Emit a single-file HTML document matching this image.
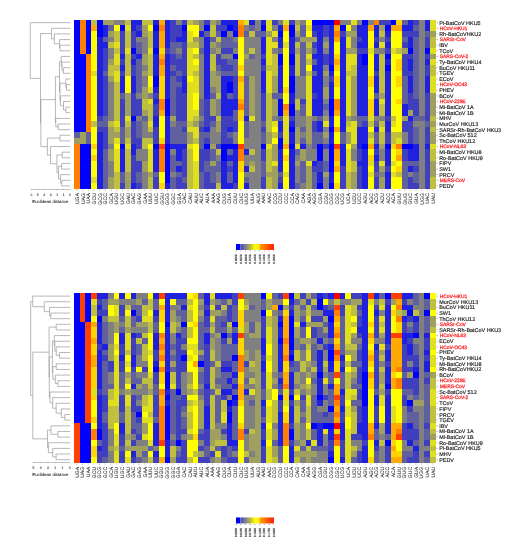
<!DOCTYPE html>
<html><head><meta charset="utf-8">
<style>
html,body{margin:0;padding:0;background:#fff;}
body{width:516px;height:550px;overflow:hidden;}
svg{display:block;will-change:transform;}
text{font-family:"Liberation Sans",sans-serif;text-rendering:geometricPrecision;}
.lb{fill:#222;stroke:#222;stroke-width:0.16px;}
.lr{fill:#ff2a2a;stroke:#ff2a2a;stroke-width:0.263px;}
.cl{fill:#333;stroke:#333;stroke-width:0.087px;}
.lgl{fill:#333;stroke:#333;stroke-width:0.132px;}
.axl{fill:#222;stroke:#222;stroke-width:0.051px;}
.axt{fill:#222;stroke:#222;stroke-width:0.063px;}
.tk{stroke:#777;stroke-width:0.5;fill:none;}
.tk2{stroke:#444;stroke-width:0.6;fill:none;}
.ax{stroke:#888;stroke-width:0.5;fill:none;}
.dg{stroke:#999;stroke-width:0.7;fill:none;}
</style></head><body>
<svg width="516" height="550" viewBox="0 0 516 550">
<defs><filter id="bl" x="-2%" y="-2%" width="104%" height="104%"><feGaussianBlur stdDeviation="0.6"/></filter><filter id="tb" x="-5%" y="-5%" width="110%" height="110%"><feGaussianBlur stdDeviation="0.25"/></filter><linearGradient id="lg1" x1="0" x2="1" y1="0" y2="0">
<stop offset="0" stop-color="#4646b9"/><stop offset="0.27" stop-color="#80808c"/>
<stop offset="0.51" stop-color="#b4b446"/><stop offset="0.77" stop-color="#ffff00"/><stop offset="1" stop-color="#fff000"/>
</linearGradient><linearGradient id="lg2" x1="0" x2="1" y1="0" y2="0">
<stop offset="0" stop-color="#ffa000"/><stop offset="0.35" stop-color="#ff7800"/><stop offset="0.68" stop-color="#ff4600"/><stop offset="1" stop-color="#ff1400"/>
</linearGradient></defs>
<g shape-rendering="crispEdges"><path fill="#0000ff" d="M74.30 19.85h5.65v5.63h-5.65zM85.60 19.85h5.65v5.63h-5.65zM96.90 19.85h5.65v5.63h-5.65zM311.60 19.85h22.60v5.63h-22.60zM362.45 19.85h5.65v5.63h-5.65zM390.70 19.85h5.65v5.63h-5.65zM74.30 25.48h5.65v5.63h-5.65zM85.60 25.48h5.65v5.63h-5.65zM96.90 25.48h5.65v5.63h-5.65zM119.50 25.48h5.65v5.63h-5.65zM153.40 25.48h5.65v5.63h-5.65zM181.65 25.48h5.65v5.63h-5.65zM204.25 25.48h5.65v5.63h-5.65zM226.85 25.48h5.65v5.63h-5.65zM260.75 25.48h5.65v5.63h-5.65zM289.00 25.48h5.65v5.63h-5.65zM339.85 25.48h5.65v5.63h-5.65zM385.05 25.48h5.65v5.63h-5.65zM74.30 31.11h5.65v5.63h-5.65zM85.60 31.11h5.65v5.63h-5.65zM96.90 31.11h5.65v5.63h-5.65zM221.20 31.11h5.65v5.63h-5.65zM232.50 31.11h5.65v5.63h-5.65zM277.70 31.11h5.65v5.63h-5.65zM289.00 31.11h5.65v5.63h-5.65zM74.30 36.74h5.65v5.63h-5.65zM85.60 36.74h5.65v5.63h-5.65zM74.30 42.37h5.65v5.63h-5.65zM85.60 42.37h5.65v5.63h-5.65zM74.30 48.00h5.65v5.63h-5.65zM85.60 48.00h5.65v5.63h-5.65zM130.80 48.00h5.65v5.63h-5.65zM153.40 48.00h5.65v5.63h-5.65zM407.65 48.00h5.65v5.63h-5.65zM424.60 48.00h5.65v5.63h-5.65zM74.30 53.63h11.30v5.63h-11.30zM232.50 53.63h5.65v5.63h-5.65zM277.70 53.63h5.65v5.63h-5.65zM289.00 53.63h5.65v5.63h-5.65zM362.45 53.63h5.65v5.63h-5.65zM385.05 53.63h5.65v5.63h-5.65zM74.30 59.26h11.30v5.63h-11.30zM277.70 59.26h5.65v5.63h-5.65zM289.00 59.26h5.65v5.63h-5.65zM362.45 59.26h5.65v5.63h-5.65zM74.30 64.89h11.30v5.63h-11.30zM328.55 64.89h5.65v5.63h-5.65zM385.05 64.89h5.65v5.63h-5.65zM74.30 70.52h11.30v5.63h-11.30zM74.30 76.15h11.30v5.63h-11.30zM153.40 76.15h5.65v5.63h-5.65zM289.00 76.15h5.65v5.63h-5.65zM74.30 81.78h11.30v5.63h-11.30zM153.40 81.78h5.65v5.63h-5.65zM226.85 81.78h5.65v5.63h-5.65zM289.00 81.78h5.65v5.63h-5.65zM74.30 87.41h11.30v5.63h-11.30zM226.85 87.41h5.65v5.63h-5.65zM289.00 87.41h5.65v5.63h-5.65zM74.30 93.04h11.30v5.63h-11.30zM74.30 98.67h11.30v5.63h-11.30zM164.70 98.67h5.65v5.63h-5.65zM277.70 98.67h5.65v5.63h-5.65zM328.55 98.67h5.65v5.63h-5.65zM74.30 104.30h11.30v5.63h-11.30zM164.70 104.30h5.65v5.63h-5.65zM277.70 104.30h5.65v5.63h-5.65zM289.00 104.30h5.65v5.63h-5.65zM328.55 104.30h5.65v5.63h-5.65zM74.30 109.93h11.30v5.63h-11.30zM164.70 109.93h5.65v5.63h-5.65zM277.70 109.93h5.65v5.63h-5.65zM289.00 109.93h5.65v5.63h-5.65zM328.55 109.93h5.65v5.63h-5.65zM74.30 115.56h11.30v5.63h-11.30zM130.80 115.56h5.65v5.63h-5.65zM74.30 121.19h11.30v5.63h-11.30zM74.30 126.82h11.30v5.63h-11.30zM289.00 126.82h5.65v5.63h-5.65zM328.55 126.82h5.65v5.63h-5.65zM277.70 138.08h5.65v5.63h-5.65zM79.95 143.71h11.30v5.63h-11.30zM119.50 143.71h5.65v5.63h-5.65zM153.40 143.71h5.65v5.63h-5.65zM164.70 143.71h5.65v5.63h-5.65zM204.25 143.71h5.65v5.63h-5.65zM221.20 143.71h16.95v5.63h-16.95zM260.75 143.71h5.65v5.63h-5.65zM277.70 143.71h5.65v5.63h-5.65zM289.00 143.71h5.65v5.63h-5.65zM317.25 143.71h5.65v5.63h-5.65zM328.55 143.71h5.65v5.63h-5.65zM362.45 143.71h5.65v5.63h-5.65zM385.05 143.71h5.65v5.63h-5.65zM402.00 143.71h11.30v5.63h-11.30zM79.95 149.34h11.30v5.63h-11.30zM164.70 149.34h5.65v5.63h-5.65zM221.20 149.34h5.65v5.63h-5.65zM317.25 149.34h5.65v5.63h-5.65zM328.55 149.34h5.65v5.63h-5.65zM79.95 154.97h11.30v5.63h-11.30zM164.70 154.97h5.65v5.63h-5.65zM221.20 154.97h5.65v5.63h-5.65zM317.25 154.97h5.65v5.63h-5.65zM328.55 154.97h5.65v5.63h-5.65zM79.95 160.60h11.30v5.63h-11.30zM164.70 160.60h5.65v5.63h-5.65zM328.55 160.60h5.65v5.63h-5.65zM79.95 166.23h11.30v5.63h-11.30zM164.70 166.23h5.65v5.63h-5.65zM328.55 166.23h5.65v5.63h-5.65zM79.95 171.86h11.30v5.63h-11.30zM164.70 171.86h5.65v5.63h-5.65zM79.95 177.49h11.30v5.63h-11.30zM164.70 177.49h5.65v5.63h-5.65zM79.95 183.12h11.30v5.63h-11.30zM317.25 183.12h5.65v5.63h-5.65zM328.55 183.12h5.65v5.63h-5.65z"/><path fill="#ff8000" d="M79.95 19.85h5.65v5.63h-5.65zM373.75 19.85h5.65v5.63h-5.65zM79.95 25.48h5.65v5.63h-5.65zM159.05 25.48h5.65v5.63h-5.65zM238.15 25.48h5.65v5.63h-5.65zM79.95 31.11h5.65v5.63h-5.65zM238.15 31.11h5.65v5.63h-5.65zM334.20 31.11h5.65v5.63h-5.65zM79.95 36.74h5.65v5.63h-5.65zM79.95 42.37h5.65v5.63h-5.65zM79.95 48.00h5.65v5.63h-5.65zM85.60 53.63h5.65v5.63h-5.65zM85.60 59.26h5.65v5.63h-5.65zM159.05 59.26h5.65v5.63h-5.65zM85.60 64.89h5.65v5.63h-5.65zM85.60 70.52h5.65v5.63h-5.65zM85.60 76.15h5.65v5.63h-5.65zM85.60 81.78h5.65v5.63h-5.65zM85.60 87.41h5.65v5.63h-5.65zM85.60 93.04h5.65v5.63h-5.65zM85.60 98.67h5.65v5.63h-5.65zM159.05 98.67h5.65v5.63h-5.65zM334.20 98.67h5.65v5.63h-5.65zM85.60 104.30h5.65v5.63h-5.65zM159.05 104.30h5.65v5.63h-5.65zM238.15 104.30h5.65v5.63h-5.65zM283.35 104.30h5.65v5.63h-5.65zM334.20 104.30h5.65v5.63h-5.65zM85.60 109.93h5.65v5.63h-5.65zM85.60 115.56h5.65v5.63h-5.65zM85.60 121.19h5.65v5.63h-5.65zM85.60 126.82h5.65v5.63h-5.65zM74.30 143.71h5.65v5.63h-5.65zM396.35 143.71h5.65v5.63h-5.65zM74.30 149.34h5.65v5.63h-5.65zM159.05 149.34h5.65v5.63h-5.65zM238.15 149.34h5.65v5.63h-5.65zM74.30 154.97h5.65v5.63h-5.65zM159.05 154.97h5.65v5.63h-5.65zM238.15 154.97h5.65v5.63h-5.65zM74.30 160.60h5.65v5.63h-5.65zM159.05 160.60h5.65v5.63h-5.65zM74.30 166.23h5.65v5.63h-5.65zM159.05 166.23h5.65v5.63h-5.65zM74.30 171.86h5.65v5.63h-5.65zM74.30 177.49h5.65v5.63h-5.65zM74.30 183.12h5.65v5.63h-5.65z"/><path fill="#bfbf40" d="M91.25 19.85h5.65v5.63h-5.65zM125.15 19.85h5.65v5.63h-5.65zM142.10 19.85h11.30v5.63h-11.30zM187.30 19.85h5.65v5.63h-5.65zM209.90 25.48h5.65v5.63h-5.65zM294.65 25.48h5.65v5.63h-5.65zM113.85 31.11h5.65v5.63h-5.65zM125.15 31.11h5.65v5.63h-5.65zM147.75 31.11h5.65v5.63h-5.65zM209.90 31.11h5.65v5.63h-5.65zM249.45 31.11h5.65v5.63h-5.65zM379.40 31.11h5.65v5.63h-5.65zM113.85 36.74h5.65v5.63h-5.65zM125.15 36.74h5.65v5.63h-5.65zM147.75 36.74h5.65v5.63h-5.65zM215.55 36.74h5.65v5.63h-5.65zM430.25 36.74h5.65v5.63h-5.65zM108.20 42.37h5.65v5.63h-5.65zM125.15 42.37h5.65v5.63h-5.65zM147.75 42.37h5.65v5.63h-5.65zM187.30 42.37h11.30v5.63h-11.30zM294.65 42.37h5.65v5.63h-5.65zM305.95 42.37h5.65v5.63h-5.65zM430.25 42.37h5.65v5.63h-5.65zM113.85 48.00h5.65v5.63h-5.65zM249.45 48.00h5.65v5.63h-5.65zM396.35 48.00h5.65v5.63h-5.65zM125.15 53.63h5.65v5.63h-5.65zM147.75 53.63h5.65v5.63h-5.65zM192.95 53.63h5.65v5.63h-5.65zM209.90 53.63h5.65v5.63h-5.65zM272.05 53.63h5.65v5.63h-5.65zM294.65 53.63h5.65v5.63h-5.65zM379.40 53.63h5.65v5.63h-5.65zM125.15 59.26h5.65v5.63h-5.65zM147.75 59.26h5.65v5.63h-5.65zM209.90 59.26h5.65v5.63h-5.65zM272.05 59.26h5.65v5.63h-5.65zM294.65 59.26h5.65v5.63h-5.65zM305.95 59.26h5.65v5.63h-5.65zM379.40 59.26h5.65v5.63h-5.65zM108.20 64.89h11.30v5.63h-11.30zM125.15 64.89h5.65v5.63h-5.65zM147.75 64.89h5.65v5.63h-5.65zM209.90 64.89h5.65v5.63h-5.65zM266.40 64.89h11.30v5.63h-11.30zM294.65 64.89h5.65v5.63h-5.65zM351.15 64.89h5.65v5.63h-5.65zM379.40 64.89h5.65v5.63h-5.65zM430.25 64.89h5.65v5.63h-5.65zM108.20 70.52h5.65v5.63h-5.65zM125.15 70.52h5.65v5.63h-5.65zM147.75 70.52h5.65v5.63h-5.65zM192.95 70.52h5.65v5.63h-5.65zM272.05 70.52h5.65v5.63h-5.65zM294.65 70.52h5.65v5.63h-5.65zM305.95 70.52h5.65v5.63h-5.65zM345.50 70.52h11.30v5.63h-11.30zM379.40 70.52h5.65v5.63h-5.65zM430.25 70.52h5.65v5.63h-5.65zM379.40 76.15h5.65v5.63h-5.65zM113.85 81.78h5.65v5.63h-5.65zM379.40 81.78h5.65v5.63h-5.65zM113.85 87.41h5.65v5.63h-5.65zM379.40 87.41h5.65v5.63h-5.65zM113.85 93.04h5.65v5.63h-5.65zM215.55 93.04h5.65v5.63h-5.65zM266.40 93.04h5.65v5.63h-5.65zM113.85 98.67h5.65v5.63h-5.65zM142.10 98.67h5.65v5.63h-5.65zM266.40 98.67h5.65v5.63h-5.65zM294.65 98.67h5.65v5.63h-5.65zM113.85 104.30h5.65v5.63h-5.65zM142.10 104.30h11.30v5.63h-11.30zM266.40 104.30h5.65v5.63h-5.65zM294.65 104.30h5.65v5.63h-5.65zM379.40 104.30h5.65v5.63h-5.65zM113.85 109.93h5.65v5.63h-5.65zM147.75 109.93h5.65v5.63h-5.65zM266.40 109.93h5.65v5.63h-5.65zM379.40 109.93h5.65v5.63h-5.65zM113.85 115.56h5.65v5.63h-5.65zM147.75 115.56h5.65v5.63h-5.65zM192.95 115.56h5.65v5.63h-5.65zM215.55 115.56h5.65v5.63h-5.65zM266.40 115.56h5.65v5.63h-5.65zM390.70 115.56h5.65v5.63h-5.65zM430.25 115.56h5.65v5.63h-5.65zM91.25 121.19h5.65v5.63h-5.65zM108.20 121.19h5.65v5.63h-5.65zM125.15 121.19h5.65v5.63h-5.65zM187.30 121.19h5.65v5.63h-5.65zM266.40 121.19h5.65v5.63h-5.65zM345.50 121.19h5.65v5.63h-5.65zM368.10 121.19h5.65v5.63h-5.65zM379.40 121.19h5.65v5.63h-5.65zM113.85 126.82h5.65v5.63h-5.65zM147.75 126.82h5.65v5.63h-5.65zM266.40 126.82h5.65v5.63h-5.65zM430.25 126.82h5.65v5.63h-5.65zM272.05 132.45h5.65v5.63h-5.65zM368.10 132.45h5.65v5.63h-5.65zM379.40 132.45h5.65v5.63h-5.65zM390.70 132.45h11.30v5.63h-11.30zM125.15 138.08h5.65v5.63h-5.65zM142.10 138.08h11.30v5.63h-11.30zM192.95 138.08h5.65v5.63h-5.65zM379.40 138.08h5.65v5.63h-5.65zM390.70 138.08h5.65v5.63h-5.65zM142.10 143.71h5.65v5.63h-5.65zM125.15 149.34h5.65v5.63h-5.65zM187.30 149.34h5.65v5.63h-5.65zM215.55 149.34h5.65v5.63h-5.65zM249.45 149.34h5.65v5.63h-5.65zM266.40 149.34h5.65v5.63h-5.65zM430.25 149.34h5.65v5.63h-5.65zM125.15 154.97h5.65v5.63h-5.65zM187.30 154.97h5.65v5.63h-5.65zM266.40 154.97h5.65v5.63h-5.65zM430.25 154.97h5.65v5.63h-5.65zM125.15 160.60h5.65v5.63h-5.65zM187.30 160.60h5.65v5.63h-5.65zM266.40 160.60h5.65v5.63h-5.65zM351.15 160.60h5.65v5.63h-5.65zM125.15 166.23h5.65v5.63h-5.65zM187.30 166.23h5.65v5.63h-5.65zM249.45 166.23h5.65v5.63h-5.65zM266.40 166.23h5.65v5.63h-5.65zM351.15 166.23h5.65v5.63h-5.65zM113.85 171.86h5.65v5.63h-5.65zM187.30 171.86h5.65v5.63h-5.65zM345.50 171.86h5.65v5.63h-5.65zM396.35 171.86h5.65v5.63h-5.65zM113.85 177.49h5.65v5.63h-5.65zM147.75 177.49h5.65v5.63h-5.65zM187.30 177.49h5.65v5.63h-5.65zM266.40 177.49h5.65v5.63h-5.65zM345.50 177.49h5.65v5.63h-5.65zM430.25 177.49h5.65v5.63h-5.65zM113.85 183.12h5.65v5.63h-5.65zM147.75 183.12h5.65v5.63h-5.65zM187.30 183.12h5.65v5.63h-5.65zM215.55 183.12h5.65v5.63h-5.65zM266.40 183.12h5.65v5.63h-5.65zM345.50 183.12h5.65v5.63h-5.65zM430.25 183.12h5.65v5.63h-5.65z"/><path fill="#9f9f60" d="M102.55 19.85h11.30v5.63h-11.30zM192.95 19.85h5.65v5.63h-5.65zM209.90 19.85h5.65v5.63h-5.65zM294.65 19.85h5.65v5.63h-5.65zM142.10 25.48h5.65v5.63h-5.65zM379.40 25.48h5.65v5.63h-5.65zM108.20 31.11h5.65v5.63h-5.65zM142.10 31.11h5.65v5.63h-5.65zM266.40 31.11h5.65v5.63h-5.65zM294.65 31.11h5.65v5.63h-5.65zM345.50 31.11h11.30v5.63h-11.30zM430.25 31.11h5.65v5.63h-5.65zM192.95 36.74h5.65v5.63h-5.65zM300.30 36.74h16.95v5.63h-16.95zM209.90 42.37h5.65v5.63h-5.65zM322.90 42.37h5.65v5.63h-5.65zM215.55 48.00h5.65v5.63h-5.65zM294.65 48.00h5.65v5.63h-5.65zM305.95 48.00h5.65v5.63h-5.65zM345.50 48.00h11.30v5.63h-11.30zM402.00 48.00h5.65v5.63h-5.65zM142.10 53.63h5.65v5.63h-5.65zM243.80 53.63h5.65v5.63h-5.65zM430.25 53.63h5.65v5.63h-5.65zM108.20 59.26h5.65v5.63h-5.65zM142.10 59.26h5.65v5.63h-5.65zM142.10 70.52h5.65v5.63h-5.65zM209.90 70.52h5.65v5.63h-5.65zM322.90 70.52h5.65v5.63h-5.65zM108.20 76.15h5.65v5.63h-5.65zM209.90 76.15h11.30v5.63h-11.30zM249.45 76.15h5.65v5.63h-5.65zM272.05 76.15h5.65v5.63h-5.65zM351.15 76.15h5.65v5.63h-5.65zM209.90 81.78h11.30v5.63h-11.30zM249.45 81.78h5.65v5.63h-5.65zM272.05 81.78h5.65v5.63h-5.65zM351.15 81.78h5.65v5.63h-5.65zM142.10 87.41h5.65v5.63h-5.65zM215.55 87.41h5.65v5.63h-5.65zM249.45 87.41h5.65v5.63h-5.65zM272.05 87.41h5.65v5.63h-5.65zM322.90 87.41h5.65v5.63h-5.65zM351.15 87.41h5.65v5.63h-5.65zM125.15 93.04h5.65v5.63h-5.65zM142.10 93.04h5.65v5.63h-5.65zM249.45 93.04h5.65v5.63h-5.65zM322.90 93.04h5.65v5.63h-5.65zM351.15 93.04h5.65v5.63h-5.65zM379.40 93.04h5.65v5.63h-5.65zM430.25 93.04h5.65v5.63h-5.65zM125.15 98.67h5.65v5.63h-5.65zM209.90 98.67h5.65v5.63h-5.65zM249.45 98.67h5.65v5.63h-5.65zM272.05 98.67h5.65v5.63h-5.65zM351.15 98.67h5.65v5.63h-5.65zM430.25 98.67h5.65v5.63h-5.65zM125.15 104.30h5.65v5.63h-5.65zM209.90 104.30h5.65v5.63h-5.65zM249.45 104.30h5.65v5.63h-5.65zM272.05 104.30h5.65v5.63h-5.65zM351.15 104.30h5.65v5.63h-5.65zM430.25 104.30h5.65v5.63h-5.65zM125.15 109.93h5.65v5.63h-5.65zM142.10 109.93h5.65v5.63h-5.65zM209.90 109.93h5.65v5.63h-5.65zM249.45 109.93h5.65v5.63h-5.65zM272.05 109.93h5.65v5.63h-5.65zM351.15 109.93h5.65v5.63h-5.65zM407.65 109.93h5.65v5.63h-5.65zM430.25 109.93h5.65v5.63h-5.65zM170.35 115.56h5.65v5.63h-5.65zM305.95 115.56h5.65v5.63h-5.65zM322.90 115.56h5.65v5.63h-5.65zM345.50 115.56h5.65v5.63h-5.65zM402.00 115.56h5.65v5.63h-5.65zM192.95 121.19h5.65v5.63h-5.65zM215.55 121.19h5.65v5.63h-5.65zM305.95 121.19h5.65v5.63h-5.65zM430.25 121.19h5.65v5.63h-5.65zM108.20 126.82h5.65v5.63h-5.65zM125.15 126.82h5.65v5.63h-5.65zM215.55 126.82h5.65v5.63h-5.65zM294.65 126.82h5.65v5.63h-5.65zM305.95 126.82h5.65v5.63h-5.65zM79.95 132.45h5.65v5.63h-5.65zM108.20 132.45h11.30v5.63h-11.30zM125.15 132.45h5.65v5.63h-5.65zM187.30 132.45h5.65v5.63h-5.65zM266.40 132.45h5.65v5.63h-5.65zM294.65 132.45h5.65v5.63h-5.65zM305.95 132.45h5.65v5.63h-5.65zM322.90 132.45h5.65v5.63h-5.65zM345.50 132.45h5.65v5.63h-5.65zM430.25 132.45h5.65v5.63h-5.65zM74.30 138.08h11.30v5.63h-11.30zM108.20 138.08h5.65v5.63h-5.65zM187.30 138.08h5.65v5.63h-5.65zM266.40 138.08h5.65v5.63h-5.65zM294.65 138.08h5.65v5.63h-5.65zM305.95 138.08h5.65v5.63h-5.65zM345.50 138.08h5.65v5.63h-5.65zM430.25 138.08h5.65v5.63h-5.65zM209.90 143.71h5.65v5.63h-5.65zM272.05 143.71h5.65v5.63h-5.65zM351.15 143.71h5.65v5.63h-5.65zM379.40 143.71h5.65v5.63h-5.65zM108.20 149.34h5.65v5.63h-5.65zM272.05 149.34h5.65v5.63h-5.65zM300.30 149.34h5.65v5.63h-5.65zM108.20 154.97h5.65v5.63h-5.65zM272.05 154.97h5.65v5.63h-5.65zM300.30 154.97h5.65v5.63h-5.65zM142.10 160.60h5.65v5.63h-5.65zM209.90 160.60h5.65v5.63h-5.65zM249.45 160.60h5.65v5.63h-5.65zM294.65 160.60h5.65v5.63h-5.65zM430.25 160.60h5.65v5.63h-5.65zM142.10 166.23h5.65v5.63h-5.65zM272.05 166.23h5.65v5.63h-5.65zM305.95 166.23h5.65v5.63h-5.65zM379.40 166.23h5.65v5.63h-5.65zM430.25 166.23h5.65v5.63h-5.65zM125.15 171.86h5.65v5.63h-5.65zM147.75 171.86h5.65v5.63h-5.65zM266.40 171.86h11.30v5.63h-11.30zM305.95 171.86h5.65v5.63h-5.65zM322.90 171.86h5.65v5.63h-5.65zM351.15 171.86h5.65v5.63h-5.65zM430.25 171.86h5.65v5.63h-5.65zM108.20 177.49h5.65v5.63h-5.65zM125.15 177.49h5.65v5.63h-5.65zM272.05 177.49h5.65v5.63h-5.65zM305.95 177.49h5.65v5.63h-5.65zM351.15 177.49h5.65v5.63h-5.65zM379.40 177.49h5.65v5.63h-5.65zM108.20 183.12h5.65v5.63h-5.65zM125.15 183.12h5.65v5.63h-5.65zM272.05 183.12h5.65v5.63h-5.65zM305.95 183.12h5.65v5.63h-5.65zM351.15 183.12h5.65v5.63h-5.65zM379.40 183.12h5.65v5.63h-5.65z"/><path fill="#808080" d="M113.85 19.85h11.30v5.63h-11.30zM176.00 19.85h5.65v5.63h-5.65zM198.60 19.85h5.65v5.63h-5.65zM215.55 19.85h5.65v5.63h-5.65zM255.10 19.85h5.65v5.63h-5.65zM277.70 19.85h5.65v5.63h-5.65zM300.30 19.85h5.65v5.63h-5.65zM339.85 19.85h11.30v5.63h-11.30zM356.80 19.85h5.65v5.63h-5.65zM368.10 19.85h5.65v5.63h-5.65zM418.95 19.85h5.65v5.63h-5.65zM198.60 25.48h5.65v5.63h-5.65zM243.80 25.48h5.65v5.63h-5.65zM255.10 25.48h5.65v5.63h-5.65zM272.05 25.48h5.65v5.63h-5.65zM351.15 25.48h5.65v5.63h-5.65zM418.95 25.48h5.65v5.63h-5.65zM226.85 31.11h5.65v5.63h-5.65zM418.95 31.11h5.65v5.63h-5.65zM108.20 36.74h5.65v5.63h-5.65zM136.45 36.74h11.30v5.63h-11.30zM198.60 36.74h5.65v5.63h-5.65zM232.50 36.74h5.65v5.63h-5.65zM243.80 36.74h16.95v5.63h-16.95zM272.05 36.74h5.65v5.63h-5.65zM322.90 36.74h5.65v5.63h-5.65zM351.15 36.74h5.65v5.63h-5.65zM379.40 36.74h5.65v5.63h-5.65zM418.95 36.74h5.65v5.63h-5.65zM142.10 42.37h5.65v5.63h-5.65zM198.60 42.37h5.65v5.63h-5.65zM215.55 42.37h5.65v5.63h-5.65zM243.80 42.37h16.95v5.63h-16.95zM351.15 42.37h5.65v5.63h-5.65zM418.95 42.37h5.65v5.63h-5.65zM108.20 48.00h5.65v5.63h-5.65zM142.10 48.00h5.65v5.63h-5.65zM176.00 48.00h5.65v5.63h-5.65zM209.90 48.00h5.65v5.63h-5.65zM232.50 48.00h5.65v5.63h-5.65zM243.80 48.00h5.65v5.63h-5.65zM255.10 48.00h5.65v5.63h-5.65zM272.05 48.00h5.65v5.63h-5.65zM322.90 48.00h5.65v5.63h-5.65zM373.75 48.00h11.30v5.63h-11.30zM418.95 48.00h5.65v5.63h-5.65zM108.20 53.63h5.65v5.63h-5.65zM198.60 53.63h5.65v5.63h-5.65zM221.20 53.63h11.30v5.63h-11.30zM255.10 53.63h5.65v5.63h-5.65zM418.95 53.63h5.65v5.63h-5.65zM198.60 59.26h5.65v5.63h-5.65zM243.80 59.26h16.95v5.63h-16.95zM418.95 59.26h5.65v5.63h-5.65zM142.10 64.89h5.65v5.63h-5.65zM198.60 64.89h5.65v5.63h-5.65zM243.80 64.89h16.95v5.63h-16.95zM322.90 64.89h5.65v5.63h-5.65zM418.95 64.89h5.65v5.63h-5.65zM198.60 70.52h5.65v5.63h-5.65zM215.55 70.52h5.65v5.63h-5.65zM243.80 70.52h16.95v5.63h-16.95zM418.95 70.52h5.65v5.63h-5.65zM142.10 76.15h5.65v5.63h-5.65zM198.60 76.15h5.65v5.63h-5.65zM255.10 76.15h5.65v5.63h-5.65zM294.65 76.15h11.30v5.63h-11.30zM322.90 76.15h5.65v5.63h-5.65zM418.95 76.15h5.65v5.63h-5.65zM108.20 81.78h5.65v5.63h-5.65zM142.10 81.78h5.65v5.63h-5.65zM198.60 81.78h5.65v5.63h-5.65zM255.10 81.78h5.65v5.63h-5.65zM294.65 81.78h11.30v5.63h-11.30zM322.90 81.78h5.65v5.63h-5.65zM418.95 81.78h5.65v5.63h-5.65zM108.20 87.41h5.65v5.63h-5.65zM198.60 87.41h5.65v5.63h-5.65zM209.90 87.41h5.65v5.63h-5.65zM255.10 87.41h5.65v5.63h-5.65zM294.65 87.41h11.30v5.63h-11.30zM418.95 87.41h5.65v5.63h-5.65zM108.20 93.04h5.65v5.63h-5.65zM136.45 93.04h5.65v5.63h-5.65zM147.75 93.04h5.65v5.63h-5.65zM198.60 93.04h5.65v5.63h-5.65zM255.10 93.04h5.65v5.63h-5.65zM294.65 93.04h11.30v5.63h-11.30zM418.95 93.04h5.65v5.63h-5.65zM108.20 98.67h5.65v5.63h-5.65zM215.55 98.67h5.65v5.63h-5.65zM255.10 98.67h5.65v5.63h-5.65zM322.90 98.67h5.65v5.63h-5.65zM418.95 98.67h5.65v5.63h-5.65zM108.20 104.30h5.65v5.63h-5.65zM215.55 104.30h5.65v5.63h-5.65zM255.10 104.30h5.65v5.63h-5.65zM418.95 104.30h5.65v5.63h-5.65zM108.20 109.93h5.65v5.63h-5.65zM215.55 109.93h5.65v5.63h-5.65zM255.10 109.93h5.65v5.63h-5.65zM294.65 109.93h5.65v5.63h-5.65zM322.90 109.93h5.65v5.63h-5.65zM418.95 109.93h5.65v5.63h-5.65zM108.20 115.56h5.65v5.63h-5.65zM136.45 115.56h5.65v5.63h-5.65zM198.60 115.56h5.65v5.63h-5.65zM255.10 115.56h5.65v5.63h-5.65zM272.05 115.56h5.65v5.63h-5.65zM294.65 115.56h11.30v5.63h-11.30zM311.60 115.56h5.65v5.63h-5.65zM351.15 115.56h5.65v5.63h-5.65zM373.75 115.56h11.30v5.63h-11.30zM142.10 121.19h5.65v5.63h-5.65zM170.35 121.19h5.65v5.63h-5.65zM249.45 121.19h11.30v5.63h-11.30zM294.65 121.19h11.30v5.63h-11.30zM413.30 121.19h11.30v5.63h-11.30zM142.10 126.82h5.65v5.63h-5.65zM209.90 126.82h5.65v5.63h-5.65zM249.45 126.82h11.30v5.63h-11.30zM322.90 126.82h5.65v5.63h-5.65zM418.95 126.82h5.65v5.63h-5.65zM142.10 132.45h11.30v5.63h-11.30zM209.90 132.45h11.30v5.63h-11.30zM232.50 132.45h5.65v5.63h-5.65zM249.45 132.45h11.30v5.63h-11.30zM300.30 132.45h5.65v5.63h-5.65zM402.00 132.45h5.65v5.63h-5.65zM418.95 132.45h5.65v5.63h-5.65zM209.90 138.08h11.30v5.63h-11.30zM232.50 138.08h5.65v5.63h-5.65zM243.80 138.08h16.95v5.63h-16.95zM322.90 138.08h5.65v5.63h-5.65zM402.00 138.08h5.65v5.63h-5.65zM418.95 138.08h5.65v5.63h-5.65zM108.20 143.71h5.65v5.63h-5.65zM243.80 143.71h16.95v5.63h-16.95zM305.95 143.71h5.65v5.63h-5.65zM418.95 143.71h5.65v5.63h-5.65zM136.45 149.34h11.30v5.63h-11.30zM170.35 149.34h5.65v5.63h-5.65zM255.10 149.34h5.65v5.63h-5.65zM305.95 149.34h11.30v5.63h-11.30zM322.90 149.34h5.65v5.63h-5.65zM351.15 149.34h5.65v5.63h-5.65zM379.40 149.34h5.65v5.63h-5.65zM418.95 149.34h5.65v5.63h-5.65zM136.45 154.97h11.30v5.63h-11.30zM215.55 154.97h5.65v5.63h-5.65zM243.80 154.97h16.95v5.63h-16.95zM294.65 154.97h5.65v5.63h-5.65zM305.95 154.97h11.30v5.63h-11.30zM322.90 154.97h5.65v5.63h-5.65zM351.15 154.97h5.65v5.63h-5.65zM379.40 154.97h5.65v5.63h-5.65zM418.95 154.97h5.65v5.63h-5.65zM108.20 160.60h5.65v5.63h-5.65zM243.80 160.60h5.65v5.63h-5.65zM255.10 160.60h5.65v5.63h-5.65zM418.95 160.60h5.65v5.63h-5.65zM108.20 166.23h5.65v5.63h-5.65zM255.10 166.23h5.65v5.63h-5.65zM294.65 166.23h5.65v5.63h-5.65zM418.95 166.23h5.65v5.63h-5.65zM108.20 171.86h5.65v5.63h-5.65zM142.10 171.86h5.65v5.63h-5.65zM170.35 171.86h5.65v5.63h-5.65zM215.55 171.86h5.65v5.63h-5.65zM243.80 171.86h16.95v5.63h-16.95zM294.65 171.86h5.65v5.63h-5.65zM379.40 171.86h5.65v5.63h-5.65zM407.65 171.86h5.65v5.63h-5.65zM418.95 171.86h5.65v5.63h-5.65zM142.10 177.49h5.65v5.63h-5.65zM215.55 177.49h5.65v5.63h-5.65zM249.45 177.49h11.30v5.63h-11.30zM294.65 177.49h5.65v5.63h-5.65zM322.90 177.49h5.65v5.63h-5.65zM418.95 177.49h5.65v5.63h-5.65zM142.10 183.12h5.65v5.63h-5.65zM249.45 183.12h11.30v5.63h-11.30zM300.30 183.12h5.65v5.63h-5.65zM322.90 183.12h5.65v5.63h-5.65zM418.95 183.12h5.65v5.63h-5.65z"/><path fill="#2020df" d="M130.80 19.85h11.30v5.63h-11.30zM153.40 19.85h5.65v5.63h-5.65zM164.70 19.85h5.65v5.63h-5.65zM221.20 19.85h16.95v5.63h-16.95zM249.45 19.85h5.65v5.63h-5.65zM260.75 19.85h5.65v5.63h-5.65zM407.65 19.85h5.65v5.63h-5.65zM424.60 19.85h5.65v5.63h-5.65zM102.55 25.48h5.65v5.63h-5.65zM130.80 25.48h5.65v5.63h-5.65zM164.70 25.48h5.65v5.63h-5.65zM232.50 25.48h5.65v5.63h-5.65zM277.70 25.48h5.65v5.63h-5.65zM311.60 25.48h11.30v5.63h-11.30zM328.55 25.48h5.65v5.63h-5.65zM356.80 25.48h11.30v5.63h-11.30zM373.75 25.48h5.65v5.63h-5.65zM402.00 25.48h11.30v5.63h-11.30zM424.60 25.48h5.65v5.63h-5.65zM102.55 31.11h5.65v5.63h-5.65zM136.45 31.11h5.65v5.63h-5.65zM153.40 31.11h5.65v5.63h-5.65zM164.70 31.11h5.65v5.63h-5.65zM181.65 31.11h5.65v5.63h-5.65zM198.60 31.11h5.65v5.63h-5.65zM317.25 31.11h5.65v5.63h-5.65zM328.55 31.11h5.65v5.63h-5.65zM356.80 31.11h11.30v5.63h-11.30zM373.75 31.11h5.65v5.63h-5.65zM385.05 31.11h5.65v5.63h-5.65zM96.90 36.74h5.65v5.63h-5.65zM153.40 36.74h5.65v5.63h-5.65zM164.70 36.74h5.65v5.63h-5.65zM176.00 36.74h11.30v5.63h-11.30zM204.25 36.74h5.65v5.63h-5.65zM260.75 36.74h5.65v5.63h-5.65zM277.70 36.74h5.65v5.63h-5.65zM289.00 36.74h5.65v5.63h-5.65zM317.25 36.74h5.65v5.63h-5.65zM328.55 36.74h5.65v5.63h-5.65zM339.85 36.74h5.65v5.63h-5.65zM362.45 36.74h5.65v5.63h-5.65zM407.65 36.74h5.65v5.63h-5.65zM96.90 42.37h11.30v5.63h-11.30zM153.40 42.37h5.65v5.63h-5.65zM164.70 42.37h5.65v5.63h-5.65zM204.25 42.37h5.65v5.63h-5.65zM260.75 42.37h5.65v5.63h-5.65zM277.70 42.37h5.65v5.63h-5.65zM289.00 42.37h5.65v5.63h-5.65zM317.25 42.37h5.65v5.63h-5.65zM328.55 42.37h5.65v5.63h-5.65zM339.85 42.37h5.65v5.63h-5.65zM356.80 42.37h11.30v5.63h-11.30zM373.75 42.37h5.65v5.63h-5.65zM385.05 42.37h5.65v5.63h-5.65zM407.65 42.37h5.65v5.63h-5.65zM96.90 48.00h5.65v5.63h-5.65zM204.25 48.00h5.65v5.63h-5.65zM260.75 48.00h5.65v5.63h-5.65zM289.00 48.00h5.65v5.63h-5.65zM317.25 48.00h5.65v5.63h-5.65zM328.55 48.00h5.65v5.63h-5.65zM339.85 48.00h5.65v5.63h-5.65zM96.90 53.63h5.65v5.63h-5.65zM119.50 53.63h5.65v5.63h-5.65zM136.45 53.63h5.65v5.63h-5.65zM153.40 53.63h5.65v5.63h-5.65zM164.70 53.63h5.65v5.63h-5.65zM204.25 53.63h5.65v5.63h-5.65zM311.60 53.63h11.30v5.63h-11.30zM328.55 53.63h5.65v5.63h-5.65zM339.85 53.63h5.65v5.63h-5.65zM356.80 53.63h5.65v5.63h-5.65zM373.75 53.63h5.65v5.63h-5.65zM96.90 59.26h5.65v5.63h-5.65zM130.80 59.26h5.65v5.63h-5.65zM153.40 59.26h5.65v5.63h-5.65zM164.70 59.26h5.65v5.63h-5.65zM204.25 59.26h5.65v5.63h-5.65zM260.75 59.26h5.65v5.63h-5.65zM317.25 59.26h5.65v5.63h-5.65zM328.55 59.26h5.65v5.63h-5.65zM339.85 59.26h5.65v5.63h-5.65zM356.80 59.26h5.65v5.63h-5.65zM373.75 59.26h5.65v5.63h-5.65zM385.05 59.26h5.65v5.63h-5.65zM407.65 59.26h5.65v5.63h-5.65zM424.60 59.26h5.65v5.63h-5.65zM96.90 64.89h5.65v5.63h-5.65zM119.50 64.89h5.65v5.63h-5.65zM153.40 64.89h5.65v5.63h-5.65zM164.70 64.89h5.65v5.63h-5.65zM204.25 64.89h5.65v5.63h-5.65zM277.70 64.89h5.65v5.63h-5.65zM289.00 64.89h5.65v5.63h-5.65zM311.60 64.89h11.30v5.63h-11.30zM339.85 64.89h5.65v5.63h-5.65zM356.80 64.89h11.30v5.63h-11.30zM373.75 64.89h5.65v5.63h-5.65zM407.65 64.89h5.65v5.63h-5.65zM96.90 70.52h5.65v5.63h-5.65zM153.40 70.52h5.65v5.63h-5.65zM164.70 70.52h5.65v5.63h-5.65zM204.25 70.52h5.65v5.63h-5.65zM260.75 70.52h5.65v5.63h-5.65zM277.70 70.52h5.65v5.63h-5.65zM289.00 70.52h5.65v5.63h-5.65zM317.25 70.52h5.65v5.63h-5.65zM328.55 70.52h5.65v5.63h-5.65zM339.85 70.52h5.65v5.63h-5.65zM356.80 70.52h11.30v5.63h-11.30zM385.05 70.52h5.65v5.63h-5.65zM96.90 76.15h5.65v5.63h-5.65zM119.50 76.15h5.65v5.63h-5.65zM130.80 76.15h5.65v5.63h-5.65zM164.70 76.15h5.65v5.63h-5.65zM181.65 76.15h5.65v5.63h-5.65zM204.25 76.15h5.65v5.63h-5.65zM221.20 76.15h11.30v5.63h-11.30zM260.75 76.15h5.65v5.63h-5.65zM277.70 76.15h5.65v5.63h-5.65zM311.60 76.15h11.30v5.63h-11.30zM339.85 76.15h5.65v5.63h-5.65zM356.80 76.15h11.30v5.63h-11.30zM373.75 76.15h5.65v5.63h-5.65zM385.05 76.15h5.65v5.63h-5.65zM407.65 76.15h5.65v5.63h-5.65zM424.60 76.15h5.65v5.63h-5.65zM96.90 81.78h5.65v5.63h-5.65zM119.50 81.78h5.65v5.63h-5.65zM130.80 81.78h5.65v5.63h-5.65zM164.70 81.78h5.65v5.63h-5.65zM181.65 81.78h5.65v5.63h-5.65zM204.25 81.78h5.65v5.63h-5.65zM221.20 81.78h5.65v5.63h-5.65zM260.75 81.78h5.65v5.63h-5.65zM277.70 81.78h5.65v5.63h-5.65zM311.60 81.78h11.30v5.63h-11.30zM328.55 81.78h5.65v5.63h-5.65zM339.85 81.78h5.65v5.63h-5.65zM356.80 81.78h11.30v5.63h-11.30zM373.75 81.78h5.65v5.63h-5.65zM385.05 81.78h5.65v5.63h-5.65zM407.65 81.78h5.65v5.63h-5.65zM424.60 81.78h5.65v5.63h-5.65zM96.90 87.41h5.65v5.63h-5.65zM119.50 87.41h5.65v5.63h-5.65zM130.80 87.41h5.65v5.63h-5.65zM153.40 87.41h5.65v5.63h-5.65zM164.70 87.41h5.65v5.63h-5.65zM181.65 87.41h5.65v5.63h-5.65zM204.25 87.41h5.65v5.63h-5.65zM221.20 87.41h5.65v5.63h-5.65zM260.75 87.41h5.65v5.63h-5.65zM277.70 87.41h5.65v5.63h-5.65zM311.60 87.41h11.30v5.63h-11.30zM328.55 87.41h5.65v5.63h-5.65zM339.85 87.41h5.65v5.63h-5.65zM356.80 87.41h11.30v5.63h-11.30zM373.75 87.41h5.65v5.63h-5.65zM385.05 87.41h5.65v5.63h-5.65zM407.65 87.41h5.65v5.63h-5.65zM424.60 87.41h5.65v5.63h-5.65zM96.90 93.04h5.65v5.63h-5.65zM164.70 93.04h5.65v5.63h-5.65zM204.25 93.04h5.65v5.63h-5.65zM221.20 93.04h5.65v5.63h-5.65zM289.00 93.04h5.65v5.63h-5.65zM317.25 93.04h5.65v5.63h-5.65zM328.55 93.04h5.65v5.63h-5.65zM339.85 93.04h5.65v5.63h-5.65zM356.80 93.04h11.30v5.63h-11.30zM385.05 93.04h5.65v5.63h-5.65zM96.90 98.67h5.65v5.63h-5.65zM153.40 98.67h5.65v5.63h-5.65zM221.20 98.67h16.95v5.63h-16.95zM289.00 98.67h5.65v5.63h-5.65zM311.60 98.67h11.30v5.63h-11.30zM339.85 98.67h5.65v5.63h-5.65zM356.80 98.67h11.30v5.63h-11.30zM373.75 98.67h5.65v5.63h-5.65zM385.05 98.67h5.65v5.63h-5.65zM96.90 104.30h5.65v5.63h-5.65zM221.20 104.30h16.95v5.63h-16.95zM311.60 104.30h11.30v5.63h-11.30zM339.85 104.30h5.65v5.63h-5.65zM356.80 104.30h11.30v5.63h-11.30zM373.75 104.30h5.65v5.63h-5.65zM385.05 104.30h5.65v5.63h-5.65zM402.00 104.30h5.65v5.63h-5.65zM96.90 109.93h5.65v5.63h-5.65zM221.20 109.93h11.30v5.63h-11.30zM311.60 109.93h11.30v5.63h-11.30zM339.85 109.93h5.65v5.63h-5.65zM356.80 109.93h11.30v5.63h-11.30zM373.75 109.93h5.65v5.63h-5.65zM385.05 109.93h5.65v5.63h-5.65zM402.00 109.93h5.65v5.63h-5.65zM153.40 115.56h5.65v5.63h-5.65zM164.70 115.56h5.65v5.63h-5.65zM243.80 115.56h5.65v5.63h-5.65zM328.55 115.56h5.65v5.63h-5.65zM339.85 115.56h5.65v5.63h-5.65zM407.65 115.56h5.65v5.63h-5.65zM153.40 121.19h5.65v5.63h-5.65zM164.70 121.19h5.65v5.63h-5.65zM277.70 121.19h5.65v5.63h-5.65zM289.00 121.19h5.65v5.63h-5.65zM317.25 121.19h5.65v5.63h-5.65zM328.55 121.19h5.65v5.63h-5.65zM339.85 121.19h5.65v5.63h-5.65zM385.05 121.19h5.65v5.63h-5.65zM164.70 126.82h5.65v5.63h-5.65zM204.25 126.82h5.65v5.63h-5.65zM226.85 126.82h5.65v5.63h-5.65zM277.70 126.82h5.65v5.63h-5.65zM317.25 126.82h5.65v5.63h-5.65zM339.85 126.82h5.65v5.63h-5.65zM356.80 126.82h11.30v5.63h-11.30zM373.75 126.82h5.65v5.63h-5.65zM385.05 126.82h5.65v5.63h-5.65zM96.90 132.45h5.65v5.63h-5.65zM164.70 132.45h5.65v5.63h-5.65zM289.00 132.45h5.65v5.63h-5.65zM328.55 132.45h5.65v5.63h-5.65zM356.80 132.45h11.30v5.63h-11.30zM96.90 138.08h5.65v5.63h-5.65zM164.70 138.08h5.65v5.63h-5.65zM289.00 138.08h5.65v5.63h-5.65zM328.55 138.08h5.65v5.63h-5.65zM356.80 138.08h11.30v5.63h-11.30zM96.90 143.71h5.65v5.63h-5.65zM130.80 143.71h5.65v5.63h-5.65zM170.35 143.71h16.95v5.63h-16.95zM300.30 143.71h5.65v5.63h-5.65zM339.85 143.71h5.65v5.63h-5.65zM356.80 143.71h5.65v5.63h-5.65zM373.75 143.71h5.65v5.63h-5.65zM413.30 143.71h5.65v5.63h-5.65zM424.60 143.71h5.65v5.63h-5.65zM96.90 149.34h5.65v5.63h-5.65zM119.50 149.34h5.65v5.63h-5.65zM130.80 149.34h5.65v5.63h-5.65zM153.40 149.34h5.65v5.63h-5.65zM176.00 149.34h5.65v5.63h-5.65zM232.50 149.34h5.65v5.63h-5.65zM243.80 149.34h5.65v5.63h-5.65zM277.70 149.34h5.65v5.63h-5.65zM289.00 149.34h5.65v5.63h-5.65zM339.85 149.34h5.65v5.63h-5.65zM362.45 149.34h5.65v5.63h-5.65zM385.05 149.34h5.65v5.63h-5.65zM407.65 149.34h11.30v5.63h-11.30zM96.90 154.97h5.65v5.63h-5.65zM119.50 154.97h5.65v5.63h-5.65zM153.40 154.97h5.65v5.63h-5.65zM176.00 154.97h5.65v5.63h-5.65zM226.85 154.97h11.30v5.63h-11.30zM277.70 154.97h5.65v5.63h-5.65zM289.00 154.97h5.65v5.63h-5.65zM339.85 154.97h5.65v5.63h-5.65zM362.45 154.97h5.65v5.63h-5.65zM373.75 154.97h5.65v5.63h-5.65zM385.05 154.97h5.65v5.63h-5.65zM407.65 154.97h11.30v5.63h-11.30zM96.90 160.60h5.65v5.63h-5.65zM119.50 160.60h5.65v5.63h-5.65zM153.40 160.60h5.65v5.63h-5.65zM221.20 160.60h5.65v5.63h-5.65zM232.50 160.60h5.65v5.63h-5.65zM277.70 160.60h5.65v5.63h-5.65zM289.00 160.60h5.65v5.63h-5.65zM311.60 160.60h5.65v5.63h-5.65zM339.85 160.60h5.65v5.63h-5.65zM356.80 160.60h11.30v5.63h-11.30zM385.05 160.60h5.65v5.63h-5.65zM96.90 166.23h5.65v5.63h-5.65zM119.50 166.23h5.65v5.63h-5.65zM153.40 166.23h5.65v5.63h-5.65zM176.00 166.23h5.65v5.63h-5.65zM221.20 166.23h5.65v5.63h-5.65zM232.50 166.23h5.65v5.63h-5.65zM243.80 166.23h5.65v5.63h-5.65zM277.70 166.23h5.65v5.63h-5.65zM289.00 166.23h5.65v5.63h-5.65zM362.45 166.23h5.65v5.63h-5.65zM407.65 166.23h5.65v5.63h-5.65zM96.90 171.86h5.65v5.63h-5.65zM221.20 171.86h5.65v5.63h-5.65zM232.50 171.86h5.65v5.63h-5.65zM289.00 171.86h5.65v5.63h-5.65zM317.25 171.86h5.65v5.63h-5.65zM328.55 171.86h5.65v5.63h-5.65zM362.45 171.86h5.65v5.63h-5.65zM385.05 171.86h5.65v5.63h-5.65zM96.90 177.49h5.65v5.63h-5.65zM221.20 177.49h5.65v5.63h-5.65zM232.50 177.49h5.65v5.63h-5.65zM289.00 177.49h5.65v5.63h-5.65zM317.25 177.49h5.65v5.63h-5.65zM328.55 177.49h5.65v5.63h-5.65zM362.45 177.49h5.65v5.63h-5.65zM385.05 177.49h5.65v5.63h-5.65zM96.90 183.12h5.65v5.63h-5.65zM130.80 183.12h5.65v5.63h-5.65zM164.70 183.12h5.65v5.63h-5.65zM221.20 183.12h11.30v5.63h-11.30zM243.80 183.12h5.65v5.63h-5.65zM277.70 183.12h5.65v5.63h-5.65zM289.00 183.12h5.65v5.63h-5.65zM362.45 183.12h5.65v5.63h-5.65zM385.05 183.12h5.65v5.63h-5.65z"/><path fill="#ffaa00" d="M159.05 19.85h5.65v5.63h-5.65zM238.15 19.85h5.65v5.63h-5.65zM91.25 25.48h5.65v5.63h-5.65zM283.35 25.48h5.65v5.63h-5.65zM334.20 25.48h5.65v5.63h-5.65zM368.10 25.48h5.65v5.63h-5.65zM390.70 25.48h11.30v5.63h-11.30zM159.05 31.11h5.65v5.63h-5.65zM159.05 36.74h5.65v5.63h-5.65zM334.20 36.74h5.65v5.63h-5.65zM159.05 42.37h5.65v5.63h-5.65zM159.05 53.63h5.65v5.63h-5.65zM334.20 59.26h5.65v5.63h-5.65zM159.05 64.89h5.65v5.63h-5.65zM159.05 70.52h5.65v5.63h-5.65zM238.15 76.15h5.65v5.63h-5.65zM238.15 98.67h5.65v5.63h-5.65zM159.05 109.93h5.65v5.63h-5.65zM283.35 109.93h5.65v5.63h-5.65zM334.20 109.93h5.65v5.63h-5.65zM334.20 126.82h5.65v5.63h-5.65zM283.35 143.71h5.65v5.63h-5.65zM368.10 143.71h5.65v5.63h-5.65zM334.20 149.34h5.65v5.63h-5.65zM334.20 154.97h5.65v5.63h-5.65zM396.35 154.97h5.65v5.63h-5.65zM334.20 166.23h5.65v5.63h-5.65z"/><path fill="#4040bf" d="M170.35 19.85h5.65v5.63h-5.65zM181.65 19.85h5.65v5.63h-5.65zM204.25 19.85h5.65v5.63h-5.65zM272.05 19.85h5.65v5.63h-5.65zM289.00 19.85h5.65v5.63h-5.65zM379.40 19.85h11.30v5.63h-11.30zM413.30 19.85h5.65v5.63h-5.65zM136.45 25.48h5.65v5.63h-5.65zM170.35 25.48h11.30v5.63h-11.30zM215.55 25.48h11.30v5.63h-11.30zM322.90 25.48h5.65v5.63h-5.65zM119.50 31.11h5.65v5.63h-5.65zM130.80 31.11h5.65v5.63h-5.65zM170.35 31.11h11.30v5.63h-11.30zM311.60 31.11h5.65v5.63h-5.65zM322.90 31.11h5.65v5.63h-5.65zM339.85 31.11h5.65v5.63h-5.65zM402.00 31.11h16.95v5.63h-16.95zM119.50 36.74h5.65v5.63h-5.65zM130.80 36.74h5.65v5.63h-5.65zM170.35 36.74h5.65v5.63h-5.65zM356.80 36.74h5.65v5.63h-5.65zM373.75 36.74h5.65v5.63h-5.65zM385.05 36.74h5.65v5.63h-5.65zM424.60 36.74h5.65v5.63h-5.65zM119.50 42.37h5.65v5.63h-5.65zM130.80 42.37h5.65v5.63h-5.65zM181.65 42.37h5.65v5.63h-5.65zM311.60 42.37h5.65v5.63h-5.65zM402.00 42.37h5.65v5.63h-5.65zM424.60 42.37h5.65v5.63h-5.65zM102.55 48.00h5.65v5.63h-5.65zM119.50 48.00h5.65v5.63h-5.65zM164.70 48.00h5.65v5.63h-5.65zM181.65 48.00h5.65v5.63h-5.65zM221.20 48.00h11.30v5.63h-11.30zM356.80 48.00h11.30v5.63h-11.30zM385.05 48.00h5.65v5.63h-5.65zM102.55 53.63h5.65v5.63h-5.65zM130.80 53.63h5.65v5.63h-5.65zM170.35 53.63h5.65v5.63h-5.65zM181.65 53.63h5.65v5.63h-5.65zM215.55 53.63h5.65v5.63h-5.65zM260.75 53.63h5.65v5.63h-5.65zM322.90 53.63h5.65v5.63h-5.65zM402.00 53.63h11.30v5.63h-11.30zM424.60 53.63h5.65v5.63h-5.65zM102.55 59.26h5.65v5.63h-5.65zM119.50 59.26h5.65v5.63h-5.65zM170.35 59.26h16.95v5.63h-16.95zM215.55 59.26h11.30v5.63h-11.30zM322.90 59.26h5.65v5.63h-5.65zM402.00 59.26h5.65v5.63h-5.65zM102.55 64.89h5.65v5.63h-5.65zM130.80 64.89h5.65v5.63h-5.65zM176.00 64.89h11.30v5.63h-11.30zM221.20 64.89h11.30v5.63h-11.30zM260.75 64.89h5.65v5.63h-5.65zM402.00 64.89h5.65v5.63h-5.65zM424.60 64.89h5.65v5.63h-5.65zM119.50 70.52h5.65v5.63h-5.65zM130.80 70.52h5.65v5.63h-5.65zM170.35 70.52h5.65v5.63h-5.65zM181.65 70.52h5.65v5.63h-5.65zM373.75 70.52h5.65v5.63h-5.65zM402.00 70.52h11.30v5.63h-11.30zM424.60 70.52h5.65v5.63h-5.65zM102.55 76.15h5.65v5.63h-5.65zM176.00 76.15h5.65v5.63h-5.65zM232.50 76.15h5.65v5.63h-5.65zM328.55 76.15h5.65v5.63h-5.65zM102.55 81.78h5.65v5.63h-5.65zM232.50 81.78h5.65v5.63h-5.65zM102.55 87.41h5.65v5.63h-5.65zM176.00 87.41h5.65v5.63h-5.65zM232.50 87.41h5.65v5.63h-5.65zM102.55 93.04h5.65v5.63h-5.65zM130.80 93.04h5.65v5.63h-5.65zM153.40 93.04h5.65v5.63h-5.65zM176.00 93.04h11.30v5.63h-11.30zM232.50 93.04h5.65v5.63h-5.65zM260.75 93.04h5.65v5.63h-5.65zM311.60 93.04h5.65v5.63h-5.65zM407.65 93.04h5.65v5.63h-5.65zM424.60 93.04h5.65v5.63h-5.65zM102.55 98.67h5.65v5.63h-5.65zM119.50 98.67h5.65v5.63h-5.65zM130.80 98.67h11.30v5.63h-11.30zM176.00 98.67h11.30v5.63h-11.30zM204.25 98.67h5.65v5.63h-5.65zM260.75 98.67h5.65v5.63h-5.65zM300.30 98.67h5.65v5.63h-5.65zM407.65 98.67h11.30v5.63h-11.30zM424.60 98.67h5.65v5.63h-5.65zM102.55 104.30h5.65v5.63h-5.65zM119.50 104.30h5.65v5.63h-5.65zM130.80 104.30h11.30v5.63h-11.30zM153.40 104.30h5.65v5.63h-5.65zM176.00 104.30h11.30v5.63h-11.30zM204.25 104.30h5.65v5.63h-5.65zM260.75 104.30h5.65v5.63h-5.65zM407.65 104.30h11.30v5.63h-11.30zM424.60 104.30h5.65v5.63h-5.65zM102.55 109.93h5.65v5.63h-5.65zM119.50 109.93h5.65v5.63h-5.65zM130.80 109.93h11.30v5.63h-11.30zM153.40 109.93h5.65v5.63h-5.65zM176.00 109.93h11.30v5.63h-11.30zM204.25 109.93h5.65v5.63h-5.65zM260.75 109.93h5.65v5.63h-5.65zM413.30 109.93h5.65v5.63h-5.65zM424.60 109.93h5.65v5.63h-5.65zM96.90 115.56h5.65v5.63h-5.65zM119.50 115.56h5.65v5.63h-5.65zM176.00 115.56h11.30v5.63h-11.30zM204.25 115.56h11.30v5.63h-11.30zM221.20 115.56h11.30v5.63h-11.30zM260.75 115.56h5.65v5.63h-5.65zM289.00 115.56h5.65v5.63h-5.65zM385.05 115.56h5.65v5.63h-5.65zM424.60 115.56h5.65v5.63h-5.65zM119.50 121.19h5.65v5.63h-5.65zM130.80 121.19h5.65v5.63h-5.65zM204.25 121.19h5.65v5.63h-5.65zM221.20 121.19h16.95v5.63h-16.95zM311.60 121.19h5.65v5.63h-5.65zM362.45 121.19h5.65v5.63h-5.65zM402.00 121.19h11.30v5.63h-11.30zM96.90 126.82h11.30v5.63h-11.30zM130.80 126.82h5.65v5.63h-5.65zM153.40 126.82h5.65v5.63h-5.65zM181.65 126.82h5.65v5.63h-5.65zM198.60 126.82h5.65v5.63h-5.65zM221.20 126.82h5.65v5.63h-5.65zM232.50 126.82h5.65v5.63h-5.65zM260.75 126.82h5.65v5.63h-5.65zM311.60 126.82h5.65v5.63h-5.65zM402.00 126.82h11.30v5.63h-11.30zM424.60 126.82h5.65v5.63h-5.65zM102.55 132.45h5.65v5.63h-5.65zM130.80 132.45h5.65v5.63h-5.65zM153.40 132.45h5.65v5.63h-5.65zM221.20 132.45h5.65v5.63h-5.65zM277.70 132.45h5.65v5.63h-5.65zM385.05 132.45h5.65v5.63h-5.65zM407.65 132.45h5.65v5.63h-5.65zM424.60 132.45h5.65v5.63h-5.65zM102.55 138.08h5.65v5.63h-5.65zM130.80 138.08h11.30v5.63h-11.30zM153.40 138.08h5.65v5.63h-5.65zM204.25 138.08h5.65v5.63h-5.65zM221.20 138.08h11.30v5.63h-11.30zM385.05 138.08h5.65v5.63h-5.65zM407.65 138.08h5.65v5.63h-5.65zM424.60 138.08h5.65v5.63h-5.65zM102.55 143.71h5.65v5.63h-5.65zM136.45 143.71h5.65v5.63h-5.65zM215.55 143.71h5.65v5.63h-5.65zM322.90 143.71h5.65v5.63h-5.65zM181.65 149.34h5.65v5.63h-5.65zM198.60 149.34h11.30v5.63h-11.30zM260.75 149.34h5.65v5.63h-5.65zM356.80 149.34h5.65v5.63h-5.65zM373.75 149.34h5.65v5.63h-5.65zM402.00 149.34h5.65v5.63h-5.65zM424.60 149.34h5.65v5.63h-5.65zM130.80 154.97h5.65v5.63h-5.65zM181.65 154.97h5.65v5.63h-5.65zM198.60 154.97h11.30v5.63h-11.30zM260.75 154.97h5.65v5.63h-5.65zM356.80 154.97h5.65v5.63h-5.65zM402.00 154.97h5.65v5.63h-5.65zM424.60 154.97h5.65v5.63h-5.65zM130.80 160.60h11.30v5.63h-11.30zM181.65 160.60h5.65v5.63h-5.65zM198.60 160.60h5.65v5.63h-5.65zM317.25 160.60h5.65v5.63h-5.65zM373.75 160.60h5.65v5.63h-5.65zM424.60 160.60h5.65v5.63h-5.65zM130.80 166.23h11.30v5.63h-11.30zM181.65 166.23h5.65v5.63h-5.65zM198.60 166.23h5.65v5.63h-5.65zM226.85 166.23h5.65v5.63h-5.65zM311.60 166.23h11.30v5.63h-11.30zM339.85 166.23h5.65v5.63h-5.65zM356.80 166.23h5.65v5.63h-5.65zM373.75 166.23h5.65v5.63h-5.65zM385.05 166.23h5.65v5.63h-5.65zM413.30 166.23h5.65v5.63h-5.65zM424.60 166.23h5.65v5.63h-5.65zM130.80 171.86h5.65v5.63h-5.65zM181.65 171.86h5.65v5.63h-5.65zM204.25 171.86h5.65v5.63h-5.65zM339.85 171.86h5.65v5.63h-5.65zM356.80 171.86h5.65v5.63h-5.65zM424.60 171.86h5.65v5.63h-5.65zM130.80 177.49h5.65v5.63h-5.65zM153.40 177.49h5.65v5.63h-5.65zM176.00 177.49h5.65v5.63h-5.65zM204.25 177.49h5.65v5.63h-5.65zM260.75 177.49h5.65v5.63h-5.65zM277.70 177.49h5.65v5.63h-5.65zM339.85 177.49h5.65v5.63h-5.65zM356.80 177.49h5.65v5.63h-5.65zM373.75 177.49h5.65v5.63h-5.65zM407.65 177.49h5.65v5.63h-5.65zM424.60 177.49h5.65v5.63h-5.65zM119.50 183.12h5.65v5.63h-5.65zM136.45 183.12h5.65v5.63h-5.65zM153.40 183.12h5.65v5.63h-5.65zM176.00 183.12h11.30v5.63h-11.30zM204.25 183.12h11.30v5.63h-11.30zM232.50 183.12h5.65v5.63h-5.65zM260.75 183.12h5.65v5.63h-5.65zM339.85 183.12h5.65v5.63h-5.65zM356.80 183.12h5.65v5.63h-5.65zM373.75 183.12h5.65v5.63h-5.65zM407.65 183.12h11.30v5.63h-11.30zM424.60 183.12h5.65v5.63h-5.65z"/><path fill="#dfdf20" d="M243.80 19.85h5.65v5.63h-5.65zM266.40 19.85h5.65v5.63h-5.65zM283.35 19.85h5.65v5.63h-5.65zM351.15 19.85h5.65v5.63h-5.65zM430.25 19.85h5.65v5.63h-5.65zM125.15 25.48h5.65v5.63h-5.65zM266.40 25.48h5.65v5.63h-5.65zM305.95 25.48h5.65v5.63h-5.65zM430.25 25.48h5.65v5.63h-5.65zM187.30 31.11h5.65v5.63h-5.65zM272.05 31.11h5.65v5.63h-5.65zM187.30 36.74h5.65v5.63h-5.65zM266.40 36.74h5.65v5.63h-5.65zM345.50 36.74h5.65v5.63h-5.65zM113.85 42.37h5.65v5.63h-5.65zM266.40 42.37h11.30v5.63h-11.30zM283.35 42.37h5.65v5.63h-5.65zM345.50 42.37h5.65v5.63h-5.65zM379.40 42.37h5.65v5.63h-5.65zM125.15 48.00h5.65v5.63h-5.65zM147.75 48.00h5.65v5.63h-5.65zM187.30 48.00h5.65v5.63h-5.65zM266.40 48.00h5.65v5.63h-5.65zM368.10 48.00h5.65v5.63h-5.65zM390.70 48.00h5.65v5.63h-5.65zM430.25 48.00h5.65v5.63h-5.65zM113.85 53.63h5.65v5.63h-5.65zM187.30 53.63h5.65v5.63h-5.65zM266.40 53.63h5.65v5.63h-5.65zM305.95 53.63h5.65v5.63h-5.65zM345.50 53.63h11.30v5.63h-11.30zM113.85 59.26h5.65v5.63h-5.65zM187.30 59.26h5.65v5.63h-5.65zM266.40 59.26h5.65v5.63h-5.65zM345.50 59.26h11.30v5.63h-11.30zM430.25 59.26h5.65v5.63h-5.65zM187.30 64.89h11.30v5.63h-11.30zM345.50 64.89h5.65v5.63h-5.65zM91.25 70.52h5.65v5.63h-5.65zM113.85 70.52h5.65v5.63h-5.65zM187.30 70.52h5.65v5.63h-5.65zM266.40 70.52h5.65v5.63h-5.65zM113.85 76.15h5.65v5.63h-5.65zM192.95 76.15h5.65v5.63h-5.65zM266.40 76.15h5.65v5.63h-5.65zM305.95 76.15h5.65v5.63h-5.65zM345.50 76.15h5.65v5.63h-5.65zM430.25 76.15h5.65v5.63h-5.65zM187.30 81.78h11.30v5.63h-11.30zM266.40 81.78h5.65v5.63h-5.65zM305.95 81.78h5.65v5.63h-5.65zM345.50 81.78h5.65v5.63h-5.65zM430.25 81.78h5.65v5.63h-5.65zM147.75 87.41h5.65v5.63h-5.65zM187.30 87.41h11.30v5.63h-11.30zM266.40 87.41h5.65v5.63h-5.65zM305.95 87.41h5.65v5.63h-5.65zM345.50 87.41h5.65v5.63h-5.65zM430.25 87.41h5.65v5.63h-5.65zM187.30 93.04h5.65v5.63h-5.65zM305.95 93.04h5.65v5.63h-5.65zM345.50 93.04h5.65v5.63h-5.65zM147.75 98.67h5.65v5.63h-5.65zM187.30 98.67h5.65v5.63h-5.65zM305.95 98.67h5.65v5.63h-5.65zM345.50 98.67h5.65v5.63h-5.65zM379.40 98.67h5.65v5.63h-5.65zM187.30 104.30h5.65v5.63h-5.65zM305.95 104.30h5.65v5.63h-5.65zM345.50 104.30h5.65v5.63h-5.65zM187.30 109.93h11.30v5.63h-11.30zM305.95 109.93h5.65v5.63h-5.65zM345.50 109.93h5.65v5.63h-5.65zM125.15 115.56h5.65v5.63h-5.65zM187.30 115.56h5.65v5.63h-5.65zM249.45 115.56h5.65v5.63h-5.65zM283.35 115.56h5.65v5.63h-5.65zM368.10 115.56h5.65v5.63h-5.65zM113.85 121.19h5.65v5.63h-5.65zM147.75 121.19h5.65v5.63h-5.65zM272.05 121.19h5.65v5.63h-5.65zM283.35 121.19h5.65v5.63h-5.65zM322.90 121.19h5.65v5.63h-5.65zM351.15 121.19h5.65v5.63h-5.65zM390.70 121.19h5.65v5.63h-5.65zM187.30 126.82h11.30v5.63h-11.30zM283.35 126.82h5.65v5.63h-5.65zM345.50 126.82h11.30v5.63h-11.30zM379.40 126.82h5.65v5.63h-5.65zM192.95 132.45h5.65v5.63h-5.65zM283.35 132.45h5.65v5.63h-5.65zM351.15 132.45h5.65v5.63h-5.65zM113.85 138.08h5.65v5.63h-5.65zM283.35 138.08h5.65v5.63h-5.65zM351.15 138.08h5.65v5.63h-5.65zM368.10 138.08h5.65v5.63h-5.65zM396.35 138.08h5.65v5.63h-5.65zM125.15 143.71h5.65v5.63h-5.65zM187.30 143.71h5.65v5.63h-5.65zM266.40 143.71h5.65v5.63h-5.65zM294.65 143.71h5.65v5.63h-5.65zM430.25 143.71h5.65v5.63h-5.65zM113.85 149.34h5.65v5.63h-5.65zM147.75 149.34h5.65v5.63h-5.65zM345.50 149.34h5.65v5.63h-5.65zM113.85 154.97h5.65v5.63h-5.65zM147.75 154.97h5.65v5.63h-5.65zM345.50 154.97h5.65v5.63h-5.65zM113.85 160.60h5.65v5.63h-5.65zM147.75 160.60h5.65v5.63h-5.65zM192.95 160.60h5.65v5.63h-5.65zM272.05 160.60h5.65v5.63h-5.65zM305.95 160.60h5.65v5.63h-5.65zM345.50 160.60h5.65v5.63h-5.65zM368.10 160.60h5.65v5.63h-5.65zM379.40 160.60h5.65v5.63h-5.65zM390.70 160.60h5.65v5.63h-5.65zM113.85 166.23h5.65v5.63h-5.65zM147.75 166.23h5.65v5.63h-5.65zM192.95 166.23h5.65v5.63h-5.65zM345.50 166.23h5.65v5.63h-5.65zM192.95 171.86h5.65v5.63h-5.65zM283.35 171.86h5.65v5.63h-5.65zM368.10 171.86h5.65v5.63h-5.65zM390.70 171.86h5.65v5.63h-5.65zM91.25 177.49h5.65v5.63h-5.65zM192.95 177.49h5.65v5.63h-5.65zM192.95 183.12h5.65v5.63h-5.65z"/><path fill="#ffff00" d="M305.95 19.85h5.65v5.63h-5.65zM113.85 25.48h5.65v5.63h-5.65zM147.75 25.48h5.65v5.63h-5.65zM187.30 25.48h11.30v5.63h-11.30zM345.50 25.48h5.65v5.63h-5.65zM91.25 31.11h5.65v5.63h-5.65zM192.95 31.11h5.65v5.63h-5.65zM283.35 31.11h5.65v5.63h-5.65zM305.95 31.11h5.65v5.63h-5.65zM368.10 31.11h5.65v5.63h-5.65zM390.70 31.11h11.30v5.63h-11.30zM91.25 36.74h5.65v5.63h-5.65zM238.15 36.74h5.65v5.63h-5.65zM283.35 36.74h5.65v5.63h-5.65zM368.10 36.74h5.65v5.63h-5.65zM390.70 36.74h11.30v5.63h-11.30zM91.25 42.37h5.65v5.63h-5.65zM238.15 42.37h5.65v5.63h-5.65zM334.20 42.37h5.65v5.63h-5.65zM368.10 42.37h5.65v5.63h-5.65zM390.70 42.37h11.30v5.63h-11.30zM91.25 48.00h5.65v5.63h-5.65zM192.95 48.00h5.65v5.63h-5.65zM238.15 48.00h5.65v5.63h-5.65zM283.35 48.00h5.65v5.63h-5.65zM334.20 48.00h5.65v5.63h-5.65zM91.25 53.63h5.65v5.63h-5.65zM238.15 53.63h5.65v5.63h-5.65zM283.35 53.63h5.65v5.63h-5.65zM368.10 53.63h5.65v5.63h-5.65zM390.70 53.63h11.30v5.63h-11.30zM91.25 59.26h5.65v5.63h-5.65zM192.95 59.26h5.65v5.63h-5.65zM238.15 59.26h5.65v5.63h-5.65zM283.35 59.26h5.65v5.63h-5.65zM368.10 59.26h5.65v5.63h-5.65zM390.70 59.26h5.65v5.63h-5.65zM91.25 64.89h5.65v5.63h-5.65zM283.35 64.89h5.65v5.63h-5.65zM305.95 64.89h5.65v5.63h-5.65zM368.10 64.89h5.65v5.63h-5.65zM390.70 64.89h5.65v5.63h-5.65zM238.15 70.52h5.65v5.63h-5.65zM283.35 70.52h5.65v5.63h-5.65zM334.20 70.52h5.65v5.63h-5.65zM368.10 70.52h5.65v5.63h-5.65zM390.70 70.52h11.30v5.63h-11.30zM91.25 76.15h5.65v5.63h-5.65zM125.15 76.15h5.65v5.63h-5.65zM147.75 76.15h5.65v5.63h-5.65zM187.30 76.15h5.65v5.63h-5.65zM283.35 76.15h5.65v5.63h-5.65zM390.70 76.15h5.65v5.63h-5.65zM91.25 81.78h5.65v5.63h-5.65zM125.15 81.78h5.65v5.63h-5.65zM147.75 81.78h5.65v5.63h-5.65zM283.35 81.78h5.65v5.63h-5.65zM390.70 81.78h5.65v5.63h-5.65zM91.25 87.41h5.65v5.63h-5.65zM125.15 87.41h5.65v5.63h-5.65zM334.20 87.41h5.65v5.63h-5.65zM368.10 87.41h5.65v5.63h-5.65zM390.70 87.41h11.30v5.63h-11.30zM91.25 93.04h5.65v5.63h-5.65zM192.95 93.04h5.65v5.63h-5.65zM283.35 93.04h5.65v5.63h-5.65zM334.20 93.04h5.65v5.63h-5.65zM368.10 93.04h5.65v5.63h-5.65zM390.70 93.04h11.30v5.63h-11.30zM91.25 98.67h5.65v5.63h-5.65zM192.95 98.67h5.65v5.63h-5.65zM283.35 98.67h5.65v5.63h-5.65zM390.70 98.67h5.65v5.63h-5.65zM91.25 104.30h5.65v5.63h-5.65zM192.95 104.30h5.65v5.63h-5.65zM390.70 104.30h11.30v5.63h-11.30zM91.25 109.93h5.65v5.63h-5.65zM390.70 109.93h11.30v5.63h-11.30zM91.25 115.56h5.65v5.63h-5.65zM159.05 115.56h5.65v5.63h-5.65zM334.20 115.56h5.65v5.63h-5.65zM396.35 115.56h5.65v5.63h-5.65zM159.05 121.19h5.65v5.63h-5.65zM238.15 121.19h5.65v5.63h-5.65zM334.20 121.19h5.65v5.63h-5.65zM396.35 121.19h5.65v5.63h-5.65zM91.25 126.82h5.65v5.63h-5.65zM159.05 126.82h5.65v5.63h-5.65zM238.15 126.82h5.65v5.63h-5.65zM272.05 126.82h5.65v5.63h-5.65zM368.10 126.82h5.65v5.63h-5.65zM390.70 126.82h11.30v5.63h-11.30zM91.25 132.45h5.65v5.63h-5.65zM159.05 132.45h5.65v5.63h-5.65zM238.15 132.45h5.65v5.63h-5.65zM334.20 132.45h5.65v5.63h-5.65zM91.25 138.08h5.65v5.63h-5.65zM238.15 138.08h5.65v5.63h-5.65zM272.05 138.08h5.65v5.63h-5.65zM334.20 138.08h5.65v5.63h-5.65zM113.85 143.71h5.65v5.63h-5.65zM147.75 143.71h5.65v5.63h-5.65zM192.95 143.71h5.65v5.63h-5.65zM345.50 143.71h5.65v5.63h-5.65zM91.25 149.34h5.65v5.63h-5.65zM192.95 149.34h5.65v5.63h-5.65zM283.35 149.34h5.65v5.63h-5.65zM368.10 149.34h5.65v5.63h-5.65zM390.70 149.34h5.65v5.63h-5.65zM192.95 154.97h5.65v5.63h-5.65zM390.70 154.97h5.65v5.63h-5.65zM91.25 160.60h5.65v5.63h-5.65zM283.35 160.60h5.65v5.63h-5.65zM396.35 160.60h5.65v5.63h-5.65zM91.25 166.23h5.65v5.63h-5.65zM283.35 166.23h5.65v5.63h-5.65zM368.10 166.23h5.65v5.63h-5.65zM390.70 166.23h5.65v5.63h-5.65zM91.25 171.86h5.65v5.63h-5.65zM159.05 171.86h5.65v5.63h-5.65zM238.15 171.86h5.65v5.63h-5.65zM334.20 171.86h5.65v5.63h-5.65zM159.05 177.49h5.65v5.63h-5.65zM238.15 177.49h5.65v5.63h-5.65zM283.35 177.49h5.65v5.63h-5.65zM334.20 177.49h5.65v5.63h-5.65zM368.10 177.49h5.65v5.63h-5.65zM390.70 177.49h11.30v5.63h-11.30zM91.25 183.12h5.65v5.63h-5.65zM238.15 183.12h5.65v5.63h-5.65zM283.35 183.12h5.65v5.63h-5.65zM368.10 183.12h5.65v5.63h-5.65zM390.70 183.12h11.30v5.63h-11.30z"/><path fill="#ff0000" d="M334.20 19.85h5.65v5.63h-5.65z"/><path fill="#ffd500" d="M396.35 19.85h5.65v5.63h-5.65zM159.05 48.00h5.65v5.63h-5.65zM334.20 53.63h5.65v5.63h-5.65zM396.35 59.26h5.65v5.63h-5.65zM238.15 64.89h5.65v5.63h-5.65zM334.20 64.89h5.65v5.63h-5.65zM396.35 64.89h5.65v5.63h-5.65zM159.05 76.15h5.65v5.63h-5.65zM334.20 76.15h5.65v5.63h-5.65zM368.10 76.15h5.65v5.63h-5.65zM396.35 76.15h5.65v5.63h-5.65zM159.05 81.78h5.65v5.63h-5.65zM238.15 81.78h5.65v5.63h-5.65zM334.20 81.78h5.65v5.63h-5.65zM368.10 81.78h5.65v5.63h-5.65zM396.35 81.78h5.65v5.63h-5.65zM159.05 87.41h5.65v5.63h-5.65zM238.15 87.41h5.65v5.63h-5.65zM283.35 87.41h5.65v5.63h-5.65zM159.05 93.04h5.65v5.63h-5.65zM238.15 93.04h5.65v5.63h-5.65zM368.10 98.67h5.65v5.63h-5.65zM396.35 98.67h5.65v5.63h-5.65zM368.10 104.30h5.65v5.63h-5.65zM238.15 109.93h5.65v5.63h-5.65zM368.10 109.93h5.65v5.63h-5.65zM238.15 115.56h5.65v5.63h-5.65zM159.05 138.08h5.65v5.63h-5.65zM91.25 143.71h5.65v5.63h-5.65zM390.70 143.71h5.65v5.63h-5.65zM396.35 149.34h5.65v5.63h-5.65zM91.25 154.97h5.65v5.63h-5.65zM283.35 154.97h5.65v5.63h-5.65zM368.10 154.97h5.65v5.63h-5.65zM238.15 160.60h5.65v5.63h-5.65zM334.20 160.60h5.65v5.63h-5.65zM238.15 166.23h5.65v5.63h-5.65zM396.35 166.23h5.65v5.63h-5.65zM159.05 183.12h5.65v5.63h-5.65zM334.20 183.12h5.65v5.63h-5.65z"/><path fill="#60609f" d="M402.00 19.85h5.65v5.63h-5.65zM108.20 25.48h5.65v5.63h-5.65zM249.45 25.48h5.65v5.63h-5.65zM300.30 25.48h5.65v5.63h-5.65zM413.30 25.48h5.65v5.63h-5.65zM204.25 31.11h5.65v5.63h-5.65zM215.55 31.11h5.65v5.63h-5.65zM243.80 31.11h5.65v5.63h-5.65zM255.10 31.11h11.30v5.63h-11.30zM300.30 31.11h5.65v5.63h-5.65zM424.60 31.11h5.65v5.63h-5.65zM102.55 36.74h5.65v5.63h-5.65zM209.90 36.74h5.65v5.63h-5.65zM221.20 36.74h11.30v5.63h-11.30zM294.65 36.74h5.65v5.63h-5.65zM402.00 36.74h5.65v5.63h-5.65zM413.30 36.74h5.65v5.63h-5.65zM136.45 42.37h5.65v5.63h-5.65zM170.35 42.37h11.30v5.63h-11.30zM221.20 42.37h16.95v5.63h-16.95zM300.30 42.37h5.65v5.63h-5.65zM413.30 42.37h5.65v5.63h-5.65zM136.45 48.00h5.65v5.63h-5.65zM170.35 48.00h5.65v5.63h-5.65zM198.60 48.00h5.65v5.63h-5.65zM277.70 48.00h5.65v5.63h-5.65zM300.30 48.00h5.65v5.63h-5.65zM311.60 48.00h5.65v5.63h-5.65zM413.30 48.00h5.65v5.63h-5.65zM176.00 53.63h5.65v5.63h-5.65zM249.45 53.63h5.65v5.63h-5.65zM300.30 53.63h5.65v5.63h-5.65zM413.30 53.63h5.65v5.63h-5.65zM136.45 59.26h5.65v5.63h-5.65zM226.85 59.26h11.30v5.63h-11.30zM300.30 59.26h5.65v5.63h-5.65zM311.60 59.26h5.65v5.63h-5.65zM413.30 59.26h5.65v5.63h-5.65zM136.45 64.89h5.65v5.63h-5.65zM170.35 64.89h5.65v5.63h-5.65zM215.55 64.89h5.65v5.63h-5.65zM232.50 64.89h5.65v5.63h-5.65zM300.30 64.89h5.65v5.63h-5.65zM413.30 64.89h5.65v5.63h-5.65zM102.55 70.52h5.65v5.63h-5.65zM136.45 70.52h5.65v5.63h-5.65zM176.00 70.52h5.65v5.63h-5.65zM221.20 70.52h16.95v5.63h-16.95zM300.30 70.52h5.65v5.63h-5.65zM311.60 70.52h5.65v5.63h-5.65zM413.30 70.52h5.65v5.63h-5.65zM136.45 76.15h5.65v5.63h-5.65zM170.35 76.15h5.65v5.63h-5.65zM243.80 76.15h5.65v5.63h-5.65zM402.00 76.15h5.65v5.63h-5.65zM413.30 76.15h5.65v5.63h-5.65zM136.45 81.78h5.65v5.63h-5.65zM170.35 81.78h11.30v5.63h-11.30zM243.80 81.78h5.65v5.63h-5.65zM402.00 81.78h5.65v5.63h-5.65zM413.30 81.78h5.65v5.63h-5.65zM136.45 87.41h5.65v5.63h-5.65zM170.35 87.41h5.65v5.63h-5.65zM243.80 87.41h5.65v5.63h-5.65zM402.00 87.41h5.65v5.63h-5.65zM413.30 87.41h5.65v5.63h-5.65zM119.50 93.04h5.65v5.63h-5.65zM170.35 93.04h5.65v5.63h-5.65zM209.90 93.04h5.65v5.63h-5.65zM226.85 93.04h5.65v5.63h-5.65zM243.80 93.04h5.65v5.63h-5.65zM272.05 93.04h11.30v5.63h-11.30zM373.75 93.04h5.65v5.63h-5.65zM402.00 93.04h5.65v5.63h-5.65zM413.30 93.04h5.65v5.63h-5.65zM170.35 98.67h5.65v5.63h-5.65zM198.60 98.67h5.65v5.63h-5.65zM243.80 98.67h5.65v5.63h-5.65zM402.00 98.67h5.65v5.63h-5.65zM170.35 104.30h5.65v5.63h-5.65zM198.60 104.30h5.65v5.63h-5.65zM243.80 104.30h5.65v5.63h-5.65zM300.30 104.30h5.65v5.63h-5.65zM322.90 104.30h5.65v5.63h-5.65zM170.35 109.93h5.65v5.63h-5.65zM198.60 109.93h5.65v5.63h-5.65zM232.50 109.93h5.65v5.63h-5.65zM243.80 109.93h5.65v5.63h-5.65zM300.30 109.93h5.65v5.63h-5.65zM102.55 115.56h5.65v5.63h-5.65zM142.10 115.56h5.65v5.63h-5.65zM232.50 115.56h5.65v5.63h-5.65zM277.70 115.56h5.65v5.63h-5.65zM317.25 115.56h5.65v5.63h-5.65zM356.80 115.56h11.30v5.63h-11.30zM413.30 115.56h11.30v5.63h-11.30zM96.90 121.19h11.30v5.63h-11.30zM136.45 121.19h5.65v5.63h-5.65zM176.00 121.19h11.30v5.63h-11.30zM198.60 121.19h5.65v5.63h-5.65zM209.90 121.19h5.65v5.63h-5.65zM243.80 121.19h5.65v5.63h-5.65zM260.75 121.19h5.65v5.63h-5.65zM356.80 121.19h5.65v5.63h-5.65zM373.75 121.19h5.65v5.63h-5.65zM424.60 121.19h5.65v5.63h-5.65zM119.50 126.82h5.65v5.63h-5.65zM136.45 126.82h5.65v5.63h-5.65zM170.35 126.82h11.30v5.63h-11.30zM243.80 126.82h5.65v5.63h-5.65zM300.30 126.82h5.65v5.63h-5.65zM413.30 126.82h5.65v5.63h-5.65zM74.30 132.45h5.65v5.63h-5.65zM85.60 132.45h5.65v5.63h-5.65zM119.50 132.45h5.65v5.63h-5.65zM136.45 132.45h5.65v5.63h-5.65zM170.35 132.45h16.95v5.63h-16.95zM198.60 132.45h11.30v5.63h-11.30zM226.85 132.45h5.65v5.63h-5.65zM243.80 132.45h5.65v5.63h-5.65zM260.75 132.45h5.65v5.63h-5.65zM311.60 132.45h11.30v5.63h-11.30zM339.85 132.45h5.65v5.63h-5.65zM373.75 132.45h5.65v5.63h-5.65zM413.30 132.45h5.65v5.63h-5.65zM85.60 138.08h5.65v5.63h-5.65zM119.50 138.08h5.65v5.63h-5.65zM170.35 138.08h16.95v5.63h-16.95zM198.60 138.08h5.65v5.63h-5.65zM260.75 138.08h5.65v5.63h-5.65zM300.30 138.08h5.65v5.63h-5.65zM311.60 138.08h11.30v5.63h-11.30zM339.85 138.08h5.65v5.63h-5.65zM373.75 138.08h5.65v5.63h-5.65zM413.30 138.08h5.65v5.63h-5.65zM198.60 143.71h5.65v5.63h-5.65zM311.60 143.71h5.65v5.63h-5.65zM102.55 149.34h5.65v5.63h-5.65zM209.90 149.34h5.65v5.63h-5.65zM226.85 149.34h5.65v5.63h-5.65zM294.65 149.34h5.65v5.63h-5.65zM102.55 154.97h5.65v5.63h-5.65zM170.35 154.97h5.65v5.63h-5.65zM209.90 154.97h5.65v5.63h-5.65zM102.55 160.60h5.65v5.63h-5.65zM170.35 160.60h11.30v5.63h-11.30zM204.25 160.60h5.65v5.63h-5.65zM215.55 160.60h5.65v5.63h-5.65zM226.85 160.60h5.65v5.63h-5.65zM260.75 160.60h5.65v5.63h-5.65zM300.30 160.60h5.65v5.63h-5.65zM322.90 160.60h5.65v5.63h-5.65zM402.00 160.60h16.95v5.63h-16.95zM102.55 166.23h5.65v5.63h-5.65zM170.35 166.23h5.65v5.63h-5.65zM204.25 166.23h16.95v5.63h-16.95zM260.75 166.23h5.65v5.63h-5.65zM300.30 166.23h5.65v5.63h-5.65zM322.90 166.23h5.65v5.63h-5.65zM402.00 166.23h5.65v5.63h-5.65zM102.55 171.86h5.65v5.63h-5.65zM119.50 171.86h5.65v5.63h-5.65zM136.45 171.86h5.65v5.63h-5.65zM153.40 171.86h5.65v5.63h-5.65zM176.00 171.86h5.65v5.63h-5.65zM198.60 171.86h5.65v5.63h-5.65zM209.90 171.86h5.65v5.63h-5.65zM226.85 171.86h5.65v5.63h-5.65zM260.75 171.86h5.65v5.63h-5.65zM277.70 171.86h5.65v5.63h-5.65zM300.30 171.86h5.65v5.63h-5.65zM311.60 171.86h5.65v5.63h-5.65zM373.75 171.86h5.65v5.63h-5.65zM402.00 171.86h5.65v5.63h-5.65zM413.30 171.86h5.65v5.63h-5.65zM102.55 177.49h5.65v5.63h-5.65zM119.50 177.49h5.65v5.63h-5.65zM136.45 177.49h5.65v5.63h-5.65zM170.35 177.49h5.65v5.63h-5.65zM181.65 177.49h5.65v5.63h-5.65zM198.60 177.49h5.65v5.63h-5.65zM209.90 177.49h5.65v5.63h-5.65zM226.85 177.49h5.65v5.63h-5.65zM243.80 177.49h5.65v5.63h-5.65zM300.30 177.49h5.65v5.63h-5.65zM311.60 177.49h5.65v5.63h-5.65zM402.00 177.49h5.65v5.63h-5.65zM413.30 177.49h5.65v5.63h-5.65zM102.55 183.12h5.65v5.63h-5.65zM170.35 183.12h5.65v5.63h-5.65zM198.60 183.12h5.65v5.63h-5.65zM294.65 183.12h5.65v5.63h-5.65zM311.60 183.12h5.65v5.63h-5.65zM402.00 183.12h5.65v5.63h-5.65z"/><path fill="#ff4000" d="M159.05 143.71h5.65v5.63h-5.65zM238.15 143.71h5.65v5.63h-5.65zM334.20 143.71h5.65v5.63h-5.65z"/></g>
<g class="tx">
<text class="lb" font-size="5.45" x="439.20" y="24.64">Pi-BatCoV HKU5</text>
<text class="lr" font-size="4.9" x="439.80" y="30.05">HCoV-HKU1</text>
<text class="lb" font-size="5.45" x="439.20" y="35.89">Rh-BatCoVHKU2</text>
<text class="lr" font-size="4.9" x="439.80" y="41.30">SARSr-CoV</text>
<text class="lb" font-size="5.45" x="439.20" y="47.16">IBV</text>
<text class="lb" font-size="5.45" x="439.20" y="52.78">TCoV</text>
<text class="lr" font-size="4.9" x="439.80" y="58.20">SARS-CoV-2</text>
<text class="lb" font-size="5.45" x="439.20" y="64.05">Ty-BatCoV HKU4</text>
<text class="lb" font-size="5.45" x="439.20" y="69.67">BuCoV HKU11</text>
<text class="lb" font-size="5.45" x="439.20" y="75.31">TGEV</text>
<text class="lb" font-size="5.45" x="439.20" y="80.94">ECoV</text>
<text class="lr" font-size="4.9" x="439.80" y="86.34">HCoV-OC43</text>
<text class="lb" font-size="5.45" x="439.20" y="92.19">PHEV</text>
<text class="lb" font-size="5.45" x="439.20" y="97.82">BCoV</text>
<text class="lr" font-size="4.9" x="439.80" y="103.24">HCoV-229E</text>
<text class="lb" font-size="5.45" x="439.20" y="109.09">Mi-BatCoV 1A</text>
<text class="lb" font-size="5.45" x="439.20" y="114.72">Mi-BatCoV 1B</text>
<text class="lb" font-size="5.45" x="439.20" y="120.34">MHV</text>
<text class="lb" font-size="5.45" x="439.20" y="125.97">MurCoV HKU13</text>
<text class="lb" font-size="5.45" x="439.20" y="131.60">SARSr-Rh-BatCoV HKU3</text>
<text class="lb" font-size="5.45" x="439.20" y="137.23">Sc-BatCoV 512</text>
<text class="lb" font-size="5.45" x="439.20" y="142.87">ThCoV HKU12</text>
<text class="lr" font-size="4.9" x="439.80" y="148.28">HCoV-NL63</text>
<text class="lb" font-size="5.45" x="439.20" y="154.12">Mi-BatCoV HKU8</text>
<text class="lb" font-size="5.45" x="439.20" y="159.75">Ro-BatCoV HKU9</text>
<text class="lb" font-size="5.45" x="439.20" y="165.38">FIPV</text>
<text class="lb" font-size="5.45" x="439.20" y="171.01">SW1</text>
<text class="lb" font-size="5.45" x="439.20" y="176.64">PRCV</text>
<text class="lr" font-size="4.9" x="439.80" y="182.05">MERS-CoV</text>
<text class="lb" font-size="5.45" x="439.20" y="187.91">PEDV</text>
<path class="tk" d="M436.4 22.67H438.0M436.4 28.30H438.0M436.4 33.92H438.0M436.4 39.55H438.0M436.4 45.19H438.0M436.4 50.81H438.0M436.4 56.45H438.0M436.4 62.08H438.0M436.4 67.70H438.0M436.4 73.34H438.0M436.4 78.97H438.0M436.4 84.59H438.0M436.4 90.22H438.0M436.4 95.85H438.0M436.4 101.49H438.0M436.4 107.12H438.0M436.4 112.75H438.0M436.4 118.38H438.0M436.4 124.00H438.0M436.4 129.63H438.0M436.4 135.26H438.0M436.4 140.90H438.0M436.4 146.53H438.0M436.4 152.16H438.0M436.4 157.78H438.0M436.4 163.41H438.0M436.4 169.04H438.0M436.4 174.67H438.0M436.4 180.30H438.0M436.4 185.94H438.0"/>
<text class="cl" text-anchor="end" font-size="5.1" transform="translate(78.92,193.05) rotate(-90)">UGA</text>
<text class="cl" text-anchor="end" font-size="5.1" transform="translate(84.58,193.05) rotate(-90)">UAG</text>
<text class="cl" text-anchor="end" font-size="5.1" transform="translate(90.22,193.05) rotate(-90)">UAA</text>
<text class="cl" text-anchor="end" font-size="5.1" transform="translate(95.88,193.05) rotate(-90)">GCU</text>
<text class="cl" text-anchor="end" font-size="5.1" transform="translate(101.52,193.05) rotate(-90)">GCG</text>
<text class="cl" text-anchor="end" font-size="5.1" transform="translate(107.17,193.05) rotate(-90)">GCC</text>
<text class="cl" text-anchor="end" font-size="5.1" transform="translate(112.83,193.05) rotate(-90)">GCA</text>
<text class="cl" text-anchor="end" font-size="5.1" transform="translate(118.47,193.05) rotate(-90)">UGU</text>
<text class="cl" text-anchor="end" font-size="5.1" transform="translate(124.12,193.05) rotate(-90)">UGC</text>
<text class="cl" text-anchor="end" font-size="5.1" transform="translate(129.78,193.05) rotate(-90)">GAU</text>
<text class="cl" text-anchor="end" font-size="5.1" transform="translate(135.43,193.05) rotate(-90)">GAC</text>
<text class="cl" text-anchor="end" font-size="5.1" transform="translate(141.08,193.05) rotate(-90)">GAG</text>
<text class="cl" text-anchor="end" font-size="5.1" transform="translate(146.73,193.05) rotate(-90)">GAA</text>
<text class="cl" text-anchor="end" font-size="5.1" transform="translate(152.38,193.05) rotate(-90)">UUU</text>
<text class="cl" text-anchor="end" font-size="5.1" transform="translate(158.03,193.05) rotate(-90)">UUC</text>
<text class="cl" text-anchor="end" font-size="5.1" transform="translate(163.68,193.05) rotate(-90)">GGU</text>
<text class="cl" text-anchor="end" font-size="5.1" transform="translate(169.33,193.05) rotate(-90)">GGG</text>
<text class="cl" text-anchor="end" font-size="5.1" transform="translate(174.98,193.05) rotate(-90)">GGC</text>
<text class="cl" text-anchor="end" font-size="5.1" transform="translate(180.62,193.05) rotate(-90)">GGA</text>
<text class="cl" text-anchor="end" font-size="5.1" transform="translate(186.28,193.05) rotate(-90)">CAC</text>
<text class="cl" text-anchor="end" font-size="5.1" transform="translate(191.93,193.05) rotate(-90)">CAU</text>
<text class="cl" text-anchor="end" font-size="5.1" transform="translate(197.58,193.05) rotate(-90)">AUU</text>
<text class="cl" text-anchor="end" font-size="5.1" transform="translate(203.23,193.05) rotate(-90)">AUC</text>
<text class="cl" text-anchor="end" font-size="5.1" transform="translate(208.88,193.05) rotate(-90)">AUA</text>
<text class="cl" text-anchor="end" font-size="5.1" transform="translate(214.53,193.05) rotate(-90)">AAA</text>
<text class="cl" text-anchor="end" font-size="5.1" transform="translate(220.18,193.05) rotate(-90)">AAG</text>
<text class="cl" text-anchor="end" font-size="5.1" transform="translate(225.83,193.05) rotate(-90)">CUG</text>
<text class="cl" text-anchor="end" font-size="5.1" transform="translate(231.48,193.05) rotate(-90)">CUA</text>
<text class="cl" text-anchor="end" font-size="5.1" transform="translate(237.12,193.05) rotate(-90)">CUU</text>
<text class="cl" text-anchor="end" font-size="5.1" transform="translate(242.78,193.05) rotate(-90)">CUC</text>
<text class="cl" text-anchor="end" font-size="5.1" transform="translate(248.43,193.05) rotate(-90)">UUG</text>
<text class="cl" text-anchor="end" font-size="5.1" transform="translate(254.08,193.05) rotate(-90)">UUA</text>
<text class="cl" text-anchor="end" font-size="5.1" transform="translate(259.73,193.05) rotate(-90)">AUG</text>
<text class="cl" text-anchor="end" font-size="5.1" transform="translate(265.38,193.05) rotate(-90)">AAU</text>
<text class="cl" text-anchor="end" font-size="5.1" transform="translate(271.03,193.05) rotate(-90)">AAC</text>
<text class="cl" text-anchor="end" font-size="5.1" transform="translate(276.68,193.05) rotate(-90)">CCG</text>
<text class="cl" text-anchor="end" font-size="5.1" transform="translate(282.33,193.05) rotate(-90)">CCU</text>
<text class="cl" text-anchor="end" font-size="5.1" transform="translate(287.98,193.05) rotate(-90)">CCC</text>
<text class="cl" text-anchor="end" font-size="5.1" transform="translate(293.62,193.05) rotate(-90)">CCA</text>
<text class="cl" text-anchor="end" font-size="5.1" transform="translate(299.28,193.05) rotate(-90)">CAG</text>
<text class="cl" text-anchor="end" font-size="5.1" transform="translate(304.93,193.05) rotate(-90)">CAA</text>
<text class="cl" text-anchor="end" font-size="5.1" transform="translate(310.58,193.05) rotate(-90)">AGA</text>
<text class="cl" text-anchor="end" font-size="5.1" transform="translate(316.23,193.05) rotate(-90)">AGG</text>
<text class="cl" text-anchor="end" font-size="5.1" transform="translate(321.88,193.05) rotate(-90)">CGA</text>
<text class="cl" text-anchor="end" font-size="5.1" transform="translate(327.53,193.05) rotate(-90)">CGU</text>
<text class="cl" text-anchor="end" font-size="5.1" transform="translate(333.18,193.05) rotate(-90)">CGG</text>
<text class="cl" text-anchor="end" font-size="5.1" transform="translate(338.83,193.05) rotate(-90)">CGC</text>
<text class="cl" text-anchor="end" font-size="5.1" transform="translate(344.48,193.05) rotate(-90)">UCG</text>
<text class="cl" text-anchor="end" font-size="5.1" transform="translate(350.13,193.05) rotate(-90)">UCA</text>
<text class="cl" text-anchor="end" font-size="5.1" transform="translate(355.78,193.05) rotate(-90)">UCU</text>
<text class="cl" text-anchor="end" font-size="5.1" transform="translate(361.43,193.05) rotate(-90)">UCC</text>
<text class="cl" text-anchor="end" font-size="5.1" transform="translate(367.08,193.05) rotate(-90)">AGU</text>
<text class="cl" text-anchor="end" font-size="5.1" transform="translate(372.73,193.05) rotate(-90)">AGC</text>
<text class="cl" text-anchor="end" font-size="5.1" transform="translate(378.38,193.05) rotate(-90)">ACG</text>
<text class="cl" text-anchor="end" font-size="5.1" transform="translate(384.03,193.05) rotate(-90)">ACU</text>
<text class="cl" text-anchor="end" font-size="5.1" transform="translate(389.68,193.05) rotate(-90)">ACC</text>
<text class="cl" text-anchor="end" font-size="5.1" transform="translate(395.33,193.05) rotate(-90)">ACA</text>
<text class="cl" text-anchor="end" font-size="5.1" transform="translate(400.98,193.05) rotate(-90)">GUU</text>
<text class="cl" text-anchor="end" font-size="5.1" transform="translate(406.63,193.05) rotate(-90)">GUG</text>
<text class="cl" text-anchor="end" font-size="5.1" transform="translate(412.28,193.05) rotate(-90)">GUC</text>
<text class="cl" text-anchor="end" font-size="5.1" transform="translate(417.93,193.05) rotate(-90)">GUA</text>
<text class="cl" text-anchor="end" font-size="5.1" transform="translate(423.58,193.05) rotate(-90)">UGG</text>
<text class="cl" text-anchor="end" font-size="5.1" transform="translate(429.23,193.05) rotate(-90)">UAC</text>
<text class="cl" text-anchor="end" font-size="5.1" transform="translate(434.88,193.05) rotate(-90)">UAU</text>
<path class="tk" d="M77.12 189.65v1.3M82.78 189.65v1.3M88.42 189.65v1.3M94.08 189.65v1.3M99.72 189.65v1.3M105.38 189.65v1.3M111.03 189.65v1.3M116.67 189.65v1.3M122.33 189.65v1.3M127.97 189.65v1.3M133.62 189.65v1.3M139.28 189.65v1.3M144.93 189.65v1.3M150.57 189.65v1.3M156.23 189.65v1.3M161.88 189.65v1.3M167.53 189.65v1.3M173.18 189.65v1.3M178.82 189.65v1.3M184.48 189.65v1.3M190.12 189.65v1.3M195.78 189.65v1.3M201.43 189.65v1.3M207.07 189.65v1.3M212.73 189.65v1.3M218.38 189.65v1.3M224.03 189.65v1.3M229.68 189.65v1.3M235.32 189.65v1.3M240.98 189.65v1.3M246.62 189.65v1.3M252.28 189.65v1.3M257.93 189.65v1.3M263.57 189.65v1.3M269.23 189.65v1.3M274.88 189.65v1.3M280.53 189.65v1.3M286.18 189.65v1.3M291.82 189.65v1.3M297.48 189.65v1.3M303.12 189.65v1.3M308.78 189.65v1.3M314.43 189.65v1.3M320.07 189.65v1.3M325.73 189.65v1.3M331.38 189.65v1.3M337.03 189.65v1.3M342.68 189.65v1.3M348.33 189.65v1.3M353.98 189.65v1.3M359.63 189.65v1.3M365.28 189.65v1.3M370.93 189.65v1.3M376.58 189.65v1.3M382.23 189.65v1.3M387.88 189.65v1.3M393.53 189.65v1.3M399.18 189.65v1.3M404.83 189.65v1.3M410.48 189.65v1.3M416.13 189.65v1.3M421.78 189.65v1.3M427.43 189.65v1.3M433.08 189.65v1.3"/>
<rect x="236.0" y="244.00" width="4.4" height="6.0" fill="#0000ff"/><rect x="240.55" y="244.00" width="18.6" height="6.0" fill="url(#lg1)"/><rect x="259.45" y="244.00" width="14.45" height="6.0" fill="url(#lg2)"/><text class="lgl" text-anchor="end" font-size="3.0" transform="translate(237.25,254.40) rotate(-90)">0.0000</text><text class="lgl" text-anchor="end" font-size="3.0" transform="translate(241.94,254.40) rotate(-90)">0.0250</text><text class="lgl" text-anchor="end" font-size="3.0" transform="translate(246.62,254.40) rotate(-90)">0.0500</text><text class="lgl" text-anchor="end" font-size="3.0" transform="translate(251.31,254.40) rotate(-90)">0.0750</text><text class="lgl" text-anchor="end" font-size="3.0" transform="translate(256.00,254.40) rotate(-90)">0.1000</text><text class="lgl" text-anchor="end" font-size="3.0" transform="translate(260.69,254.40) rotate(-90)">0.1250</text><text class="lgl" text-anchor="end" font-size="3.0" transform="translate(265.38,254.40) rotate(-90)">0.1500</text><text class="lgl" text-anchor="end" font-size="3.0" transform="translate(270.06,254.40) rotate(-90)">0.1750</text><text class="lgl" text-anchor="end" font-size="3.0" transform="translate(274.75,254.40) rotate(-90)">0.2000</text><path class="tk2" d="M236.20 250.60v0.9M240.89 250.60v0.9M245.57 250.60v0.9M250.26 250.60v0.9M254.95 250.60v0.9M259.64 250.60v0.9M264.32 250.60v0.9M269.01 250.60v0.9M273.70 250.60v0.9"/>
<path class="ax" d="M31.40 189.50H70.10M70.10 188.90V190.10M63.65 188.90V190.10M57.20 188.90V190.10M50.75 188.90V190.10M44.30 188.90V190.10M37.85 188.90V190.10M31.40 188.90V190.10"/><text class="axl" text-anchor="middle" font-size="3.5" x="70.10" y="195.80">0</text><text class="axl" text-anchor="middle" font-size="3.5" x="63.65" y="195.80">1</text><text class="axl" text-anchor="middle" font-size="3.5" x="57.20" y="195.80">2</text><text class="axl" text-anchor="middle" font-size="3.5" x="50.75" y="195.80">3</text><text class="axl" text-anchor="middle" font-size="3.5" x="44.30" y="195.80">4</text><text class="axl" text-anchor="middle" font-size="3.5" x="37.85" y="195.80">5</text><text class="axl" text-anchor="middle" font-size="3.5" x="31.40" y="195.80">6</text><text class="axt" text-anchor="middle" font-size="4.3" x="50.40" y="202.70">Euclidean distance</text>
</g>
<path class="dg" d="M60.00 45.19L70.20 45.19M60.00 50.81L70.20 50.81M60.00 45.19L60.00 50.81M59.60 39.55L70.20 39.55M59.60 48.00L60.00 48.00M59.60 39.55L59.60 48.00M54.30 33.92L70.20 33.92M54.30 43.78L59.60 43.78M54.30 33.92L54.30 43.78M51.50 28.30L70.20 28.30M51.50 38.85L54.30 38.85M51.50 28.30L51.50 38.85M63.30 67.70L70.20 67.70M63.30 73.34L70.20 73.34M63.30 67.70L63.30 73.34M62.00 62.08L70.20 62.08M62.00 70.52L63.30 70.52M62.00 62.08L62.00 70.52M61.30 56.45L70.20 56.45M61.30 66.30L62.00 66.30M61.30 56.45L61.30 66.30M66.50 84.59L70.20 84.59M66.50 90.22L70.20 90.22M66.50 84.59L66.50 90.22M65.80 78.97L70.20 78.97M65.80 87.41L66.50 87.41M65.80 78.97L65.80 87.41M65.80 107.12L70.20 107.12M65.80 112.75L70.20 112.75M65.80 107.12L65.80 112.75M63.50 101.49L70.20 101.49M63.50 109.93L65.80 109.93M63.50 101.49L63.50 109.93M60.40 95.85L70.20 95.85M60.40 105.71L63.50 105.71M60.40 95.85L60.40 105.71M60.00 83.19L65.80 83.19M60.00 100.78L60.40 100.78M60.00 83.19L60.00 100.78M59.50 61.37L61.30 61.37M59.50 91.98L60.00 91.98M59.50 61.37L59.50 91.98M58.10 124.00L70.20 124.00M58.10 129.63L70.20 129.63M58.10 124.00L58.10 129.63M55.80 118.38L70.20 118.38M55.80 126.82L58.10 126.82M55.80 118.38L55.80 126.82M55.40 76.68L59.50 76.68M55.40 122.60L55.80 122.60M55.40 76.68L55.40 122.60M60.00 135.26L70.20 135.26M60.00 140.90L70.20 140.90M60.00 135.26L60.00 140.90M62.20 152.16L70.20 152.16M62.20 157.78L70.20 157.78M62.20 152.16L62.20 157.78M61.60 163.41L70.20 163.41M61.60 169.04L70.20 169.04M61.60 163.41L61.60 169.04M61.80 180.30L70.20 180.30M61.80 185.94L70.20 185.94M61.80 180.30L61.80 185.94M60.60 174.67L70.20 174.67M60.60 183.12L61.80 183.12M60.60 174.67L60.60 183.12M58.50 166.23L61.60 166.23M58.50 178.90L60.60 178.90M58.50 166.23L58.50 178.90M56.90 154.97L62.20 154.97M56.90 172.56L58.50 172.56M56.90 154.97L56.90 172.56M50.50 146.53L70.20 146.53M50.50 163.77L56.90 163.77M50.50 146.53L50.50 163.77M47.40 138.08L60.00 138.08M47.40 155.15L50.50 155.15M47.40 138.08L47.40 155.15M40.90 99.64L55.40 99.64M40.90 146.61L47.40 146.61M40.90 99.64L40.90 146.61M40.50 33.57L51.50 33.57M40.50 123.13L40.90 123.13M40.50 33.57L40.50 123.13M30.30 22.67L70.20 22.67M30.30 78.35L40.50 78.35M30.30 22.67L30.30 78.35"/><g shape-rendering="crispEdges"><path fill="#0000ff" d="M74.10 293.30h5.65v5.64h-5.65zM85.40 293.30h5.65v5.64h-5.65zM260.55 293.30h5.65v5.64h-5.65zM288.80 293.30h5.65v5.64h-5.65zM384.85 293.30h5.65v5.64h-5.65zM424.40 293.30h5.65v5.64h-5.65zM74.10 298.94h5.65v5.64h-5.65zM85.40 298.94h5.65v5.64h-5.65zM317.05 298.94h5.65v5.64h-5.65zM74.10 304.58h5.65v5.64h-5.65zM85.40 304.58h5.65v5.64h-5.65zM277.50 304.58h5.65v5.64h-5.65zM317.05 304.58h5.65v5.64h-5.65zM74.10 310.22h5.65v5.64h-5.65zM85.40 310.22h5.65v5.64h-5.65zM130.60 310.22h5.65v5.64h-5.65zM260.55 310.22h5.65v5.64h-5.65zM407.45 310.22h5.65v5.64h-5.65zM424.40 310.22h5.65v5.64h-5.65zM74.10 315.86h5.65v5.64h-5.65zM85.40 315.86h5.65v5.64h-5.65zM96.70 315.86h5.65v5.64h-5.65zM288.80 315.86h5.65v5.64h-5.65zM328.35 315.86h5.65v5.64h-5.65zM74.10 321.50h11.30v5.64h-11.30zM164.50 321.50h5.65v5.64h-5.65zM181.45 321.50h5.65v5.64h-5.65zM232.30 321.50h5.65v5.64h-5.65zM277.50 321.50h5.65v5.64h-5.65zM288.80 321.50h5.65v5.64h-5.65zM74.10 327.14h11.30v5.64h-11.30zM288.80 327.14h5.65v5.64h-5.65zM74.10 332.78h11.30v5.64h-11.30zM221.00 332.78h5.65v5.64h-5.65zM288.80 332.78h5.65v5.64h-5.65zM413.10 332.78h5.65v5.64h-5.65zM74.10 338.42h11.30v5.64h-11.30zM277.50 338.42h5.65v5.64h-5.65zM288.80 338.42h5.65v5.64h-5.65zM74.10 344.06h11.30v5.64h-11.30zM288.80 344.06h5.65v5.64h-5.65zM74.10 349.70h11.30v5.64h-11.30zM328.35 349.70h5.65v5.64h-5.65zM74.10 355.34h11.30v5.64h-11.30zM181.45 355.34h5.65v5.64h-5.65zM232.30 355.34h5.65v5.64h-5.65zM288.80 355.34h5.65v5.64h-5.65zM328.35 355.34h5.65v5.64h-5.65zM74.10 360.98h11.30v5.64h-11.30zM198.40 360.98h5.65v5.64h-5.65zM74.10 366.62h11.30v5.64h-11.30zM153.20 366.62h5.65v5.64h-5.65zM74.10 372.26h11.30v5.64h-11.30zM164.50 372.26h5.65v5.64h-5.65zM317.05 372.26h5.65v5.64h-5.65zM362.25 372.26h5.65v5.64h-5.65zM413.10 372.26h5.65v5.64h-5.65zM74.10 377.90h11.30v5.64h-11.30zM164.50 377.90h5.65v5.64h-5.65zM362.25 377.90h5.65v5.64h-5.65zM74.10 383.54h11.30v5.64h-11.30zM164.50 383.54h5.65v5.64h-5.65zM362.25 383.54h5.65v5.64h-5.65zM384.85 383.54h5.65v5.64h-5.65zM74.10 389.18h11.30v5.64h-11.30zM175.80 389.18h5.65v5.64h-5.65zM362.25 389.18h5.65v5.64h-5.65zM74.10 394.82h11.30v5.64h-11.30zM164.50 394.82h5.65v5.64h-5.65zM232.30 394.82h5.65v5.64h-5.65zM277.50 394.82h5.65v5.64h-5.65zM288.80 394.82h5.65v5.64h-5.65zM317.05 394.82h5.65v5.64h-5.65zM362.25 394.82h5.65v5.64h-5.65zM74.10 400.46h11.30v5.64h-11.30zM226.65 400.46h5.65v5.64h-5.65zM362.25 400.46h5.65v5.64h-5.65zM407.45 400.46h5.65v5.64h-5.65zM74.10 406.10h11.30v5.64h-11.30zM164.50 406.10h5.65v5.64h-5.65zM328.35 406.10h5.65v5.64h-5.65zM74.10 411.74h11.30v5.64h-11.30zM136.25 411.74h5.65v5.64h-5.65zM164.50 411.74h5.65v5.64h-5.65zM226.65 411.74h5.65v5.64h-5.65zM74.10 417.38h11.30v5.64h-11.30zM164.50 417.38h5.65v5.64h-5.65zM226.65 417.38h5.65v5.64h-5.65zM79.75 423.02h11.30v5.64h-11.30zM164.50 423.02h5.65v5.64h-5.65zM311.40 423.02h5.65v5.64h-5.65zM322.70 423.02h11.30v5.64h-11.30zM79.75 428.66h11.30v5.64h-11.30zM96.70 428.66h5.65v5.64h-5.65zM164.50 428.66h5.65v5.64h-5.65zM288.80 428.66h5.65v5.64h-5.65zM79.75 434.30h11.30v5.64h-11.30zM96.70 434.30h5.65v5.64h-5.65zM164.50 434.30h5.65v5.64h-5.65zM288.80 434.30h5.65v5.64h-5.65zM79.75 439.94h11.30v5.64h-11.30zM175.80 439.94h5.65v5.64h-5.65zM384.85 439.94h5.65v5.64h-5.65zM79.75 445.58h11.30v5.64h-11.30zM79.75 451.22h11.30v5.64h-11.30zM79.75 456.86h11.30v5.64h-11.30zM164.50 456.86h5.65v5.64h-5.65zM328.35 456.86h5.65v5.64h-5.65z"/><path fill="#ff4000" d="M79.75 293.30h5.65v5.64h-5.65zM91.05 293.30h5.65v5.64h-5.65zM158.85 293.30h5.65v5.64h-5.65zM237.95 293.30h5.65v5.64h-5.65zM283.15 293.30h5.65v5.64h-5.65zM367.90 293.30h5.65v5.64h-5.65zM390.50 293.30h11.30v5.64h-11.30zM79.75 298.94h5.65v5.64h-5.65zM79.75 304.58h5.65v5.64h-5.65zM334.00 304.58h5.65v5.64h-5.65zM79.75 310.22h5.65v5.64h-5.65zM79.75 315.86h5.65v5.64h-5.65zM85.40 321.50h5.65v5.64h-5.65zM85.40 327.14h5.65v5.64h-5.65zM85.40 332.78h5.65v5.64h-5.65zM237.95 332.78h5.65v5.64h-5.65zM390.50 332.78h11.30v5.64h-11.30zM85.40 338.42h5.65v5.64h-5.65zM85.40 344.06h5.65v5.64h-5.65zM85.40 349.70h5.65v5.64h-5.65zM334.00 349.70h5.65v5.64h-5.65zM85.40 355.34h5.65v5.64h-5.65zM85.40 360.98h5.65v5.64h-5.65zM85.40 366.62h5.65v5.64h-5.65zM85.40 372.26h5.65v5.64h-5.65zM334.00 372.26h5.65v5.64h-5.65zM85.40 377.90h5.65v5.64h-5.65zM85.40 383.54h5.65v5.64h-5.65zM85.40 389.18h5.65v5.64h-5.65zM85.40 394.82h5.65v5.64h-5.65zM334.00 394.82h5.65v5.64h-5.65zM85.40 400.46h5.65v5.64h-5.65zM85.40 406.10h5.65v5.64h-5.65zM85.40 411.74h5.65v5.64h-5.65zM85.40 417.38h5.65v5.64h-5.65zM74.10 423.02h5.65v5.64h-5.65zM74.10 428.66h5.65v5.64h-5.65zM74.10 434.30h5.65v5.64h-5.65zM334.00 434.30h5.65v5.64h-5.65zM396.15 434.30h5.65v5.64h-5.65zM74.10 439.94h5.65v5.64h-5.65zM158.85 439.94h5.65v5.64h-5.65zM74.10 445.58h5.65v5.64h-5.65zM74.10 451.22h5.65v5.64h-5.65zM74.10 456.86h5.65v5.64h-5.65z"/><path fill="#2020df" d="M96.70 293.30h11.30v5.64h-11.30zM119.30 293.30h5.65v5.64h-5.65zM130.60 293.30h5.65v5.64h-5.65zM153.20 293.30h5.65v5.64h-5.65zM164.50 293.30h22.60v5.64h-22.60zM204.05 293.30h5.65v5.64h-5.65zM215.35 293.30h16.95v5.64h-16.95zM317.05 293.30h5.65v5.64h-5.65zM328.35 293.30h5.65v5.64h-5.65zM339.65 293.30h5.65v5.64h-5.65zM362.25 293.30h5.65v5.64h-5.65zM373.55 293.30h5.65v5.64h-5.65zM401.80 293.30h11.30v5.64h-11.30zM164.50 298.94h5.65v5.64h-5.65zM204.05 298.94h5.65v5.64h-5.65zM288.80 298.94h5.65v5.64h-5.65zM362.25 298.94h5.65v5.64h-5.65zM96.70 304.58h5.65v5.64h-5.65zM164.50 304.58h5.65v5.64h-5.65zM181.45 304.58h5.65v5.64h-5.65zM362.25 304.58h5.65v5.64h-5.65zM384.85 304.58h5.65v5.64h-5.65zM401.80 304.58h11.30v5.64h-11.30zM153.20 310.22h5.65v5.64h-5.65zM164.50 310.22h5.65v5.64h-5.65zM204.05 310.22h5.65v5.64h-5.65zM288.80 310.22h5.65v5.64h-5.65zM322.70 310.22h11.30v5.64h-11.30zM362.25 310.22h5.65v5.64h-5.65zM373.55 310.22h5.65v5.64h-5.65zM384.85 310.22h5.65v5.64h-5.65zM164.50 315.86h5.65v5.64h-5.65zM277.50 315.86h5.65v5.64h-5.65zM362.25 315.86h5.65v5.64h-5.65zM384.85 315.86h5.65v5.64h-5.65zM401.80 315.86h5.65v5.64h-5.65zM413.10 315.86h5.65v5.64h-5.65zM96.70 321.50h5.65v5.64h-5.65zM300.10 321.50h5.65v5.64h-5.65zM328.35 321.50h5.65v5.64h-5.65zM362.25 321.50h5.65v5.64h-5.65zM384.85 321.50h5.65v5.64h-5.65zM96.70 327.14h5.65v5.64h-5.65zM164.50 327.14h5.65v5.64h-5.65zM277.50 327.14h5.65v5.64h-5.65zM328.35 327.14h5.65v5.64h-5.65zM356.60 327.14h11.30v5.64h-11.30zM384.85 327.14h5.65v5.64h-5.65zM96.70 332.78h5.65v5.64h-5.65zM119.30 332.78h5.65v5.64h-5.65zM130.60 332.78h5.65v5.64h-5.65zM153.20 332.78h5.65v5.64h-5.65zM164.50 332.78h5.65v5.64h-5.65zM175.80 332.78h5.65v5.64h-5.65zM204.05 332.78h5.65v5.64h-5.65zM232.30 332.78h5.65v5.64h-5.65zM277.50 332.78h5.65v5.64h-5.65zM328.35 332.78h5.65v5.64h-5.65zM362.25 332.78h5.65v5.64h-5.65zM384.85 332.78h5.65v5.64h-5.65zM401.80 332.78h11.30v5.64h-11.30zM424.40 332.78h5.65v5.64h-5.65zM96.70 338.42h5.65v5.64h-5.65zM119.30 338.42h5.65v5.64h-5.65zM153.20 338.42h5.65v5.64h-5.65zM164.50 338.42h5.65v5.64h-5.65zM204.05 338.42h5.65v5.64h-5.65zM232.30 338.42h5.65v5.64h-5.65zM260.55 338.42h5.65v5.64h-5.65zM317.05 338.42h5.65v5.64h-5.65zM362.25 338.42h5.65v5.64h-5.65zM384.85 338.42h5.65v5.64h-5.65zM401.80 338.42h5.65v5.64h-5.65zM102.35 344.06h5.65v5.64h-5.65zM153.20 344.06h5.65v5.64h-5.65zM164.50 344.06h5.65v5.64h-5.65zM260.55 344.06h5.65v5.64h-5.65zM277.50 344.06h5.65v5.64h-5.65zM328.35 344.06h5.65v5.64h-5.65zM362.25 344.06h5.65v5.64h-5.65zM373.55 344.06h5.65v5.64h-5.65zM407.45 344.06h5.65v5.64h-5.65zM96.70 349.70h5.65v5.64h-5.65zM164.50 349.70h5.65v5.64h-5.65zM260.55 349.70h5.65v5.64h-5.65zM277.50 349.70h5.65v5.64h-5.65zM288.80 349.70h5.65v5.64h-5.65zM317.05 349.70h5.65v5.64h-5.65zM362.25 349.70h5.65v5.64h-5.65zM384.85 349.70h5.65v5.64h-5.65zM407.45 349.70h5.65v5.64h-5.65zM424.40 349.70h5.65v5.64h-5.65zM96.70 355.34h5.65v5.64h-5.65zM119.30 355.34h5.65v5.64h-5.65zM130.60 355.34h5.65v5.64h-5.65zM164.50 355.34h5.65v5.64h-5.65zM277.50 355.34h5.65v5.64h-5.65zM317.05 355.34h5.65v5.64h-5.65zM339.65 355.34h5.65v5.64h-5.65zM362.25 355.34h5.65v5.64h-5.65zM384.85 355.34h5.65v5.64h-5.65zM96.70 360.98h5.65v5.64h-5.65zM130.60 360.98h5.65v5.64h-5.65zM153.20 360.98h5.65v5.64h-5.65zM164.50 360.98h5.65v5.64h-5.65zM260.55 360.98h5.65v5.64h-5.65zM277.50 360.98h5.65v5.64h-5.65zM317.05 360.98h5.65v5.64h-5.65zM328.35 360.98h5.65v5.64h-5.65zM362.25 360.98h5.65v5.64h-5.65zM424.40 360.98h5.65v5.64h-5.65zM96.70 366.62h5.65v5.64h-5.65zM164.50 366.62h5.65v5.64h-5.65zM221.00 366.62h11.30v5.64h-11.30zM260.55 366.62h5.65v5.64h-5.65zM277.50 366.62h5.65v5.64h-5.65zM317.05 366.62h5.65v5.64h-5.65zM328.35 366.62h5.65v5.64h-5.65zM339.65 366.62h5.65v5.64h-5.65zM362.25 366.62h5.65v5.64h-5.65zM384.85 366.62h5.65v5.64h-5.65zM413.10 366.62h5.65v5.64h-5.65zM424.40 366.62h5.65v5.64h-5.65zM96.70 372.26h5.65v5.64h-5.65zM232.30 372.26h5.65v5.64h-5.65zM288.80 372.26h5.65v5.64h-5.65zM384.85 372.26h5.65v5.64h-5.65zM96.70 377.90h5.65v5.64h-5.65zM226.65 377.90h5.65v5.64h-5.65zM277.50 377.90h5.65v5.64h-5.65zM288.80 377.90h5.65v5.64h-5.65zM317.05 377.90h5.65v5.64h-5.65zM384.85 377.90h5.65v5.64h-5.65zM96.70 383.54h5.65v5.64h-5.65zM130.60 383.54h5.65v5.64h-5.65zM204.05 383.54h5.65v5.64h-5.65zM232.30 383.54h5.65v5.64h-5.65zM288.80 383.54h5.65v5.64h-5.65zM317.05 383.54h5.65v5.64h-5.65zM328.35 383.54h5.65v5.64h-5.65zM164.50 389.18h5.65v5.64h-5.65zM221.00 389.18h11.30v5.64h-11.30zM243.60 389.18h5.65v5.64h-5.65zM317.05 389.18h5.65v5.64h-5.65zM339.65 389.18h5.65v5.64h-5.65zM96.70 394.82h5.65v5.64h-5.65zM373.55 394.82h5.65v5.64h-5.65zM384.85 394.82h5.65v5.64h-5.65zM96.70 400.46h5.65v5.64h-5.65zM164.50 400.46h5.65v5.64h-5.65zM232.30 400.46h5.65v5.64h-5.65zM260.55 400.46h5.65v5.64h-5.65zM317.05 400.46h5.65v5.64h-5.65zM373.55 400.46h5.65v5.64h-5.65zM384.85 400.46h5.65v5.64h-5.65zM96.70 406.10h5.65v5.64h-5.65zM204.05 406.10h5.65v5.64h-5.65zM226.65 406.10h5.65v5.64h-5.65zM288.80 406.10h5.65v5.64h-5.65zM339.65 406.10h5.65v5.64h-5.65zM362.25 406.10h5.65v5.64h-5.65zM384.85 406.10h5.65v5.64h-5.65zM96.70 411.74h5.65v5.64h-5.65zM204.05 411.74h5.65v5.64h-5.65zM277.50 411.74h5.65v5.64h-5.65zM288.80 411.74h5.65v5.64h-5.65zM362.25 411.74h5.65v5.64h-5.65zM384.85 411.74h5.65v5.64h-5.65zM96.70 417.38h5.65v5.64h-5.65zM204.05 417.38h5.65v5.64h-5.65zM277.50 417.38h5.65v5.64h-5.65zM288.80 417.38h5.65v5.64h-5.65zM362.25 417.38h5.65v5.64h-5.65zM384.85 417.38h5.65v5.64h-5.65zM96.70 423.02h5.65v5.64h-5.65zM119.30 423.02h5.65v5.64h-5.65zM153.20 423.02h5.65v5.64h-5.65zM204.05 423.02h5.65v5.64h-5.65zM226.65 423.02h5.65v5.64h-5.65zM260.55 423.02h5.65v5.64h-5.65zM277.50 423.02h5.65v5.64h-5.65zM317.05 423.02h5.65v5.64h-5.65zM339.65 423.02h5.65v5.64h-5.65zM356.60 423.02h11.30v5.64h-11.30zM373.55 423.02h5.65v5.64h-5.65zM384.85 423.02h5.65v5.64h-5.65zM407.45 423.02h5.65v5.64h-5.65zM119.30 428.66h5.65v5.64h-5.65zM153.20 428.66h5.65v5.64h-5.65zM226.65 428.66h5.65v5.64h-5.65zM277.50 428.66h5.65v5.64h-5.65zM317.05 428.66h5.65v5.64h-5.65zM328.35 428.66h5.65v5.64h-5.65zM339.65 428.66h5.65v5.64h-5.65zM356.60 428.66h11.30v5.64h-11.30zM384.85 428.66h5.65v5.64h-5.65zM153.20 434.30h5.65v5.64h-5.65zM226.65 434.30h5.65v5.64h-5.65zM277.50 434.30h5.65v5.64h-5.65zM317.05 434.30h5.65v5.64h-5.65zM328.35 434.30h5.65v5.64h-5.65zM339.65 434.30h5.65v5.64h-5.65zM362.25 434.30h5.65v5.64h-5.65zM153.20 439.94h5.65v5.64h-5.65zM164.50 439.94h5.65v5.64h-5.65zM226.65 439.94h11.30v5.64h-11.30zM260.55 439.94h5.65v5.64h-5.65zM277.50 439.94h5.65v5.64h-5.65zM305.75 439.94h5.65v5.64h-5.65zM317.05 439.94h5.65v5.64h-5.65zM373.55 439.94h5.65v5.64h-5.65zM407.45 439.94h5.65v5.64h-5.65zM96.70 445.58h5.65v5.64h-5.65zM164.50 445.58h5.65v5.64h-5.65zM288.80 445.58h5.65v5.64h-5.65zM362.25 445.58h5.65v5.64h-5.65zM413.10 445.58h5.65v5.64h-5.65zM130.60 451.22h5.65v5.64h-5.65zM153.20 451.22h5.65v5.64h-5.65zM164.50 451.22h5.65v5.64h-5.65zM288.80 451.22h5.65v5.64h-5.65zM328.35 451.22h5.65v5.64h-5.65zM362.25 451.22h5.65v5.64h-5.65zM288.80 456.86h5.65v5.64h-5.65zM339.65 456.86h5.65v5.64h-5.65zM362.25 456.86h5.65v5.64h-5.65z"/><path fill="#808080" d="M108.00 293.30h5.65v5.64h-5.65zM136.25 293.30h11.30v5.64h-11.30zM243.60 293.30h16.95v5.64h-16.95zM418.75 293.30h5.65v5.64h-5.65zM119.30 298.94h16.95v5.64h-16.95zM215.35 298.94h5.65v5.64h-5.65zM249.25 298.94h11.30v5.64h-11.30zM271.85 298.94h11.30v5.64h-11.30zM328.35 298.94h5.65v5.64h-5.65zM339.65 298.94h11.30v5.64h-11.30zM373.55 298.94h5.65v5.64h-5.65zM407.45 298.94h5.65v5.64h-5.65zM418.75 298.94h5.65v5.64h-5.65zM170.15 304.58h11.30v5.64h-11.30zM198.40 304.58h5.65v5.64h-5.65zM254.90 304.58h5.65v5.64h-5.65zM413.10 304.58h11.30v5.64h-11.30zM221.00 310.22h5.65v5.64h-5.65zM243.60 310.22h16.95v5.64h-16.95zM271.85 310.22h5.65v5.64h-5.65zM300.10 310.22h5.65v5.64h-5.65zM311.40 310.22h11.30v5.64h-11.30zM379.20 310.22h5.65v5.64h-5.65zM418.75 310.22h5.65v5.64h-5.65zM102.35 315.86h5.65v5.64h-5.65zM175.80 315.86h5.65v5.64h-5.65zM198.40 315.86h5.65v5.64h-5.65zM243.60 315.86h16.95v5.64h-16.95zM418.75 315.86h5.65v5.64h-5.65zM108.00 321.50h5.65v5.64h-5.65zM119.30 321.50h5.65v5.64h-5.65zM407.45 321.50h5.65v5.64h-5.65zM418.75 321.50h5.65v5.64h-5.65zM108.00 327.14h5.65v5.64h-5.65zM130.60 327.14h16.95v5.64h-16.95zM175.80 327.14h5.65v5.64h-5.65zM418.75 327.14h5.65v5.64h-5.65zM108.00 332.78h5.65v5.64h-5.65zM170.15 332.78h5.65v5.64h-5.65zM209.70 332.78h5.65v5.64h-5.65zM243.60 332.78h5.65v5.64h-5.65zM418.75 332.78h5.65v5.64h-5.65zM108.00 338.42h5.65v5.64h-5.65zM170.15 338.42h5.65v5.64h-5.65zM215.35 338.42h5.65v5.64h-5.65zM243.60 338.42h16.95v5.64h-16.95zM294.45 338.42h5.65v5.64h-5.65zM311.40 338.42h5.65v5.64h-5.65zM322.70 338.42h5.65v5.64h-5.65zM350.95 338.42h11.30v5.64h-11.30zM373.55 338.42h11.30v5.64h-11.30zM413.10 338.42h11.30v5.64h-11.30zM181.45 344.06h5.65v5.64h-5.65zM215.35 344.06h5.65v5.64h-5.65zM243.60 344.06h16.95v5.64h-16.95zM294.45 344.06h5.65v5.64h-5.65zM317.05 344.06h5.65v5.64h-5.65zM418.75 344.06h5.65v5.64h-5.65zM170.15 349.70h5.65v5.64h-5.65zM215.35 349.70h5.65v5.64h-5.65zM249.25 349.70h5.65v5.64h-5.65zM300.10 349.70h5.65v5.64h-5.65zM322.70 349.70h5.65v5.64h-5.65zM418.75 349.70h5.65v5.64h-5.65zM136.25 355.34h5.65v5.64h-5.65zM215.35 355.34h5.65v5.64h-5.65zM249.25 355.34h5.65v5.64h-5.65zM300.10 355.34h5.65v5.64h-5.65zM322.70 355.34h5.65v5.64h-5.65zM418.75 355.34h5.65v5.64h-5.65zM136.25 360.98h11.30v5.64h-11.30zM311.40 360.98h5.65v5.64h-5.65zM379.20 360.98h5.65v5.64h-5.65zM407.45 360.98h5.65v5.64h-5.65zM418.75 360.98h5.65v5.64h-5.65zM198.40 366.62h5.65v5.64h-5.65zM215.35 366.62h5.65v5.64h-5.65zM243.60 366.62h5.65v5.64h-5.65zM305.75 366.62h5.65v5.64h-5.65zM418.75 366.62h5.65v5.64h-5.65zM108.00 372.26h5.65v5.64h-5.65zM136.25 372.26h11.30v5.64h-11.30zM181.45 372.26h5.65v5.64h-5.65zM215.35 372.26h5.65v5.64h-5.65zM243.60 372.26h11.30v5.64h-11.30zM271.85 372.26h5.65v5.64h-5.65zM300.10 372.26h5.65v5.64h-5.65zM311.40 372.26h5.65v5.64h-5.65zM322.70 372.26h5.65v5.64h-5.65zM418.75 372.26h5.65v5.64h-5.65zM108.00 377.90h5.65v5.64h-5.65zM181.45 377.90h5.65v5.64h-5.65zM300.10 377.90h5.65v5.64h-5.65zM350.95 377.90h5.65v5.64h-5.65zM418.75 377.90h5.65v5.64h-5.65zM141.90 383.54h5.65v5.64h-5.65zM181.45 383.54h5.65v5.64h-5.65zM198.40 383.54h5.65v5.64h-5.65zM215.35 383.54h5.65v5.64h-5.65zM243.60 383.54h11.30v5.64h-11.30zM271.85 383.54h5.65v5.64h-5.65zM294.45 383.54h5.65v5.64h-5.65zM311.40 383.54h5.65v5.64h-5.65zM322.70 383.54h5.65v5.64h-5.65zM418.75 383.54h5.65v5.64h-5.65zM119.30 389.18h5.65v5.64h-5.65zM130.60 389.18h16.95v5.64h-16.95zM181.45 389.18h5.65v5.64h-5.65zM300.10 389.18h5.65v5.64h-5.65zM311.40 389.18h5.65v5.64h-5.65zM322.70 389.18h5.65v5.64h-5.65zM418.75 389.18h5.65v5.64h-5.65zM198.40 394.82h5.65v5.64h-5.65zM226.65 394.82h5.65v5.64h-5.65zM243.60 394.82h11.30v5.64h-11.30zM407.45 394.82h5.65v5.64h-5.65zM418.75 394.82h5.65v5.64h-5.65zM136.25 400.46h5.65v5.64h-5.65zM243.60 400.46h5.65v5.64h-5.65zM322.70 400.46h5.65v5.64h-5.65zM243.60 406.10h11.30v5.64h-11.30zM317.05 406.10h11.30v5.64h-11.30zM401.80 406.10h5.65v5.64h-5.65zM413.10 406.10h11.30v5.64h-11.30zM181.45 411.74h5.65v5.64h-5.65zM243.60 411.74h11.30v5.64h-11.30zM300.10 411.74h5.65v5.64h-5.65zM401.80 411.74h5.65v5.64h-5.65zM418.75 411.74h5.65v5.64h-5.65zM243.60 417.38h11.30v5.64h-11.30zM401.80 417.38h5.65v5.64h-5.65zM418.75 417.38h5.65v5.64h-5.65zM215.35 423.02h11.30v5.64h-11.30zM243.60 423.02h11.30v5.64h-11.30zM271.85 423.02h5.65v5.64h-5.65zM300.10 423.02h5.65v5.64h-5.65zM418.75 423.02h5.65v5.64h-5.65zM108.00 428.66h5.65v5.64h-5.65zM300.10 428.66h5.65v5.64h-5.65zM418.75 428.66h5.65v5.64h-5.65zM108.00 434.30h5.65v5.64h-5.65zM130.60 434.30h5.65v5.64h-5.65zM170.15 434.30h5.65v5.64h-5.65zM181.45 434.30h5.65v5.64h-5.65zM221.00 434.30h5.65v5.64h-5.65zM243.60 434.30h5.65v5.64h-5.65zM300.10 434.30h5.65v5.64h-5.65zM322.70 434.30h5.65v5.64h-5.65zM379.20 434.30h5.65v5.64h-5.65zM418.75 434.30h5.65v5.64h-5.65zM108.00 439.94h5.65v5.64h-5.65zM136.25 439.94h11.30v5.64h-11.30zM198.40 439.94h5.65v5.64h-5.65zM243.60 439.94h5.65v5.64h-5.65zM294.45 439.94h5.65v5.64h-5.65zM322.70 439.94h5.65v5.64h-5.65zM350.95 439.94h11.30v5.64h-11.30zM401.80 439.94h5.65v5.64h-5.65zM418.75 439.94h5.65v5.64h-5.65zM153.20 445.58h5.65v5.64h-5.65zM175.80 445.58h5.65v5.64h-5.65zM243.60 445.58h5.65v5.64h-5.65zM356.60 445.58h5.65v5.64h-5.65zM379.20 445.58h5.65v5.64h-5.65zM401.80 445.58h11.30v5.64h-11.30zM418.75 445.58h11.30v5.64h-11.30zM108.00 451.22h5.65v5.64h-5.65zM232.30 451.22h5.65v5.64h-5.65zM249.25 451.22h5.65v5.64h-5.65zM317.05 451.22h11.30v5.64h-11.30zM379.20 451.22h5.65v5.64h-5.65zM418.75 451.22h5.65v5.64h-5.65zM108.00 456.86h5.65v5.64h-5.65zM141.90 456.86h5.65v5.64h-5.65zM209.70 456.86h5.65v5.64h-5.65zM300.10 456.86h5.65v5.64h-5.65zM311.40 456.86h16.95v5.64h-16.95zM379.20 456.86h5.65v5.64h-5.65zM418.75 456.86h5.65v5.64h-5.65z"/><path fill="#ffff00" d="M113.65 293.30h5.65v5.64h-5.65zM124.95 293.30h5.65v5.64h-5.65zM147.55 293.30h5.65v5.64h-5.65zM187.10 293.30h5.65v5.64h-5.65zM266.20 293.30h5.65v5.64h-5.65zM345.30 293.30h5.65v5.64h-5.65zM430.05 293.30h5.65v5.64h-5.65zM158.85 298.94h5.65v5.64h-5.65zM170.15 298.94h5.65v5.64h-5.65zM192.75 298.94h5.65v5.64h-5.65zM237.95 298.94h5.65v5.64h-5.65zM283.15 298.94h5.65v5.64h-5.65zM322.70 298.94h5.65v5.64h-5.65zM108.00 304.58h5.65v5.64h-5.65zM192.75 304.58h5.65v5.64h-5.65zM237.95 304.58h5.65v5.64h-5.65zM367.90 304.58h5.65v5.64h-5.65zM390.50 304.58h5.65v5.64h-5.65zM108.00 310.22h5.65v5.64h-5.65zM124.95 310.22h5.65v5.64h-5.65zM147.55 310.22h5.65v5.64h-5.65zM192.75 310.22h5.65v5.64h-5.65zM266.20 310.22h5.65v5.64h-5.65zM367.90 310.22h5.65v5.64h-5.65zM430.05 310.22h5.65v5.64h-5.65zM91.05 315.86h5.65v5.64h-5.65zM192.75 315.86h5.65v5.64h-5.65zM350.95 315.86h5.65v5.64h-5.65zM367.90 315.86h5.65v5.64h-5.65zM390.50 315.86h5.65v5.64h-5.65zM158.85 321.50h5.65v5.64h-5.65zM187.10 321.50h5.65v5.64h-5.65zM390.50 321.50h5.65v5.64h-5.65zM158.85 327.14h5.65v5.64h-5.65zM192.75 327.14h5.65v5.64h-5.65zM305.75 327.14h5.65v5.64h-5.65zM350.95 327.14h5.65v5.64h-5.65zM367.90 327.14h5.65v5.64h-5.65zM390.50 327.14h5.65v5.64h-5.65zM113.65 332.78h5.65v5.64h-5.65zM147.55 332.78h5.65v5.64h-5.65zM192.75 332.78h5.65v5.64h-5.65zM305.75 332.78h5.65v5.64h-5.65zM430.05 332.78h5.65v5.64h-5.65zM113.65 338.42h5.65v5.64h-5.65zM147.55 338.42h5.65v5.64h-5.65zM187.10 338.42h11.30v5.64h-11.30zM147.55 344.06h5.65v5.64h-5.65zM266.20 344.06h5.65v5.64h-5.65zM367.90 344.06h5.65v5.64h-5.65zM113.65 349.70h5.65v5.64h-5.65zM187.10 349.70h5.65v5.64h-5.65zM266.20 349.70h5.65v5.64h-5.65zM430.05 349.70h5.65v5.64h-5.65zM124.95 355.34h5.65v5.64h-5.65zM147.55 355.34h5.65v5.64h-5.65zM192.75 355.34h5.65v5.64h-5.65zM345.30 355.34h5.65v5.64h-5.65zM147.55 360.98h5.65v5.64h-5.65zM187.10 360.98h5.65v5.64h-5.65zM266.20 360.98h5.65v5.64h-5.65zM124.95 366.62h5.65v5.64h-5.65zM136.25 366.62h5.65v5.64h-5.65zM147.55 366.62h5.65v5.64h-5.65zM187.10 366.62h11.30v5.64h-11.30zM266.20 366.62h5.65v5.64h-5.65zM345.30 366.62h5.65v5.64h-5.65zM367.90 366.62h5.65v5.64h-5.65zM430.05 366.62h5.65v5.64h-5.65zM192.75 372.26h5.65v5.64h-5.65zM396.15 372.26h5.65v5.64h-5.65zM192.75 377.90h5.65v5.64h-5.65zM305.75 377.90h5.65v5.64h-5.65zM334.00 377.90h5.65v5.64h-5.65zM124.95 383.54h5.65v5.64h-5.65zM158.85 383.54h5.65v5.64h-5.65zM192.75 383.54h5.65v5.64h-5.65zM271.85 389.18h5.65v5.64h-5.65zM367.90 389.18h5.65v5.64h-5.65zM390.50 389.18h11.30v5.64h-11.30zM187.10 394.82h11.30v5.64h-11.30zM271.85 394.82h5.65v5.64h-5.65zM294.45 394.82h5.65v5.64h-5.65zM367.90 394.82h5.65v5.64h-5.65zM390.50 394.82h11.30v5.64h-11.30zM91.05 400.46h5.65v5.64h-5.65zM266.20 400.46h5.65v5.64h-5.65zM345.30 400.46h5.65v5.64h-5.65zM367.90 400.46h5.65v5.64h-5.65zM390.50 400.46h11.30v5.64h-11.30zM91.05 406.10h5.65v5.64h-5.65zM192.75 406.10h5.65v5.64h-5.65zM237.95 406.10h5.65v5.64h-5.65zM283.15 406.10h5.65v5.64h-5.65zM367.90 406.10h5.65v5.64h-5.65zM379.20 406.10h5.65v5.64h-5.65zM396.15 406.10h5.65v5.64h-5.65zM91.05 411.74h5.65v5.64h-5.65zM141.90 411.74h5.65v5.64h-5.65zM192.75 411.74h5.65v5.64h-5.65zM237.95 411.74h5.65v5.64h-5.65zM367.90 411.74h5.65v5.64h-5.65zM379.20 411.74h5.65v5.64h-5.65zM396.15 411.74h5.65v5.64h-5.65zM192.75 417.38h5.65v5.64h-5.65zM237.95 417.38h5.65v5.64h-5.65zM345.30 417.38h5.65v5.64h-5.65zM367.90 417.38h5.65v5.64h-5.65zM379.20 417.38h5.65v5.64h-5.65zM396.15 417.38h5.65v5.64h-5.65zM91.05 423.02h5.65v5.64h-5.65zM113.65 423.02h5.65v5.64h-5.65zM147.55 423.02h5.65v5.64h-5.65zM192.75 423.02h5.65v5.64h-5.65zM266.20 423.02h5.65v5.64h-5.65zM305.75 423.02h5.65v5.64h-5.65zM345.30 423.02h5.65v5.64h-5.65zM113.65 428.66h5.65v5.64h-5.65zM147.55 428.66h5.65v5.64h-5.65zM192.75 428.66h5.65v5.64h-5.65zM147.55 434.30h5.65v5.64h-5.65zM91.05 439.94h5.65v5.64h-5.65zM187.10 439.94h11.30v5.64h-11.30zM237.95 439.94h5.65v5.64h-5.65zM266.20 439.94h5.65v5.64h-5.65zM367.90 439.94h5.65v5.64h-5.65zM396.15 439.94h5.65v5.64h-5.65zM158.85 445.58h5.65v5.64h-5.65zM187.10 445.58h11.30v5.64h-11.30zM237.95 445.58h5.65v5.64h-5.65zM283.15 445.58h5.65v5.64h-5.65zM334.00 445.58h5.65v5.64h-5.65zM367.90 445.58h5.65v5.64h-5.65zM396.15 445.58h5.65v5.64h-5.65zM124.95 451.22h5.65v5.64h-5.65zM147.55 451.22h5.65v5.64h-5.65zM158.85 451.22h5.65v5.64h-5.65zM187.10 451.22h5.65v5.64h-5.65zM237.95 451.22h5.65v5.64h-5.65zM283.15 451.22h5.65v5.64h-5.65zM334.00 451.22h5.65v5.64h-5.65zM367.90 451.22h5.65v5.64h-5.65zM91.05 456.86h5.65v5.64h-5.65zM192.75 456.86h5.65v5.64h-5.65zM237.95 456.86h5.65v5.64h-5.65zM283.15 456.86h5.65v5.64h-5.65zM334.00 456.86h5.65v5.64h-5.65z"/><path fill="#ffd500" d="M192.75 293.30h5.65v5.64h-5.65zM158.85 310.22h5.65v5.64h-5.65zM237.95 310.22h5.65v5.64h-5.65zM283.15 310.22h5.65v5.64h-5.65zM390.50 310.22h5.65v5.64h-5.65zM158.85 315.86h5.65v5.64h-5.65zM237.95 315.86h5.65v5.64h-5.65zM192.75 321.50h5.65v5.64h-5.65zM237.95 321.50h5.65v5.64h-5.65zM334.00 321.50h5.65v5.64h-5.65zM367.90 321.50h5.65v5.64h-5.65zM396.15 321.50h5.65v5.64h-5.65zM91.05 327.14h5.65v5.64h-5.65zM396.15 327.14h5.65v5.64h-5.65zM91.05 332.78h5.65v5.64h-5.65zM237.95 338.42h5.65v5.64h-5.65zM334.00 338.42h5.65v5.64h-5.65zM367.90 338.42h5.65v5.64h-5.65zM91.05 344.06h5.65v5.64h-5.65zM237.95 344.06h5.65v5.64h-5.65zM91.05 349.70h5.65v5.64h-5.65zM237.95 349.70h5.65v5.64h-5.65zM367.90 349.70h5.65v5.64h-5.65zM158.85 360.98h5.65v5.64h-5.65zM283.15 360.98h5.65v5.64h-5.65zM334.00 360.98h5.65v5.64h-5.65zM367.90 360.98h5.65v5.64h-5.65zM91.05 366.62h5.65v5.64h-5.65zM283.15 366.62h5.65v5.64h-5.65zM334.00 366.62h5.65v5.64h-5.65zM91.05 372.26h5.65v5.64h-5.65zM158.85 372.26h5.65v5.64h-5.65zM237.95 372.26h5.65v5.64h-5.65zM390.50 372.26h5.65v5.64h-5.65zM91.05 377.90h5.65v5.64h-5.65zM158.85 377.90h5.65v5.64h-5.65zM237.95 377.90h5.65v5.64h-5.65zM367.90 377.90h5.65v5.64h-5.65zM91.05 383.54h5.65v5.64h-5.65zM367.90 383.54h5.65v5.64h-5.65zM91.05 394.82h5.65v5.64h-5.65zM283.15 394.82h5.65v5.64h-5.65zM237.95 400.46h5.65v5.64h-5.65zM283.15 411.74h5.65v5.64h-5.65zM91.05 417.38h5.65v5.64h-5.65zM283.15 417.38h5.65v5.64h-5.65zM237.95 423.02h5.65v5.64h-5.65zM334.00 428.66h5.65v5.64h-5.65zM192.75 434.30h5.65v5.64h-5.65zM390.50 439.94h5.65v5.64h-5.65zM91.05 445.58h5.65v5.64h-5.65zM91.05 451.22h5.65v5.64h-5.65zM390.50 451.22h11.30v5.64h-11.30zM367.90 456.86h5.65v5.64h-5.65z"/><path fill="#60609f" d="M198.40 293.30h5.65v5.64h-5.65zM271.85 293.30h5.65v5.64h-5.65zM311.40 293.30h5.65v5.64h-5.65zM379.20 293.30h5.65v5.64h-5.65zM413.10 293.30h5.65v5.64h-5.65zM102.35 298.94h5.65v5.64h-5.65zM141.90 298.94h5.65v5.64h-5.65zM153.20 298.94h5.65v5.64h-5.65zM175.80 298.94h11.30v5.64h-11.30zM221.00 298.94h5.65v5.64h-5.65zM260.55 298.94h5.65v5.64h-5.65zM294.45 298.94h5.65v5.64h-5.65zM413.10 298.94h5.65v5.64h-5.65zM424.40 298.94h5.65v5.64h-5.65zM102.35 304.58h5.65v5.64h-5.65zM130.60 304.58h11.30v5.64h-11.30zM153.20 304.58h5.65v5.64h-5.65zM232.30 304.58h5.65v5.64h-5.65zM249.25 304.58h5.65v5.64h-5.65zM260.55 304.58h5.65v5.64h-5.65zM300.10 304.58h5.65v5.64h-5.65zM311.40 304.58h5.65v5.64h-5.65zM328.35 304.58h5.65v5.64h-5.65zM424.40 304.58h5.65v5.64h-5.65zM136.25 310.22h5.65v5.64h-5.65zM175.80 310.22h11.30v5.64h-11.30zM232.30 310.22h5.65v5.64h-5.65zM277.50 310.22h5.65v5.64h-5.65zM356.60 310.22h5.65v5.64h-5.65zM119.30 315.86h5.65v5.64h-5.65zM130.60 315.86h5.65v5.64h-5.65zM181.45 315.86h5.65v5.64h-5.65zM215.35 315.86h11.30v5.64h-11.30zM232.30 315.86h5.65v5.64h-5.65zM300.10 315.86h5.65v5.64h-5.65zM339.65 315.86h5.65v5.64h-5.65zM424.40 315.86h5.65v5.64h-5.65zM102.35 321.50h5.65v5.64h-5.65zM130.60 321.50h5.65v5.64h-5.65zM153.20 321.50h5.65v5.64h-5.65zM198.40 321.50h5.65v5.64h-5.65zM215.35 321.50h5.65v5.64h-5.65zM249.25 321.50h5.65v5.64h-5.65zM322.70 321.50h5.65v5.64h-5.65zM339.65 321.50h5.65v5.64h-5.65zM424.40 321.50h5.65v5.64h-5.65zM102.35 327.14h5.65v5.64h-5.65zM119.30 327.14h5.65v5.64h-5.65zM153.20 327.14h5.65v5.64h-5.65zM181.45 327.14h5.65v5.64h-5.65zM198.40 327.14h11.30v5.64h-11.30zM215.35 327.14h11.30v5.64h-11.30zM232.30 327.14h5.65v5.64h-5.65zM249.25 327.14h5.65v5.64h-5.65zM300.10 327.14h5.65v5.64h-5.65zM317.05 327.14h5.65v5.64h-5.65zM339.65 327.14h5.65v5.64h-5.65zM407.45 327.14h5.65v5.64h-5.65zM424.40 327.14h5.65v5.64h-5.65zM102.35 332.78h5.65v5.64h-5.65zM181.45 332.78h5.65v5.64h-5.65zM198.40 332.78h5.65v5.64h-5.65zM226.65 332.78h5.65v5.64h-5.65zM300.10 332.78h5.65v5.64h-5.65zM317.05 332.78h11.30v5.64h-11.30zM339.65 332.78h5.65v5.64h-5.65zM102.35 338.42h5.65v5.64h-5.65zM141.90 338.42h5.65v5.64h-5.65zM198.40 338.42h5.65v5.64h-5.65zM328.35 338.42h5.65v5.64h-5.65zM339.65 338.42h5.65v5.64h-5.65zM136.25 344.06h5.65v5.64h-5.65zM170.15 344.06h5.65v5.64h-5.65zM198.40 344.06h5.65v5.64h-5.65zM221.00 344.06h16.95v5.64h-16.95zM300.10 344.06h5.65v5.64h-5.65zM311.40 344.06h5.65v5.64h-5.65zM339.65 344.06h5.65v5.64h-5.65zM356.60 344.06h5.65v5.64h-5.65zM413.10 344.06h5.65v5.64h-5.65zM102.35 349.70h5.65v5.64h-5.65zM136.25 349.70h5.65v5.64h-5.65zM221.00 349.70h16.95v5.64h-16.95zM311.40 349.70h5.65v5.64h-5.65zM339.65 349.70h5.65v5.64h-5.65zM413.10 349.70h5.65v5.64h-5.65zM170.15 355.34h5.65v5.64h-5.65zM198.40 355.34h5.65v5.64h-5.65zM221.00 355.34h11.30v5.64h-11.30zM311.40 355.34h5.65v5.64h-5.65zM102.35 360.98h5.65v5.64h-5.65zM209.70 360.98h5.65v5.64h-5.65zM232.30 360.98h5.65v5.64h-5.65zM294.45 360.98h5.65v5.64h-5.65zM350.95 360.98h11.30v5.64h-11.30zM102.35 366.62h5.65v5.64h-5.65zM170.15 366.62h5.65v5.64h-5.65zM232.30 366.62h5.65v5.64h-5.65zM288.80 366.62h11.30v5.64h-11.30zM102.35 372.26h5.65v5.64h-5.65zM119.30 372.26h5.65v5.64h-5.65zM130.60 372.26h5.65v5.64h-5.65zM198.40 372.26h5.65v5.64h-5.65zM221.00 372.26h11.30v5.64h-11.30zM277.50 372.26h5.65v5.64h-5.65zM328.35 372.26h5.65v5.64h-5.65zM339.65 372.26h5.65v5.64h-5.65zM401.80 372.26h5.65v5.64h-5.65zM424.40 372.26h5.65v5.64h-5.65zM102.35 377.90h5.65v5.64h-5.65zM119.30 377.90h5.65v5.64h-5.65zM130.60 377.90h11.30v5.64h-11.30zM198.40 377.90h5.65v5.64h-5.65zM215.35 377.90h11.30v5.64h-11.30zM232.30 377.90h5.65v5.64h-5.65zM243.60 377.90h5.65v5.64h-5.65zM311.40 377.90h5.65v5.64h-5.65zM328.35 377.90h5.65v5.64h-5.65zM339.65 377.90h5.65v5.64h-5.65zM102.35 383.54h11.30v5.64h-11.30zM119.30 383.54h5.65v5.64h-5.65zM153.20 383.54h5.65v5.64h-5.65zM221.00 383.54h11.30v5.64h-11.30zM339.65 383.54h5.65v5.64h-5.65zM350.95 383.54h11.30v5.64h-11.30zM424.40 383.54h5.65v5.64h-5.65zM102.35 389.18h5.65v5.64h-5.65zM153.20 389.18h5.65v5.64h-5.65zM170.15 389.18h5.65v5.64h-5.65zM198.40 389.18h5.65v5.64h-5.65zM209.70 389.18h5.65v5.64h-5.65zM232.30 389.18h5.65v5.64h-5.65zM260.55 389.18h5.65v5.64h-5.65zM277.50 389.18h5.65v5.64h-5.65zM328.35 389.18h5.65v5.64h-5.65zM373.55 389.18h5.65v5.64h-5.65zM401.80 389.18h11.30v5.64h-11.30zM424.40 389.18h5.65v5.64h-5.65zM136.25 394.82h5.65v5.64h-5.65zM170.15 394.82h11.30v5.64h-11.30zM215.35 394.82h5.65v5.64h-5.65zM260.55 394.82h5.65v5.64h-5.65zM311.40 394.82h5.65v5.64h-5.65zM328.35 394.82h5.65v5.64h-5.65zM413.10 394.82h5.65v5.64h-5.65zM424.40 394.82h5.65v5.64h-5.65zM170.15 400.46h5.65v5.64h-5.65zM215.35 400.46h5.65v5.64h-5.65zM249.25 400.46h5.65v5.64h-5.65zM300.10 400.46h5.65v5.64h-5.65zM311.40 400.46h5.65v5.64h-5.65zM328.35 400.46h5.65v5.64h-5.65zM350.95 400.46h11.30v5.64h-11.30zM424.40 400.46h5.65v5.64h-5.65zM170.15 406.10h5.65v5.64h-5.65zM181.45 406.10h5.65v5.64h-5.65zM215.35 406.10h5.65v5.64h-5.65zM232.30 406.10h5.65v5.64h-5.65zM300.10 406.10h5.65v5.64h-5.65zM311.40 406.10h5.65v5.64h-5.65zM424.40 406.10h5.65v5.64h-5.65zM102.35 411.74h5.65v5.64h-5.65zM119.30 411.74h5.65v5.64h-5.65zM130.60 411.74h5.65v5.64h-5.65zM170.15 411.74h5.65v5.64h-5.65zM215.35 411.74h5.65v5.64h-5.65zM232.30 411.74h5.65v5.64h-5.65zM311.40 411.74h11.30v5.64h-11.30zM328.35 411.74h5.65v5.64h-5.65zM407.45 411.74h11.30v5.64h-11.30zM424.40 411.74h5.65v5.64h-5.65zM102.35 417.38h5.65v5.64h-5.65zM119.30 417.38h5.65v5.64h-5.65zM130.60 417.38h5.65v5.64h-5.65zM153.20 417.38h5.65v5.64h-5.65zM170.15 417.38h5.65v5.64h-5.65zM181.45 417.38h5.65v5.64h-5.65zM215.35 417.38h5.65v5.64h-5.65zM232.30 417.38h5.65v5.64h-5.65zM260.55 417.38h5.65v5.64h-5.65zM300.10 417.38h5.65v5.64h-5.65zM311.40 417.38h22.60v5.64h-22.60zM407.45 417.38h11.30v5.64h-11.30zM424.40 417.38h5.65v5.64h-5.65zM130.60 423.02h11.30v5.64h-11.30zM170.15 423.02h5.65v5.64h-5.65zM181.45 423.02h5.65v5.64h-5.65zM232.30 423.02h5.65v5.64h-5.65zM413.10 423.02h5.65v5.64h-5.65zM136.25 428.66h5.65v5.64h-5.65zM170.15 428.66h5.65v5.64h-5.65zM198.40 428.66h5.65v5.64h-5.65zM232.30 428.66h5.65v5.64h-5.65zM311.40 428.66h5.65v5.64h-5.65zM373.55 428.66h5.65v5.64h-5.65zM424.40 428.66h5.65v5.64h-5.65zM232.30 434.30h5.65v5.64h-5.65zM311.40 434.30h5.65v5.64h-5.65zM373.55 434.30h5.65v5.64h-5.65zM384.85 434.30h5.65v5.64h-5.65zM424.40 434.30h5.65v5.64h-5.65zM96.70 439.94h5.65v5.64h-5.65zM170.15 439.94h5.65v5.64h-5.65zM271.85 439.94h5.65v5.64h-5.65zM413.10 439.94h5.65v5.64h-5.65zM119.30 445.58h5.65v5.64h-5.65zM147.55 445.58h5.65v5.64h-5.65zM204.05 445.58h5.65v5.64h-5.65zM215.35 445.58h5.65v5.64h-5.65zM226.65 445.58h5.65v5.64h-5.65zM277.50 445.58h5.65v5.64h-5.65zM300.10 445.58h5.65v5.64h-5.65zM311.40 445.58h16.95v5.64h-16.95zM141.90 451.22h5.65v5.64h-5.65zM175.80 451.22h5.65v5.64h-5.65zM204.05 451.22h5.65v5.64h-5.65zM226.65 451.22h5.65v5.64h-5.65zM277.50 451.22h5.65v5.64h-5.65zM373.55 451.22h5.65v5.64h-5.65zM401.80 451.22h11.30v5.64h-11.30zM102.35 456.86h5.65v5.64h-5.65zM136.25 456.86h5.65v5.64h-5.65zM221.00 456.86h5.65v5.64h-5.65zM243.60 456.86h5.65v5.64h-5.65zM277.50 456.86h5.65v5.64h-5.65zM350.95 456.86h5.65v5.64h-5.65zM373.55 456.86h5.65v5.64h-5.65zM401.80 456.86h5.65v5.64h-5.65zM424.40 456.86h5.65v5.64h-5.65z"/><path fill="#dfdf20" d="M209.70 293.30h5.65v5.64h-5.65zM91.05 298.94h5.65v5.64h-5.65zM367.90 298.94h5.65v5.64h-5.65zM113.65 304.58h5.65v5.64h-5.65zM187.10 304.58h5.65v5.64h-5.65zM209.70 304.58h5.65v5.64h-5.65zM345.30 304.58h5.65v5.64h-5.65zM379.20 304.58h5.65v5.64h-5.65zM113.65 310.22h5.65v5.64h-5.65zM345.30 310.22h5.65v5.64h-5.65zM141.90 315.86h11.30v5.64h-11.30zM209.70 315.86h5.65v5.64h-5.65zM305.75 315.86h5.65v5.64h-5.65zM345.30 315.86h5.65v5.64h-5.65zM379.20 315.86h5.65v5.64h-5.65zM294.45 321.50h5.65v5.64h-5.65zM345.30 321.50h5.65v5.64h-5.65zM237.95 327.14h5.65v5.64h-5.65zM266.20 327.14h5.65v5.64h-5.65zM345.30 327.14h5.65v5.64h-5.65zM379.20 327.14h5.65v5.64h-5.65zM124.95 332.78h5.65v5.64h-5.65zM266.20 332.78h5.65v5.64h-5.65zM345.30 332.78h5.65v5.64h-5.65zM124.95 338.42h5.65v5.64h-5.65zM266.20 338.42h5.65v5.64h-5.65zM345.30 338.42h5.65v5.64h-5.65zM430.05 338.42h5.65v5.64h-5.65zM113.65 344.06h5.65v5.64h-5.65zM124.95 344.06h5.65v5.64h-5.65zM187.10 344.06h11.30v5.64h-11.30zM379.20 344.06h5.65v5.64h-5.65zM430.05 344.06h5.65v5.64h-5.65zM147.55 349.70h5.65v5.64h-5.65zM192.75 349.70h5.65v5.64h-5.65zM305.75 349.70h5.65v5.64h-5.65zM113.65 355.34h5.65v5.64h-5.65zM187.10 355.34h5.65v5.64h-5.65zM266.20 355.34h5.65v5.64h-5.65zM305.75 355.34h5.65v5.64h-5.65zM430.05 355.34h5.65v5.64h-5.65zM113.65 360.98h5.65v5.64h-5.65zM124.95 360.98h5.65v5.64h-5.65zM430.05 360.98h5.65v5.64h-5.65zM113.65 366.62h5.65v5.64h-5.65zM113.65 372.26h5.65v5.64h-5.65zM147.55 372.26h5.65v5.64h-5.65zM266.20 372.26h5.65v5.64h-5.65zM113.65 377.90h5.65v5.64h-5.65zM266.20 377.90h5.65v5.64h-5.65zM322.70 377.90h5.65v5.64h-5.65zM113.65 383.54h5.65v5.64h-5.65zM170.15 383.54h5.65v5.64h-5.65zM266.20 383.54h5.65v5.64h-5.65zM91.05 389.18h5.65v5.64h-5.65zM113.65 389.18h5.65v5.64h-5.65zM249.25 389.18h5.65v5.64h-5.65zM283.15 389.18h5.65v5.64h-5.65zM345.30 389.18h11.30v5.64h-11.30zM430.05 389.18h5.65v5.64h-5.65zM113.65 394.82h5.65v5.64h-5.65zM124.95 394.82h5.65v5.64h-5.65zM147.55 394.82h5.65v5.64h-5.65zM305.75 394.82h5.65v5.64h-5.65zM345.30 394.82h5.65v5.64h-5.65zM379.20 394.82h5.65v5.64h-5.65zM430.05 394.82h5.65v5.64h-5.65zM108.00 400.46h11.30v5.64h-11.30zM124.95 400.46h5.65v5.64h-5.65zM147.55 400.46h5.65v5.64h-5.65zM192.75 400.46h5.65v5.64h-5.65zM283.15 400.46h5.65v5.64h-5.65zM305.75 400.46h5.65v5.64h-5.65zM379.20 400.46h5.65v5.64h-5.65zM430.05 400.46h5.65v5.64h-5.65zM141.90 406.10h11.30v5.64h-11.30zM187.10 406.10h5.65v5.64h-5.65zM266.20 406.10h5.65v5.64h-5.65zM345.30 406.10h5.65v5.64h-5.65zM390.50 406.10h5.65v5.64h-5.65zM221.00 411.74h5.65v5.64h-5.65zM266.20 411.74h5.65v5.64h-5.65zM345.30 411.74h5.65v5.64h-5.65zM390.50 411.74h5.65v5.64h-5.65zM141.90 417.38h11.30v5.64h-11.30zM221.00 417.38h5.65v5.64h-5.65zM266.20 417.38h5.65v5.64h-5.65zM390.50 417.38h5.65v5.64h-5.65zM430.05 423.02h5.65v5.64h-5.65zM187.10 428.66h5.65v5.64h-5.65zM266.20 428.66h5.65v5.64h-5.65zM322.70 428.66h5.65v5.64h-5.65zM345.30 428.66h5.65v5.64h-5.65zM113.65 434.30h5.65v5.64h-5.65zM141.90 434.30h5.65v5.64h-5.65zM266.20 434.30h5.65v5.64h-5.65zM345.30 434.30h5.65v5.64h-5.65zM113.65 439.94h5.65v5.64h-5.65zM147.55 439.94h5.65v5.64h-5.65zM311.40 439.94h5.65v5.64h-5.65zM345.30 439.94h5.65v5.64h-5.65zM430.05 439.94h5.65v5.64h-5.65zM266.20 445.58h5.65v5.64h-5.65zM294.45 445.58h5.65v5.64h-5.65zM345.30 445.58h5.65v5.64h-5.65zM113.65 451.22h5.65v5.64h-5.65zM215.35 451.22h5.65v5.64h-5.65zM266.20 451.22h5.65v5.64h-5.65zM345.30 451.22h5.65v5.64h-5.65zM430.05 451.22h5.65v5.64h-5.65zM113.65 456.86h5.65v5.64h-5.65zM124.95 456.86h5.65v5.64h-5.65zM266.20 456.86h5.65v5.64h-5.65zM345.30 456.86h5.65v5.64h-5.65z"/><path fill="#4040bf" d="M232.30 293.30h5.65v5.64h-5.65zM277.50 293.30h5.65v5.64h-5.65zM300.10 293.30h5.65v5.64h-5.65zM322.70 293.30h5.65v5.64h-5.65zM350.95 293.30h11.30v5.64h-11.30zM96.70 298.94h5.65v5.64h-5.65zM232.30 298.94h5.65v5.64h-5.65zM305.75 298.94h5.65v5.64h-5.65zM384.85 298.94h5.65v5.64h-5.65zM401.80 298.94h5.65v5.64h-5.65zM119.30 304.58h5.65v5.64h-5.65zM204.05 304.58h5.65v5.64h-5.65zM215.35 304.58h5.65v5.64h-5.65zM226.65 304.58h5.65v5.64h-5.65zM288.80 304.58h5.65v5.64h-5.65zM322.70 304.58h5.65v5.64h-5.65zM339.65 304.58h5.65v5.64h-5.65zM356.60 304.58h5.65v5.64h-5.65zM373.55 304.58h5.65v5.64h-5.65zM96.70 310.22h11.30v5.64h-11.30zM119.30 310.22h5.65v5.64h-5.65zM226.65 310.22h5.65v5.64h-5.65zM339.65 310.22h5.65v5.64h-5.65zM136.25 315.86h5.65v5.64h-5.65zM153.20 315.86h5.65v5.64h-5.65zM204.05 315.86h5.65v5.64h-5.65zM226.65 315.86h5.65v5.64h-5.65zM260.55 315.86h5.65v5.64h-5.65zM311.40 315.86h11.30v5.64h-11.30zM356.60 315.86h5.65v5.64h-5.65zM373.55 315.86h5.65v5.64h-5.65zM407.45 315.86h5.65v5.64h-5.65zM204.05 321.50h5.65v5.64h-5.65zM221.00 321.50h5.65v5.64h-5.65zM260.55 321.50h5.65v5.64h-5.65zM356.60 321.50h5.65v5.64h-5.65zM373.55 321.50h5.65v5.64h-5.65zM401.80 321.50h5.65v5.64h-5.65zM413.10 321.50h5.65v5.64h-5.65zM260.55 327.14h5.65v5.64h-5.65zM311.40 327.14h5.65v5.64h-5.65zM373.55 327.14h5.65v5.64h-5.65zM401.80 327.14h5.65v5.64h-5.65zM413.10 327.14h5.65v5.64h-5.65zM136.25 332.78h5.65v5.64h-5.65zM260.55 332.78h5.65v5.64h-5.65zM311.40 332.78h5.65v5.64h-5.65zM356.60 332.78h5.65v5.64h-5.65zM373.55 332.78h5.65v5.64h-5.65zM130.60 338.42h5.65v5.64h-5.65zM175.80 338.42h11.30v5.64h-11.30zM221.00 338.42h5.65v5.64h-5.65zM407.45 338.42h5.65v5.64h-5.65zM424.40 338.42h5.65v5.64h-5.65zM96.70 344.06h5.65v5.64h-5.65zM119.30 344.06h5.65v5.64h-5.65zM130.60 344.06h5.65v5.64h-5.65zM175.80 344.06h5.65v5.64h-5.65zM204.05 344.06h5.65v5.64h-5.65zM322.70 344.06h5.65v5.64h-5.65zM384.85 344.06h5.65v5.64h-5.65zM401.80 344.06h5.65v5.64h-5.65zM424.40 344.06h5.65v5.64h-5.65zM119.30 349.70h5.65v5.64h-5.65zM130.60 349.70h5.65v5.64h-5.65zM153.20 349.70h5.65v5.64h-5.65zM175.80 349.70h11.30v5.64h-11.30zM204.05 349.70h5.65v5.64h-5.65zM356.60 349.70h5.65v5.64h-5.65zM373.55 349.70h5.65v5.64h-5.65zM401.80 349.70h5.65v5.64h-5.65zM102.35 355.34h5.65v5.64h-5.65zM153.20 355.34h5.65v5.64h-5.65zM175.80 355.34h5.65v5.64h-5.65zM204.05 355.34h5.65v5.64h-5.65zM260.55 355.34h5.65v5.64h-5.65zM356.60 355.34h5.65v5.64h-5.65zM373.55 355.34h5.65v5.64h-5.65zM401.80 355.34h16.95v5.64h-16.95zM424.40 355.34h5.65v5.64h-5.65zM108.00 360.98h5.65v5.64h-5.65zM119.30 360.98h5.65v5.64h-5.65zM175.80 360.98h11.30v5.64h-11.30zM204.05 360.98h5.65v5.64h-5.65zM221.00 360.98h11.30v5.64h-11.30zM243.60 360.98h5.65v5.64h-5.65zM288.80 360.98h5.65v5.64h-5.65zM339.65 360.98h5.65v5.64h-5.65zM373.55 360.98h5.65v5.64h-5.65zM384.85 360.98h5.65v5.64h-5.65zM401.80 360.98h5.65v5.64h-5.65zM413.10 360.98h5.65v5.64h-5.65zM108.00 366.62h5.65v5.64h-5.65zM119.30 366.62h5.65v5.64h-5.65zM130.60 366.62h5.65v5.64h-5.65zM141.90 366.62h5.65v5.64h-5.65zM175.80 366.62h11.30v5.64h-11.30zM204.05 366.62h5.65v5.64h-5.65zM356.60 366.62h5.65v5.64h-5.65zM373.55 366.62h5.65v5.64h-5.65zM401.80 366.62h11.30v5.64h-11.30zM153.20 372.26h5.65v5.64h-5.65zM175.80 372.26h5.65v5.64h-5.65zM204.05 372.26h5.65v5.64h-5.65zM260.55 372.26h5.65v5.64h-5.65zM356.60 372.26h5.65v5.64h-5.65zM373.55 372.26h5.65v5.64h-5.65zM153.20 377.90h5.65v5.64h-5.65zM175.80 377.90h5.65v5.64h-5.65zM204.05 377.90h5.65v5.64h-5.65zM260.55 377.90h5.65v5.64h-5.65zM356.60 377.90h5.65v5.64h-5.65zM373.55 377.90h5.65v5.64h-5.65zM401.80 377.90h16.95v5.64h-16.95zM424.40 377.90h5.65v5.64h-5.65zM175.80 383.54h5.65v5.64h-5.65zM260.55 383.54h5.65v5.64h-5.65zM277.50 383.54h5.65v5.64h-5.65zM373.55 383.54h5.65v5.64h-5.65zM401.80 383.54h16.95v5.64h-16.95zM96.70 389.18h5.65v5.64h-5.65zM204.05 389.18h5.65v5.64h-5.65zM288.80 389.18h5.65v5.64h-5.65zM356.60 389.18h5.65v5.64h-5.65zM384.85 389.18h5.65v5.64h-5.65zM413.10 389.18h5.65v5.64h-5.65zM102.35 394.82h5.65v5.64h-5.65zM119.30 394.82h5.65v5.64h-5.65zM130.60 394.82h5.65v5.64h-5.65zM153.20 394.82h5.65v5.64h-5.65zM181.45 394.82h5.65v5.64h-5.65zM204.05 394.82h5.65v5.64h-5.65zM221.00 394.82h5.65v5.64h-5.65zM300.10 394.82h5.65v5.64h-5.65zM322.70 394.82h5.65v5.64h-5.65zM339.65 394.82h5.65v5.64h-5.65zM356.60 394.82h5.65v5.64h-5.65zM401.80 394.82h5.65v5.64h-5.65zM102.35 400.46h5.65v5.64h-5.65zM119.30 400.46h5.65v5.64h-5.65zM130.60 400.46h5.65v5.64h-5.65zM153.20 400.46h5.65v5.64h-5.65zM175.80 400.46h11.30v5.64h-11.30zM204.05 400.46h5.65v5.64h-5.65zM277.50 400.46h5.65v5.64h-5.65zM288.80 400.46h5.65v5.64h-5.65zM339.65 400.46h5.65v5.64h-5.65zM401.80 400.46h5.65v5.64h-5.65zM102.35 406.10h5.65v5.64h-5.65zM119.30 406.10h5.65v5.64h-5.65zM130.60 406.10h11.30v5.64h-11.30zM153.20 406.10h5.65v5.64h-5.65zM175.80 406.10h5.65v5.64h-5.65zM260.55 406.10h5.65v5.64h-5.65zM277.50 406.10h5.65v5.64h-5.65zM356.60 406.10h5.65v5.64h-5.65zM373.55 406.10h5.65v5.64h-5.65zM407.45 406.10h5.65v5.64h-5.65zM153.20 411.74h5.65v5.64h-5.65zM175.80 411.74h5.65v5.64h-5.65zM260.55 411.74h5.65v5.64h-5.65zM322.70 411.74h5.65v5.64h-5.65zM339.65 411.74h5.65v5.64h-5.65zM356.60 411.74h5.65v5.64h-5.65zM373.55 411.74h5.65v5.64h-5.65zM136.25 417.38h5.65v5.64h-5.65zM175.80 417.38h5.65v5.64h-5.65zM339.65 417.38h5.65v5.64h-5.65zM356.60 417.38h5.65v5.64h-5.65zM373.55 417.38h5.65v5.64h-5.65zM102.35 423.02h5.65v5.64h-5.65zM175.80 423.02h5.65v5.64h-5.65zM288.80 423.02h5.65v5.64h-5.65zM401.80 423.02h5.65v5.64h-5.65zM424.40 423.02h5.65v5.64h-5.65zM102.35 428.66h5.65v5.64h-5.65zM130.60 428.66h5.65v5.64h-5.65zM175.80 428.66h11.30v5.64h-11.30zM204.05 428.66h5.65v5.64h-5.65zM221.00 428.66h5.65v5.64h-5.65zM243.60 428.66h5.65v5.64h-5.65zM260.55 428.66h5.65v5.64h-5.65zM401.80 428.66h16.95v5.64h-16.95zM102.35 434.30h5.65v5.64h-5.65zM119.30 434.30h5.65v5.64h-5.65zM136.25 434.30h5.65v5.64h-5.65zM175.80 434.30h5.65v5.64h-5.65zM198.40 434.30h11.30v5.64h-11.30zM260.55 434.30h5.65v5.64h-5.65zM350.95 434.30h11.30v5.64h-11.30zM401.80 434.30h16.95v5.64h-16.95zM102.35 439.94h5.65v5.64h-5.65zM119.30 439.94h5.65v5.64h-5.65zM130.60 439.94h5.65v5.64h-5.65zM181.45 439.94h5.65v5.64h-5.65zM204.05 439.94h5.65v5.64h-5.65zM288.80 439.94h5.65v5.64h-5.65zM328.35 439.94h5.65v5.64h-5.65zM339.65 439.94h5.65v5.64h-5.65zM362.25 439.94h5.65v5.64h-5.65zM424.40 439.94h5.65v5.64h-5.65zM102.35 445.58h5.65v5.64h-5.65zM181.45 445.58h5.65v5.64h-5.65zM198.40 445.58h5.65v5.64h-5.65zM221.00 445.58h5.65v5.64h-5.65zM232.30 445.58h5.65v5.64h-5.65zM260.55 445.58h5.65v5.64h-5.65zM328.35 445.58h5.65v5.64h-5.65zM339.65 445.58h5.65v5.64h-5.65zM373.55 445.58h5.65v5.64h-5.65zM384.85 445.58h5.65v5.64h-5.65zM96.70 451.22h11.30v5.64h-11.30zM119.30 451.22h5.65v5.64h-5.65zM181.45 451.22h5.65v5.64h-5.65zM209.70 451.22h5.65v5.64h-5.65zM221.00 451.22h5.65v5.64h-5.65zM260.55 451.22h5.65v5.64h-5.65zM339.65 451.22h5.65v5.64h-5.65zM356.60 451.22h5.65v5.64h-5.65zM384.85 451.22h5.65v5.64h-5.65zM413.10 451.22h5.65v5.64h-5.65zM424.40 451.22h5.65v5.64h-5.65zM96.70 456.86h5.65v5.64h-5.65zM119.30 456.86h5.65v5.64h-5.65zM130.60 456.86h5.65v5.64h-5.65zM153.20 456.86h5.65v5.64h-5.65zM175.80 456.86h11.30v5.64h-11.30zM198.40 456.86h11.30v5.64h-11.30zM226.65 456.86h11.30v5.64h-11.30zM260.55 456.86h5.65v5.64h-5.65zM356.60 456.86h5.65v5.64h-5.65zM384.85 456.86h5.65v5.64h-5.65zM407.45 456.86h11.30v5.64h-11.30z"/><path fill="#bfbf40" d="M294.45 293.30h5.65v5.64h-5.65zM147.55 298.94h5.65v5.64h-5.65zM187.10 298.94h5.65v5.64h-5.65zM311.40 298.94h5.65v5.64h-5.65zM334.00 298.94h5.65v5.64h-5.65zM379.20 298.94h5.65v5.64h-5.65zM430.05 298.94h5.65v5.64h-5.65zM91.05 304.58h5.65v5.64h-5.65zM124.95 304.58h5.65v5.64h-5.65zM141.90 304.58h11.30v5.64h-11.30zM221.00 304.58h5.65v5.64h-5.65zM243.60 304.58h5.65v5.64h-5.65zM305.75 304.58h5.65v5.64h-5.65zM350.95 304.58h5.65v5.64h-5.65zM430.05 304.58h5.65v5.64h-5.65zM91.05 310.22h5.65v5.64h-5.65zM141.90 310.22h5.65v5.64h-5.65zM187.10 310.22h5.65v5.64h-5.65zM305.75 310.22h5.65v5.64h-5.65zM350.95 310.22h5.65v5.64h-5.65zM396.15 310.22h5.65v5.64h-5.65zM413.10 310.22h5.65v5.64h-5.65zM108.00 315.86h11.30v5.64h-11.30zM124.95 315.86h5.65v5.64h-5.65zM187.10 315.86h5.65v5.64h-5.65zM266.20 315.86h5.65v5.64h-5.65zM124.95 321.50h5.65v5.64h-5.65zM147.55 321.50h5.65v5.64h-5.65zM170.15 321.50h5.65v5.64h-5.65zM226.65 321.50h5.65v5.64h-5.65zM266.20 321.50h5.65v5.64h-5.65zM350.95 321.50h5.65v5.64h-5.65zM379.20 321.50h5.65v5.64h-5.65zM147.55 327.14h5.65v5.64h-5.65zM170.15 327.14h5.65v5.64h-5.65zM187.10 327.14h5.65v5.64h-5.65zM209.70 327.14h5.65v5.64h-5.65zM430.05 327.14h5.65v5.64h-5.65zM141.90 332.78h5.65v5.64h-5.65zM187.10 332.78h5.65v5.64h-5.65zM136.25 338.42h5.65v5.64h-5.65zM141.90 344.06h5.65v5.64h-5.65zM305.75 344.06h5.65v5.64h-5.65zM345.30 344.06h11.30v5.64h-11.30zM124.95 349.70h5.65v5.64h-5.65zM141.90 349.70h5.65v5.64h-5.65zM209.70 349.70h5.65v5.64h-5.65zM294.45 349.70h5.65v5.64h-5.65zM141.90 355.34h5.65v5.64h-5.65zM209.70 355.34h5.65v5.64h-5.65zM294.45 355.34h5.65v5.64h-5.65zM379.20 355.34h5.65v5.64h-5.65zM215.35 360.98h5.65v5.64h-5.65zM249.25 360.98h5.65v5.64h-5.65zM300.10 360.98h5.65v5.64h-5.65zM322.70 360.98h5.65v5.64h-5.65zM345.30 360.98h5.65v5.64h-5.65zM209.70 366.62h5.65v5.64h-5.65zM300.10 366.62h5.65v5.64h-5.65zM311.40 366.62h5.65v5.64h-5.65zM350.95 366.62h5.65v5.64h-5.65zM379.20 366.62h5.65v5.64h-5.65zM170.15 372.26h5.65v5.64h-5.65zM209.70 372.26h5.65v5.64h-5.65zM345.30 372.26h5.65v5.64h-5.65zM124.95 377.90h5.65v5.64h-5.65zM141.90 377.90h11.30v5.64h-11.30zM170.15 377.90h5.65v5.64h-5.65zM209.70 377.90h5.65v5.64h-5.65zM249.25 377.90h5.65v5.64h-5.65zM345.30 377.90h5.65v5.64h-5.65zM430.05 377.90h5.65v5.64h-5.65zM147.55 383.54h5.65v5.64h-5.65zM187.10 383.54h5.65v5.64h-5.65zM209.70 383.54h5.65v5.64h-5.65zM305.75 383.54h5.65v5.64h-5.65zM345.30 383.54h5.65v5.64h-5.65zM379.20 383.54h5.65v5.64h-5.65zM430.05 383.54h5.65v5.64h-5.65zM108.00 389.18h5.65v5.64h-5.65zM192.75 389.18h5.65v5.64h-5.65zM215.35 389.18h5.65v5.64h-5.65zM266.20 389.18h5.65v5.64h-5.65zM294.45 389.18h5.65v5.64h-5.65zM108.00 394.82h5.65v5.64h-5.65zM141.90 394.82h5.65v5.64h-5.65zM209.70 394.82h5.65v5.64h-5.65zM266.20 394.82h5.65v5.64h-5.65zM350.95 394.82h5.65v5.64h-5.65zM141.90 400.46h5.65v5.64h-5.65zM187.10 400.46h5.65v5.64h-5.65zM209.70 400.46h5.65v5.64h-5.65zM221.00 400.46h5.65v5.64h-5.65zM271.85 400.46h5.65v5.64h-5.65zM108.00 406.10h11.30v5.64h-11.30zM124.95 406.10h5.65v5.64h-5.65zM209.70 406.10h5.65v5.64h-5.65zM221.00 406.10h5.65v5.64h-5.65zM271.85 406.10h5.65v5.64h-5.65zM294.45 406.10h5.65v5.64h-5.65zM305.75 406.10h5.65v5.64h-5.65zM430.05 406.10h5.65v5.64h-5.65zM108.00 411.74h11.30v5.64h-11.30zM124.95 411.74h5.65v5.64h-5.65zM147.55 411.74h5.65v5.64h-5.65zM187.10 411.74h5.65v5.64h-5.65zM209.70 411.74h5.65v5.64h-5.65zM271.85 411.74h5.65v5.64h-5.65zM294.45 411.74h5.65v5.64h-5.65zM305.75 411.74h5.65v5.64h-5.65zM350.95 411.74h5.65v5.64h-5.65zM430.05 411.74h5.65v5.64h-5.65zM108.00 417.38h11.30v5.64h-11.30zM124.95 417.38h5.65v5.64h-5.65zM187.10 417.38h5.65v5.64h-5.65zM209.70 417.38h5.65v5.64h-5.65zM271.85 417.38h5.65v5.64h-5.65zM294.45 417.38h5.65v5.64h-5.65zM305.75 417.38h5.65v5.64h-5.65zM350.95 417.38h5.65v5.64h-5.65zM430.05 417.38h5.65v5.64h-5.65zM108.00 423.02h5.65v5.64h-5.65zM124.95 423.02h5.65v5.64h-5.65zM187.10 423.02h5.65v5.64h-5.65zM209.70 423.02h5.65v5.64h-5.65zM350.95 423.02h5.65v5.64h-5.65zM124.95 428.66h5.65v5.64h-5.65zM249.25 428.66h5.65v5.64h-5.65zM305.75 428.66h5.65v5.64h-5.65zM350.95 428.66h5.65v5.64h-5.65zM430.05 428.66h5.65v5.64h-5.65zM305.75 434.30h5.65v5.64h-5.65zM124.95 439.94h5.65v5.64h-5.65zM215.35 439.94h11.30v5.64h-11.30zM379.20 439.94h5.65v5.64h-5.65zM113.65 445.58h5.65v5.64h-5.65zM170.15 445.58h5.65v5.64h-5.65zM209.70 445.58h5.65v5.64h-5.65zM305.75 445.58h5.65v5.64h-5.65zM350.95 445.58h5.65v5.64h-5.65zM430.05 445.58h5.65v5.64h-5.65zM170.15 451.22h5.65v5.64h-5.65zM192.75 451.22h5.65v5.64h-5.65zM243.60 451.22h5.65v5.64h-5.65zM147.55 456.86h5.65v5.64h-5.65zM187.10 456.86h5.65v5.64h-5.65zM271.85 456.86h5.65v5.64h-5.65zM294.45 456.86h5.65v5.64h-5.65zM430.05 456.86h5.65v5.64h-5.65z"/><path fill="#9f9f60" d="M305.75 293.30h5.65v5.64h-5.65zM108.00 298.94h11.30v5.64h-11.30zM136.25 298.94h5.65v5.64h-5.65zM198.40 298.94h5.65v5.64h-5.65zM209.70 298.94h5.65v5.64h-5.65zM226.65 298.94h5.65v5.64h-5.65zM243.60 298.94h5.65v5.64h-5.65zM266.20 298.94h5.65v5.64h-5.65zM300.10 298.94h5.65v5.64h-5.65zM350.95 298.94h11.30v5.64h-11.30zM390.50 298.94h5.65v5.64h-5.65zM266.20 304.58h5.65v5.64h-5.65zM283.15 304.58h5.65v5.64h-5.65zM294.45 304.58h5.65v5.64h-5.65zM170.15 310.22h5.65v5.64h-5.65zM198.40 310.22h5.65v5.64h-5.65zM209.70 310.22h11.30v5.64h-11.30zM294.45 310.22h5.65v5.64h-5.65zM401.80 310.22h5.65v5.64h-5.65zM170.15 315.86h5.65v5.64h-5.65zM271.85 315.86h5.65v5.64h-5.65zM294.45 315.86h5.65v5.64h-5.65zM322.70 315.86h5.65v5.64h-5.65zM430.05 315.86h5.65v5.64h-5.65zM113.65 321.50h5.65v5.64h-5.65zM136.25 321.50h11.30v5.64h-11.30zM175.80 321.50h5.65v5.64h-5.65zM209.70 321.50h5.65v5.64h-5.65zM243.60 321.50h5.65v5.64h-5.65zM254.90 321.50h5.65v5.64h-5.65zM271.85 321.50h5.65v5.64h-5.65zM305.75 321.50h16.95v5.64h-16.95zM430.05 321.50h5.65v5.64h-5.65zM113.65 327.14h5.65v5.64h-5.65zM124.95 327.14h5.65v5.64h-5.65zM226.65 327.14h5.65v5.64h-5.65zM243.60 327.14h5.65v5.64h-5.65zM254.90 327.14h5.65v5.64h-5.65zM271.85 327.14h5.65v5.64h-5.65zM294.45 327.14h5.65v5.64h-5.65zM322.70 327.14h5.65v5.64h-5.65zM215.35 332.78h5.65v5.64h-5.65zM249.25 332.78h11.30v5.64h-11.30zM271.85 332.78h5.65v5.64h-5.65zM294.45 332.78h5.65v5.64h-5.65zM350.95 332.78h5.65v5.64h-5.65zM379.20 332.78h5.65v5.64h-5.65zM209.70 338.42h5.65v5.64h-5.65zM226.65 338.42h5.65v5.64h-5.65zM271.85 338.42h5.65v5.64h-5.65zM300.10 338.42h11.30v5.64h-11.30zM108.00 344.06h5.65v5.64h-5.65zM209.70 344.06h5.65v5.64h-5.65zM271.85 344.06h5.65v5.64h-5.65zM108.00 349.70h5.65v5.64h-5.65zM198.40 349.70h5.65v5.64h-5.65zM243.60 349.70h5.65v5.64h-5.65zM254.90 349.70h5.65v5.64h-5.65zM271.85 349.70h5.65v5.64h-5.65zM345.30 349.70h11.30v5.64h-11.30zM379.20 349.70h5.65v5.64h-5.65zM108.00 355.34h5.65v5.64h-5.65zM243.60 355.34h5.65v5.64h-5.65zM254.90 355.34h5.65v5.64h-5.65zM271.85 355.34h5.65v5.64h-5.65zM350.95 355.34h5.65v5.64h-5.65zM170.15 360.98h5.65v5.64h-5.65zM254.90 360.98h5.65v5.64h-5.65zM271.85 360.98h5.65v5.64h-5.65zM305.75 360.98h5.65v5.64h-5.65zM249.25 366.62h11.30v5.64h-11.30zM271.85 366.62h5.65v5.64h-5.65zM322.70 366.62h5.65v5.64h-5.65zM124.95 372.26h5.65v5.64h-5.65zM187.10 372.26h5.65v5.64h-5.65zM254.90 372.26h5.65v5.64h-5.65zM294.45 372.26h5.65v5.64h-5.65zM305.75 372.26h5.65v5.64h-5.65zM350.95 372.26h5.65v5.64h-5.65zM379.20 372.26h5.65v5.64h-5.65zM407.45 372.26h5.65v5.64h-5.65zM430.05 372.26h5.65v5.64h-5.65zM187.10 377.90h5.65v5.64h-5.65zM254.90 377.90h5.65v5.64h-5.65zM271.85 377.90h5.65v5.64h-5.65zM294.45 377.90h5.65v5.64h-5.65zM379.20 377.90h5.65v5.64h-5.65zM136.25 383.54h5.65v5.64h-5.65zM254.90 383.54h5.65v5.64h-5.65zM300.10 383.54h5.65v5.64h-5.65zM124.95 389.18h5.65v5.64h-5.65zM147.55 389.18h5.65v5.64h-5.65zM187.10 389.18h5.65v5.64h-5.65zM254.90 389.18h5.65v5.64h-5.65zM305.75 389.18h5.65v5.64h-5.65zM379.20 389.18h5.65v5.64h-5.65zM254.90 394.82h5.65v5.64h-5.65zM198.40 400.46h5.65v5.64h-5.65zM254.90 400.46h5.65v5.64h-5.65zM294.45 400.46h5.65v5.64h-5.65zM413.10 400.46h11.30v5.64h-11.30zM198.40 406.10h5.65v5.64h-5.65zM254.90 406.10h5.65v5.64h-5.65zM350.95 406.10h5.65v5.64h-5.65zM198.40 411.74h5.65v5.64h-5.65zM254.90 411.74h5.65v5.64h-5.65zM198.40 417.38h5.65v5.64h-5.65zM254.90 417.38h5.65v5.64h-5.65zM141.90 423.02h5.65v5.64h-5.65zM198.40 423.02h5.65v5.64h-5.65zM254.90 423.02h5.65v5.64h-5.65zM294.45 423.02h5.65v5.64h-5.65zM379.20 423.02h5.65v5.64h-5.65zM141.90 428.66h5.65v5.64h-5.65zM209.70 428.66h11.30v5.64h-11.30zM254.90 428.66h5.65v5.64h-5.65zM271.85 428.66h5.65v5.64h-5.65zM294.45 428.66h5.65v5.64h-5.65zM379.20 428.66h5.65v5.64h-5.65zM124.95 434.30h5.65v5.64h-5.65zM187.10 434.30h5.65v5.64h-5.65zM209.70 434.30h11.30v5.64h-11.30zM249.25 434.30h11.30v5.64h-11.30zM271.85 434.30h5.65v5.64h-5.65zM294.45 434.30h5.65v5.64h-5.65zM430.05 434.30h5.65v5.64h-5.65zM209.70 439.94h5.65v5.64h-5.65zM249.25 439.94h11.30v5.64h-11.30zM300.10 439.94h5.65v5.64h-5.65zM108.00 445.58h5.65v5.64h-5.65zM124.95 445.58h22.60v5.64h-22.60zM249.25 445.58h11.30v5.64h-11.30zM271.85 445.58h5.65v5.64h-5.65zM136.25 451.22h5.65v5.64h-5.65zM198.40 451.22h5.65v5.64h-5.65zM254.90 451.22h5.65v5.64h-5.65zM271.85 451.22h5.65v5.64h-5.65zM294.45 451.22h22.60v5.64h-22.60zM350.95 451.22h5.65v5.64h-5.65zM170.15 456.86h5.65v5.64h-5.65zM215.35 456.86h5.65v5.64h-5.65zM249.25 456.86h11.30v5.64h-11.30zM305.75 456.86h5.65v5.64h-5.65z"/><path fill="#ff0000" d="M334.00 293.30h5.65v5.64h-5.65zM334.00 423.02h5.65v5.64h-5.65z"/><path fill="#ffaa00" d="M396.15 298.94h5.65v5.64h-5.65zM158.85 304.58h5.65v5.64h-5.65zM271.85 304.58h5.65v5.64h-5.65zM283.15 315.86h5.65v5.64h-5.65zM334.00 315.86h5.65v5.64h-5.65zM91.05 321.50h5.65v5.64h-5.65zM283.15 321.50h5.65v5.64h-5.65zM283.15 327.14h5.65v5.64h-5.65zM334.00 327.14h5.65v5.64h-5.65zM283.15 332.78h5.65v5.64h-5.65zM367.90 332.78h5.65v5.64h-5.65zM91.05 338.42h5.65v5.64h-5.65zM158.85 338.42h5.65v5.64h-5.65zM390.50 338.42h11.30v5.64h-11.30zM283.15 344.06h5.65v5.64h-5.65zM334.00 344.06h5.65v5.64h-5.65zM390.50 344.06h11.30v5.64h-11.30zM158.85 349.70h5.65v5.64h-5.65zM283.15 349.70h5.65v5.64h-5.65zM390.50 349.70h11.30v5.64h-11.30zM91.05 355.34h5.65v5.64h-5.65zM367.90 355.34h5.65v5.64h-5.65zM390.50 355.34h11.30v5.64h-11.30zM91.05 360.98h5.65v5.64h-5.65zM192.75 360.98h5.65v5.64h-5.65zM390.50 360.98h11.30v5.64h-11.30zM390.50 366.62h5.65v5.64h-5.65zM283.15 372.26h5.65v5.64h-5.65zM367.90 372.26h5.65v5.64h-5.65zM283.15 377.90h5.65v5.64h-5.65zM390.50 377.90h5.65v5.64h-5.65zM237.95 383.54h5.65v5.64h-5.65zM334.00 383.54h5.65v5.64h-5.65zM390.50 383.54h5.65v5.64h-5.65zM237.95 389.18h5.65v5.64h-5.65zM334.00 389.18h5.65v5.64h-5.65zM158.85 394.82h5.65v5.64h-5.65zM237.95 394.82h5.65v5.64h-5.65zM158.85 400.46h5.65v5.64h-5.65zM334.00 406.10h5.65v5.64h-5.65zM334.00 417.38h5.65v5.64h-5.65zM367.90 423.02h5.65v5.64h-5.65zM390.50 423.02h11.30v5.64h-11.30zM367.90 428.66h5.65v5.64h-5.65zM390.50 428.66h5.65v5.64h-5.65zM390.50 434.30h5.65v5.64h-5.65zM390.50 445.58h5.65v5.64h-5.65zM158.85 456.86h5.65v5.64h-5.65zM390.50 456.86h11.30v5.64h-11.30z"/><path fill="#ff8000" d="M396.15 304.58h5.65v5.64h-5.65zM334.00 310.22h5.65v5.64h-5.65zM396.15 315.86h5.65v5.64h-5.65zM158.85 332.78h5.65v5.64h-5.65zM334.00 332.78h5.65v5.64h-5.65zM283.15 338.42h5.65v5.64h-5.65zM158.85 344.06h5.65v5.64h-5.65zM158.85 355.34h5.65v5.64h-5.65zM237.95 355.34h5.65v5.64h-5.65zM283.15 355.34h5.65v5.64h-5.65zM334.00 355.34h5.65v5.64h-5.65zM237.95 360.98h5.65v5.64h-5.65zM158.85 366.62h5.65v5.64h-5.65zM237.95 366.62h5.65v5.64h-5.65zM396.15 366.62h5.65v5.64h-5.65zM396.15 377.90h5.65v5.64h-5.65zM283.15 383.54h5.65v5.64h-5.65zM396.15 383.54h5.65v5.64h-5.65zM158.85 389.18h5.65v5.64h-5.65zM334.00 400.46h5.65v5.64h-5.65zM158.85 406.10h5.65v5.64h-5.65zM158.85 411.74h5.65v5.64h-5.65zM334.00 411.74h5.65v5.64h-5.65zM158.85 417.38h5.65v5.64h-5.65zM158.85 423.02h5.65v5.64h-5.65zM283.15 423.02h5.65v5.64h-5.65zM91.05 428.66h5.65v5.64h-5.65zM158.85 428.66h5.65v5.64h-5.65zM237.95 428.66h5.65v5.64h-5.65zM283.15 428.66h5.65v5.64h-5.65zM396.15 428.66h5.65v5.64h-5.65zM91.05 434.30h5.65v5.64h-5.65zM158.85 434.30h5.65v5.64h-5.65zM237.95 434.30h5.65v5.64h-5.65zM283.15 434.30h5.65v5.64h-5.65zM367.90 434.30h5.65v5.64h-5.65zM283.15 439.94h5.65v5.64h-5.65zM334.00 439.94h5.65v5.64h-5.65z"/></g>
<g class="tx">
<text class="lr" font-size="4.9" x="439.80" y="297.87">HCoV-HKU1</text>
<text class="lb" font-size="5.45" x="439.20" y="303.73">MurCoV HKU13</text>
<text class="lb" font-size="5.45" x="439.20" y="309.37">BuCoV HKU11</text>
<text class="lb" font-size="5.45" x="439.20" y="315.01">SW1</text>
<text class="lb" font-size="5.45" x="439.20" y="320.65">ThCoV HKU12</text>
<text class="lr" font-size="4.9" x="439.80" y="326.07">SARSr-CoV</text>
<text class="lb" font-size="5.45" x="439.20" y="331.93">SARSr-Rh-BatCoV HKU3</text>
<text class="lr" font-size="4.9" x="439.80" y="337.35">HCoV-NL63</text>
<text class="lb" font-size="5.45" x="439.20" y="343.21">ECoV</text>
<text class="lr" font-size="4.9" x="439.80" y="348.63">HCoV-OC43</text>
<text class="lb" font-size="5.45" x="439.20" y="354.49">PHEV</text>
<text class="lb" font-size="5.45" x="439.20" y="360.13">Ty-BatCoV HKU4</text>
<text class="lb" font-size="5.45" x="439.20" y="365.77">Mi-BatCoV HKU8</text>
<text class="lb" font-size="5.45" x="439.20" y="371.41">Rh-BatCoVHKU2</text>
<text class="lb" font-size="5.45" x="439.20" y="377.05">BCoV</text>
<text class="lr" font-size="4.9" x="439.80" y="382.47">HCoV-229E</text>
<text class="lr" font-size="4.9" x="439.80" y="388.11">MERS-CoV</text>
<text class="lb" font-size="5.45" x="439.20" y="393.97">Sc-BatCoV 512</text>
<text class="lr" font-size="4.9" x="439.80" y="399.39">SARS-CoV-2</text>
<text class="lb" font-size="5.45" x="439.20" y="405.25">TCoV</text>
<text class="lb" font-size="5.45" x="439.20" y="410.89">FIPV</text>
<text class="lb" font-size="5.45" x="439.20" y="416.53">PRCV</text>
<text class="lb" font-size="5.45" x="439.20" y="422.17">TGEV</text>
<text class="lb" font-size="5.45" x="439.20" y="427.81">IBV</text>
<text class="lb" font-size="5.45" x="439.20" y="433.45">Mi-BatCoV 1A</text>
<text class="lb" font-size="5.45" x="439.20" y="439.09">Mi-BatCoV 1B</text>
<text class="lb" font-size="5.45" x="439.20" y="444.73">Ro-BatCoV HKU9</text>
<text class="lb" font-size="5.45" x="439.20" y="450.37">Pi-BatCoV HKU5</text>
<text class="lb" font-size="5.45" x="439.20" y="456.01">MHV</text>
<text class="lb" font-size="5.45" x="439.20" y="461.65">PEDV</text>
<path class="tk" d="M436.4 296.12H438.0M436.4 301.76H438.0M436.4 307.40H438.0M436.4 313.04H438.0M436.4 318.68H438.0M436.4 324.32H438.0M436.4 329.96H438.0M436.4 335.60H438.0M436.4 341.24H438.0M436.4 346.88H438.0M436.4 352.52H438.0M436.4 358.16H438.0M436.4 363.80H438.0M436.4 369.44H438.0M436.4 375.08H438.0M436.4 380.72H438.0M436.4 386.36H438.0M436.4 392.00H438.0M436.4 397.64H438.0M436.4 403.28H438.0M436.4 408.92H438.0M436.4 414.56H438.0M436.4 420.20H438.0M436.4 425.84H438.0M436.4 431.48H438.0M436.4 437.12H438.0M436.4 442.76H438.0M436.4 448.40H438.0M436.4 454.04H438.0M436.4 459.68H438.0"/>
<text class="cl" text-anchor="end" font-size="5.1" transform="translate(78.72,466.80) rotate(-90)">UGA</text>
<text class="cl" text-anchor="end" font-size="5.1" transform="translate(84.37,466.80) rotate(-90)">UAG</text>
<text class="cl" text-anchor="end" font-size="5.1" transform="translate(90.02,466.80) rotate(-90)">UAA</text>
<text class="cl" text-anchor="end" font-size="5.1" transform="translate(95.67,466.80) rotate(-90)">GCU</text>
<text class="cl" text-anchor="end" font-size="5.1" transform="translate(101.32,466.80) rotate(-90)">GCG</text>
<text class="cl" text-anchor="end" font-size="5.1" transform="translate(106.97,466.80) rotate(-90)">GCC</text>
<text class="cl" text-anchor="end" font-size="5.1" transform="translate(112.62,466.80) rotate(-90)">GCA</text>
<text class="cl" text-anchor="end" font-size="5.1" transform="translate(118.27,466.80) rotate(-90)">UGU</text>
<text class="cl" text-anchor="end" font-size="5.1" transform="translate(123.92,466.80) rotate(-90)">UGC</text>
<text class="cl" text-anchor="end" font-size="5.1" transform="translate(129.58,466.80) rotate(-90)">GAU</text>
<text class="cl" text-anchor="end" font-size="5.1" transform="translate(135.23,466.80) rotate(-90)">GAC</text>
<text class="cl" text-anchor="end" font-size="5.1" transform="translate(140.88,466.80) rotate(-90)">GAG</text>
<text class="cl" text-anchor="end" font-size="5.1" transform="translate(146.53,466.80) rotate(-90)">GAA</text>
<text class="cl" text-anchor="end" font-size="5.1" transform="translate(152.18,466.80) rotate(-90)">UUU</text>
<text class="cl" text-anchor="end" font-size="5.1" transform="translate(157.83,466.80) rotate(-90)">UUC</text>
<text class="cl" text-anchor="end" font-size="5.1" transform="translate(163.48,466.80) rotate(-90)">GGU</text>
<text class="cl" text-anchor="end" font-size="5.1" transform="translate(169.12,466.80) rotate(-90)">GGG</text>
<text class="cl" text-anchor="end" font-size="5.1" transform="translate(174.78,466.80) rotate(-90)">GGC</text>
<text class="cl" text-anchor="end" font-size="5.1" transform="translate(180.43,466.80) rotate(-90)">GGA</text>
<text class="cl" text-anchor="end" font-size="5.1" transform="translate(186.08,466.80) rotate(-90)">CAC</text>
<text class="cl" text-anchor="end" font-size="5.1" transform="translate(191.73,466.80) rotate(-90)">CAU</text>
<text class="cl" text-anchor="end" font-size="5.1" transform="translate(197.38,466.80) rotate(-90)">AUU</text>
<text class="cl" text-anchor="end" font-size="5.1" transform="translate(203.03,466.80) rotate(-90)">AUC</text>
<text class="cl" text-anchor="end" font-size="5.1" transform="translate(208.68,466.80) rotate(-90)">AUA</text>
<text class="cl" text-anchor="end" font-size="5.1" transform="translate(214.33,466.80) rotate(-90)">AAA</text>
<text class="cl" text-anchor="end" font-size="5.1" transform="translate(219.98,466.80) rotate(-90)">AAG</text>
<text class="cl" text-anchor="end" font-size="5.1" transform="translate(225.63,466.80) rotate(-90)">CUG</text>
<text class="cl" text-anchor="end" font-size="5.1" transform="translate(231.28,466.80) rotate(-90)">CUA</text>
<text class="cl" text-anchor="end" font-size="5.1" transform="translate(236.93,466.80) rotate(-90)">CUU</text>
<text class="cl" text-anchor="end" font-size="5.1" transform="translate(242.58,466.80) rotate(-90)">CUC</text>
<text class="cl" text-anchor="end" font-size="5.1" transform="translate(248.23,466.80) rotate(-90)">UUG</text>
<text class="cl" text-anchor="end" font-size="5.1" transform="translate(253.88,466.80) rotate(-90)">UUA</text>
<text class="cl" text-anchor="end" font-size="5.1" transform="translate(259.53,466.80) rotate(-90)">AUG</text>
<text class="cl" text-anchor="end" font-size="5.1" transform="translate(265.18,466.80) rotate(-90)">AAU</text>
<text class="cl" text-anchor="end" font-size="5.1" transform="translate(270.82,466.80) rotate(-90)">AAC</text>
<text class="cl" text-anchor="end" font-size="5.1" transform="translate(276.48,466.80) rotate(-90)">CCG</text>
<text class="cl" text-anchor="end" font-size="5.1" transform="translate(282.13,466.80) rotate(-90)">CCU</text>
<text class="cl" text-anchor="end" font-size="5.1" transform="translate(287.78,466.80) rotate(-90)">CCC</text>
<text class="cl" text-anchor="end" font-size="5.1" transform="translate(293.43,466.80) rotate(-90)">CCA</text>
<text class="cl" text-anchor="end" font-size="5.1" transform="translate(299.07,466.80) rotate(-90)">CAG</text>
<text class="cl" text-anchor="end" font-size="5.1" transform="translate(304.73,466.80) rotate(-90)">CAA</text>
<text class="cl" text-anchor="end" font-size="5.1" transform="translate(310.38,466.80) rotate(-90)">AGA</text>
<text class="cl" text-anchor="end" font-size="5.1" transform="translate(316.03,466.80) rotate(-90)">AGG</text>
<text class="cl" text-anchor="end" font-size="5.1" transform="translate(321.68,466.80) rotate(-90)">CGA</text>
<text class="cl" text-anchor="end" font-size="5.1" transform="translate(327.32,466.80) rotate(-90)">CGU</text>
<text class="cl" text-anchor="end" font-size="5.1" transform="translate(332.97,466.80) rotate(-90)">CGG</text>
<text class="cl" text-anchor="end" font-size="5.1" transform="translate(338.63,466.80) rotate(-90)">CGC</text>
<text class="cl" text-anchor="end" font-size="5.1" transform="translate(344.28,466.80) rotate(-90)">UCG</text>
<text class="cl" text-anchor="end" font-size="5.1" transform="translate(349.93,466.80) rotate(-90)">UCA</text>
<text class="cl" text-anchor="end" font-size="5.1" transform="translate(355.57,466.80) rotate(-90)">UCU</text>
<text class="cl" text-anchor="end" font-size="5.1" transform="translate(361.23,466.80) rotate(-90)">UCC</text>
<text class="cl" text-anchor="end" font-size="5.1" transform="translate(366.88,466.80) rotate(-90)">AGU</text>
<text class="cl" text-anchor="end" font-size="5.1" transform="translate(372.53,466.80) rotate(-90)">AGC</text>
<text class="cl" text-anchor="end" font-size="5.1" transform="translate(378.18,466.80) rotate(-90)">ACG</text>
<text class="cl" text-anchor="end" font-size="5.1" transform="translate(383.82,466.80) rotate(-90)">ACU</text>
<text class="cl" text-anchor="end" font-size="5.1" transform="translate(389.48,466.80) rotate(-90)">ACC</text>
<text class="cl" text-anchor="end" font-size="5.1" transform="translate(395.13,466.80) rotate(-90)">ACA</text>
<text class="cl" text-anchor="end" font-size="5.1" transform="translate(400.78,466.80) rotate(-90)">GUU</text>
<text class="cl" text-anchor="end" font-size="5.1" transform="translate(406.43,466.80) rotate(-90)">GUG</text>
<text class="cl" text-anchor="end" font-size="5.1" transform="translate(412.07,466.80) rotate(-90)">GUC</text>
<text class="cl" text-anchor="end" font-size="5.1" transform="translate(417.73,466.80) rotate(-90)">GUA</text>
<text class="cl" text-anchor="end" font-size="5.1" transform="translate(423.38,466.80) rotate(-90)">UGG</text>
<text class="cl" text-anchor="end" font-size="5.1" transform="translate(429.03,466.80) rotate(-90)">UAC</text>
<text class="cl" text-anchor="end" font-size="5.1" transform="translate(434.68,466.80) rotate(-90)">UAU</text>
<path class="tk" d="M76.92 463.40v1.3M82.57 463.40v1.3M88.22 463.40v1.3M93.88 463.40v1.3M99.52 463.40v1.3M105.17 463.40v1.3M110.82 463.40v1.3M116.47 463.40v1.3M122.12 463.40v1.3M127.78 463.40v1.3M133.43 463.40v1.3M139.07 463.40v1.3M144.72 463.40v1.3M150.38 463.40v1.3M156.03 463.40v1.3M161.68 463.40v1.3M167.32 463.40v1.3M172.97 463.40v1.3M178.62 463.40v1.3M184.28 463.40v1.3M189.93 463.40v1.3M195.57 463.40v1.3M201.23 463.40v1.3M206.88 463.40v1.3M212.53 463.40v1.3M218.18 463.40v1.3M223.83 463.40v1.3M229.47 463.40v1.3M235.12 463.40v1.3M240.78 463.40v1.3M246.43 463.40v1.3M252.08 463.40v1.3M257.73 463.40v1.3M263.38 463.40v1.3M269.02 463.40v1.3M274.68 463.40v1.3M280.33 463.40v1.3M285.98 463.40v1.3M291.62 463.40v1.3M297.27 463.40v1.3M302.93 463.40v1.3M308.58 463.40v1.3M314.23 463.40v1.3M319.88 463.40v1.3M325.52 463.40v1.3M331.17 463.40v1.3M336.83 463.40v1.3M342.48 463.40v1.3M348.12 463.40v1.3M353.77 463.40v1.3M359.43 463.40v1.3M365.08 463.40v1.3M370.73 463.40v1.3M376.38 463.40v1.3M382.02 463.40v1.3M387.68 463.40v1.3M393.33 463.40v1.3M398.98 463.40v1.3M404.62 463.40v1.3M410.27 463.40v1.3M415.93 463.40v1.3M421.58 463.40v1.3M427.23 463.40v1.3M432.88 463.40v1.3"/>
<rect x="236.0" y="517.45" width="4.4" height="6.0" fill="#0000ff"/><rect x="240.55" y="517.45" width="18.6" height="6.0" fill="url(#lg1)"/><rect x="259.45" y="517.45" width="14.45" height="6.0" fill="url(#lg2)"/><text class="lgl" text-anchor="end" font-size="3.0" transform="translate(237.25,527.85) rotate(-90)">0.0000</text><text class="lgl" text-anchor="end" font-size="3.0" transform="translate(241.94,527.85) rotate(-90)">0.0250</text><text class="lgl" text-anchor="end" font-size="3.0" transform="translate(246.62,527.85) rotate(-90)">0.0500</text><text class="lgl" text-anchor="end" font-size="3.0" transform="translate(251.31,527.85) rotate(-90)">0.0750</text><text class="lgl" text-anchor="end" font-size="3.0" transform="translate(256.00,527.85) rotate(-90)">0.1000</text><text class="lgl" text-anchor="end" font-size="3.0" transform="translate(260.69,527.85) rotate(-90)">0.1250</text><text class="lgl" text-anchor="end" font-size="3.0" transform="translate(265.38,527.85) rotate(-90)">0.1500</text><text class="lgl" text-anchor="end" font-size="3.0" transform="translate(270.06,527.85) rotate(-90)">0.1750</text><text class="lgl" text-anchor="end" font-size="3.0" transform="translate(274.75,527.85) rotate(-90)">0.2000</text><path class="tk2" d="M236.20 524.05v0.9M240.89 524.05v0.9M245.57 524.05v0.9M250.26 524.05v0.9M254.95 524.05v0.9M259.64 524.05v0.9M264.32 524.05v0.9M269.01 524.05v0.9M273.70 524.05v0.9"/>
<path class="ax" d="M33.40 462.50H69.80M69.80 461.90V463.10M62.52 461.90V463.10M55.24 461.90V463.10M47.96 461.90V463.10M40.68 461.90V463.10M33.40 461.90V463.10"/><text class="axl" text-anchor="middle" font-size="3.5" x="69.80" y="468.80">0</text><text class="axl" text-anchor="middle" font-size="3.5" x="62.52" y="468.80">1</text><text class="axl" text-anchor="middle" font-size="3.5" x="55.24" y="468.80">2</text><text class="axl" text-anchor="middle" font-size="3.5" x="47.96" y="468.80">3</text><text class="axl" text-anchor="middle" font-size="3.5" x="40.68" y="468.80">4</text><text class="axl" text-anchor="middle" font-size="3.5" x="33.40" y="468.80">5</text><text class="axt" text-anchor="middle" font-size="4.3" x="50.40" y="475.70">Euclidean distance</text>
</g>
<path class="dg" d="M50.90 313.04L70.20 313.04M50.90 318.68L70.20 318.68M50.90 313.04L50.90 318.68M49.50 307.40L70.20 307.40M49.50 315.86L50.90 315.86M49.50 307.40L49.50 315.86M44.30 301.76L70.20 301.76M44.30 311.63L49.50 311.63M44.30 301.76L44.30 311.63M32.70 296.12L70.20 296.12M32.70 306.69L44.30 306.69M32.70 296.12L32.70 306.69M56.20 324.32L70.20 324.32M56.20 329.96L70.20 329.96M56.20 324.32L56.20 329.96M59.50 352.52L70.20 352.52M59.50 358.16L70.20 358.16M59.50 352.52L59.50 358.16M56.20 346.88L70.20 346.88M56.20 355.34L59.50 355.34M56.20 346.88L56.20 355.34M54.80 341.24L70.20 341.24M54.80 351.11L56.20 351.11M54.80 341.24L54.80 351.11M54.30 335.60L70.20 335.60M54.30 346.18L54.80 346.18M54.30 335.60L54.30 346.18M56.20 363.80L70.20 363.80M56.20 369.44L70.20 369.44M56.20 363.80L56.20 369.44M57.90 380.72L70.20 380.72M57.90 386.36L70.20 386.36M57.90 380.72L57.90 386.36M55.30 375.08L70.20 375.08M55.30 383.54L57.90 383.54M55.30 375.08L55.30 383.54M52.80 366.62L56.20 366.62M52.80 379.31L55.30 379.31M52.80 366.62L52.80 379.31M52.40 340.89L54.30 340.89M52.40 372.97L52.80 372.97M52.40 340.89L52.40 372.97M64.80 414.56L70.20 414.56M64.80 420.20L70.20 420.20M64.80 414.56L64.80 420.20M61.30 408.92L70.20 408.92M61.30 417.38L64.80 417.38M61.30 408.92L61.30 417.38M56.10 403.28L70.20 403.28M56.10 413.15L61.30 413.15M56.10 403.28L56.10 413.15M52.70 397.64L70.20 397.64M52.70 408.21L56.10 408.21M52.70 397.64L52.70 408.21M50.00 392.00L70.20 392.00M50.00 402.93L52.70 402.93M50.00 392.00L50.00 402.93M49.30 356.93L52.40 356.93M49.30 397.46L50.00 397.46M49.30 356.93L49.30 397.46M49.10 327.14L56.20 327.14M49.10 377.20L49.30 377.20M49.10 327.14L49.10 377.20M57.90 431.48L70.20 431.48M57.90 437.12L70.20 437.12M57.90 431.48L57.90 437.12M51.00 425.84L70.20 425.84M51.00 434.30L57.90 434.30M51.00 425.84L51.00 434.30M56.10 454.04L70.20 454.04M56.10 459.68L70.20 459.68M56.10 454.04L56.10 459.68M52.70 448.40L70.20 448.40M52.70 456.86L56.10 456.86M52.70 448.40L52.70 456.86M48.40 442.76L70.20 442.76M48.40 452.63L52.70 452.63M48.40 442.76L48.40 452.63M47.50 430.07L51.00 430.07M47.50 447.69L48.40 447.69M47.50 430.07L47.50 447.69M32.80 352.17L49.10 352.17M32.80 438.88L47.50 438.88M32.80 352.17L32.80 438.88M30.70 301.41L32.70 301.41M30.70 395.53L32.80 395.53M30.70 301.41L30.70 395.53"/>
</svg>
</body></html>
